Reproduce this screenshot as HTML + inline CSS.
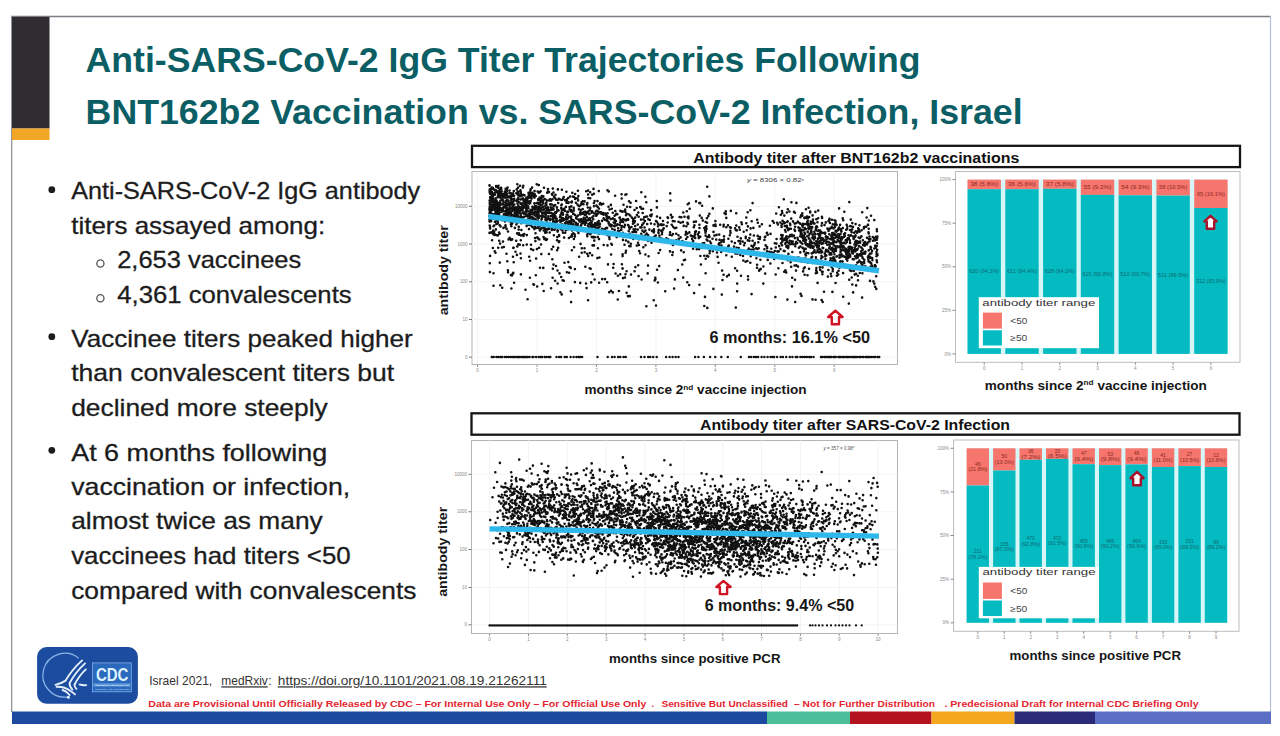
<!DOCTYPE html>
<html lang="en">
<head>
<meta charset="utf-8">
<title>Anti-SARS-CoV-2 IgG Titer Trajectories Following BNT162b2 Vaccination vs. SARS-CoV-2 Infection, Israel</title>
<style>
html,body{margin:0;padding:0;background:#fff;}
body{width:1280px;height:736px;overflow:hidden;}
svg{display:block;font-family:"Liberation Sans", sans-serif;}
svg text{white-space:pre;}
</style>
</head>
<body>
<svg width="1280" height="736" viewBox="0 0 1280 736">
<rect x="0" y="0" width="1280" height="736" fill="#ffffff"/>
<rect x="11.5" y="16.5" width="1259" height="707" fill="#ffffff" stroke="none"/>
<line x1="11" y1="16.5" x2="1271" y2="16.5" stroke="#7d7d86" stroke-width="1.4"/>
<line x1="11.7" y1="16" x2="11.7" y2="712" stroke="#8a8a94" stroke-width="1.2"/>
<line x1="1270.5" y1="16" x2="1270.5" y2="712" stroke="#b9c0dc" stroke-width="1.2"/>
<rect x="12" y="17" width="37.5" height="111.5" fill="#2f2d30"/>
<rect x="12" y="128.5" width="37.5" height="11.5" fill="#f2a626"/>
<rect x="12" y="711.5" width="755" height="12.5" fill="#1b4a9e"/>
<rect x="767" y="711.5" width="83" height="12.5" fill="#4cbf9a"/>
<rect x="850" y="711.5" width="81.5" height="12.5" fill="#b5121f"/>
<rect x="931.5" y="711.5" width="83.0" height="12.5" fill="#f4a81f"/>
<rect x="1014.5" y="711.5" width="80.5" height="12.5" fill="#2a2a78"/>
<rect x="1095" y="711.5" width="176" height="12.5" fill="#5a6ec4"/>
<text x="85.6" y="71.9" font-size="35.8" fill="#0b5e64" font-weight="bold" textLength="835.0" lengthAdjust="spacingAndGlyphs">Anti-SARS-CoV-2 IgG Titer Trajectories Following</text>
<text x="85.6" y="124.3" font-size="35.8" fill="#0b5e64" font-weight="bold" textLength="937.0" lengthAdjust="spacingAndGlyphs">BNT162b2 Vaccination vs. SARS-CoV-2 Infection, Israel</text>
<text x="71.2" y="199.4" font-size="23.4" fill="#1c1c1c" textLength="349.0" lengthAdjust="spacingAndGlyphs" stroke="#1c1c1c" stroke-width="0.3">Anti-SARS-CoV-2 IgG antibody</text>
<text x="71.2" y="233.8" font-size="23.4" fill="#1c1c1c" textLength="254.0" lengthAdjust="spacingAndGlyphs" stroke="#1c1c1c" stroke-width="0.3">titers assayed among:</text>
<text x="117.2" y="268.2" font-size="23.4" fill="#1c1c1c" textLength="184.0" lengthAdjust="spacingAndGlyphs" stroke="#1c1c1c" stroke-width="0.3">2,653 vaccinees</text>
<text x="117.2" y="302.8" font-size="23.4" fill="#1c1c1c" textLength="234.5" lengthAdjust="spacingAndGlyphs" stroke="#1c1c1c" stroke-width="0.3">4,361 convalescents</text>
<text x="71.2" y="346.6" font-size="23.4" fill="#1c1c1c" textLength="341.5" lengthAdjust="spacingAndGlyphs" stroke="#1c1c1c" stroke-width="0.3">Vaccinee titers peaked higher</text>
<text x="71.2" y="381.1" font-size="23.4" fill="#1c1c1c" textLength="323.0" lengthAdjust="spacingAndGlyphs" stroke="#1c1c1c" stroke-width="0.3">than convalescent titers but</text>
<text x="71.2" y="415.7" font-size="23.4" fill="#1c1c1c" textLength="256.5" lengthAdjust="spacingAndGlyphs" stroke="#1c1c1c" stroke-width="0.3">declined more steeply</text>
<text x="71.2" y="460.5" font-size="23.4" fill="#1c1c1c" textLength="256.0" lengthAdjust="spacingAndGlyphs" stroke="#1c1c1c" stroke-width="0.3">At 6 months following</text>
<text x="71.2" y="494.6" font-size="23.4" fill="#1c1c1c" textLength="279.0" lengthAdjust="spacingAndGlyphs" stroke="#1c1c1c" stroke-width="0.3">vaccination or infection,</text>
<text x="71.2" y="529.1" font-size="23.4" fill="#1c1c1c" textLength="251.5" lengthAdjust="spacingAndGlyphs" stroke="#1c1c1c" stroke-width="0.3">almost twice as many</text>
<text x="71.2" y="563.9" font-size="23.4" fill="#1c1c1c" textLength="279.5" lengthAdjust="spacingAndGlyphs" stroke="#1c1c1c" stroke-width="0.3">vaccinees had titers &lt;50</text>
<text x="71.2" y="598.5" font-size="23.4" fill="#1c1c1c" textLength="345.2" lengthAdjust="spacingAndGlyphs" stroke="#1c1c1c" stroke-width="0.3">compared with convalescents</text>
<circle cx="51.8" cy="189.7" r="3.4" fill="#1c1c1c"/>
<circle cx="51.8" cy="336.7" r="3.4" fill="#1c1c1c"/>
<circle cx="51.8" cy="450.3" r="3.4" fill="#1c1c1c"/>
<circle cx="100.4" cy="263.5" r="3.6" fill="none" stroke="#555" stroke-width="1.3"/>
<circle cx="100.4" cy="298.2" r="3.6" fill="none" stroke="#555" stroke-width="1.3"/>
<rect x="472" y="145.8" width="768" height="21.299999999999983" fill="#fff" stroke="#151515" stroke-width="2.3"/>
<text x="856.3" y="162.6" font-size="15.4" fill="#111" font-weight="bold" text-anchor="middle" textLength="326.0" lengthAdjust="spacingAndGlyphs">Antibody titer after BNT162b2 vaccinations</text>
<rect x="472" y="171.5" width="425.5" height="193.0" fill="#fff" stroke="#b4b4b4" stroke-width="1"/>
<line x1="477.5" y1="171.5" x2="477.5" y2="364.5" stroke="#f3f3f3" stroke-width="1"/>
<line x1="477.5" y1="364.5" x2="477.5" y2="366.9" stroke="#888" stroke-width="1"/>
<line x1="537.0" y1="171.5" x2="537.0" y2="364.5" stroke="#f3f3f3" stroke-width="1"/>
<line x1="537.0" y1="364.5" x2="537.0" y2="366.9" stroke="#888" stroke-width="1"/>
<line x1="596.4" y1="171.5" x2="596.4" y2="364.5" stroke="#f3f3f3" stroke-width="1"/>
<line x1="596.4" y1="364.5" x2="596.4" y2="366.9" stroke="#888" stroke-width="1"/>
<line x1="655.9" y1="171.5" x2="655.9" y2="364.5" stroke="#f3f3f3" stroke-width="1"/>
<line x1="655.9" y1="364.5" x2="655.9" y2="366.9" stroke="#888" stroke-width="1"/>
<line x1="715.3" y1="171.5" x2="715.3" y2="364.5" stroke="#f3f3f3" stroke-width="1"/>
<line x1="715.3" y1="364.5" x2="715.3" y2="366.9" stroke="#888" stroke-width="1"/>
<line x1="774.8" y1="171.5" x2="774.8" y2="364.5" stroke="#f3f3f3" stroke-width="1"/>
<line x1="774.8" y1="364.5" x2="774.8" y2="366.9" stroke="#888" stroke-width="1"/>
<line x1="834.2" y1="171.5" x2="834.2" y2="364.5" stroke="#f3f3f3" stroke-width="1"/>
<line x1="834.2" y1="364.5" x2="834.2" y2="366.9" stroke="#888" stroke-width="1"/>
<line x1="472" y1="206.3" x2="897.5" y2="206.3" stroke="#f3f3f3" stroke-width="1"/>
<line x1="469" y1="206.3" x2="472" y2="206.3" stroke="#777" stroke-width="1"/>
<line x1="472" y1="244.0" x2="897.5" y2="244.0" stroke="#f3f3f3" stroke-width="1"/>
<line x1="469" y1="244.0" x2="472" y2="244.0" stroke="#777" stroke-width="1"/>
<line x1="472" y1="281.8" x2="897.5" y2="281.8" stroke="#f3f3f3" stroke-width="1"/>
<line x1="469" y1="281.8" x2="472" y2="281.8" stroke="#777" stroke-width="1"/>
<line x1="472" y1="319.5" x2="897.5" y2="319.5" stroke="#f3f3f3" stroke-width="1"/>
<line x1="469" y1="319.5" x2="472" y2="319.5" stroke="#777" stroke-width="1"/>
<line x1="472" y1="357.2" x2="897.5" y2="357.2" stroke="#f3f3f3" stroke-width="1"/>
<line x1="469" y1="357.2" x2="472" y2="357.2" stroke="#777" stroke-width="1"/>
<text x="477.5" y="371.9" font-size="4.5" fill="#8a8a8a" text-anchor="middle">0</text>
<text x="537.0" y="371.9" font-size="4.5" fill="#8a8a8a" text-anchor="middle">1</text>
<text x="596.4" y="371.9" font-size="4.5" fill="#8a8a8a" text-anchor="middle">2</text>
<text x="655.9" y="371.9" font-size="4.5" fill="#8a8a8a" text-anchor="middle">3</text>
<text x="715.3" y="371.9" font-size="4.5" fill="#8a8a8a" text-anchor="middle">4</text>
<text x="774.8" y="371.9" font-size="4.5" fill="#8a8a8a" text-anchor="middle">5</text>
<text x="834.2" y="371.9" font-size="4.5" fill="#8a8a8a" text-anchor="middle">6</text>
<text x="467.5" y="207.9" font-size="4.5" fill="#8a8a8a" text-anchor="end">10000</text>
<text x="467.5" y="245.6" font-size="4.5" fill="#8a8a8a" text-anchor="end">1000</text>
<text x="467.5" y="283.4" font-size="4.5" fill="#8a8a8a" text-anchor="end">100</text>
<text x="467.5" y="321.1" font-size="4.5" fill="#8a8a8a" text-anchor="end">10</text>
<text x="467.5" y="358.8" font-size="4.5" fill="#8a8a8a" text-anchor="end">0</text>
<path d="M494.2 214.5h0M490.9 207.8h0M507.3 209.8h0M529.3 215.9h0M536.7 184.2h0M531.2 225.6h0M493.0 204.9h0M518.3 199.2h0M491.1 210.2h0M507.0 193.6h0M527.4 200.7h0M514.8 217.7h0M538.8 222.7h0M494.3 189.7h0M520.0 185.7h0M521.6 196.1h0M508.4 215.9h0M491.0 197.5h0M539.6 206.2h0M489.9 212.2h0M493.0 233.8h0M498.3 205.9h0M513.4 201.6h0M531.6 198.5h0M537.3 215.9h0M497.7 208.0h0M499.0 217.2h0M514.3 200.2h0M520.5 253.5h0M532.2 195.2h0M505.5 226.9h0M491.2 209.2h0M490.8 208.9h0M503.8 247.0h0M494.2 214.3h0M493.2 214.4h0M491.8 213.9h0M529.4 211.6h0M512.2 223.6h0M512.2 204.2h0M521.6 218.7h0M526.0 208.4h0M528.4 197.3h0M528.1 206.4h0M503.4 208.0h0M498.8 195.0h0M508.0 231.5h0M497.1 210.8h0M517.5 203.4h0M509.6 205.8h0M534.4 203.4h0M509.6 237.9h0M527.8 198.1h0M523.3 212.9h0M534.1 214.6h0M529.3 201.5h0M493.5 273.3h0M512.2 196.2h0M532.0 209.5h0M498.0 210.9h0M506.5 253.7h0M508.5 213.7h0M510.8 198.0h0M489.8 202.0h0M495.1 203.2h0M513.8 191.0h0M492.6 200.4h0M499.6 188.9h0M534.5 207.2h0M511.0 200.3h0M509.6 193.1h0M532.3 206.7h0M530.1 213.7h0M491.4 207.3h0M526.8 220.8h0M522.8 220.4h0M497.1 220.4h0M510.1 207.7h0M511.6 199.0h0M501.6 217.1h0M489.8 203.3h0M511.4 288.5h0M538.2 218.2h0M526.5 214.6h0M528.8 214.1h0M514.5 213.4h0M490.9 198.0h0M518.1 207.5h0M531.1 249.1h0M502.6 211.2h0M512.2 210.9h0M490.7 212.8h0M525.3 202.7h0M495.3 210.7h0M523.8 207.3h0M509.4 220.3h0M510.5 217.1h0M511.1 214.6h0M522.2 205.0h0M503.0 210.1h0M524.2 213.8h0M530.2 202.9h0M500.4 195.2h0M507.9 270.2h0M513.3 272.9h0M503.4 216.6h0M510.9 221.9h0M499.1 216.6h0M489.9 203.2h0M524.8 221.0h0M532.5 192.9h0M523.2 234.5h0M529.8 194.7h0M493.8 189.3h0M529.8 213.9h0M520.8 193.0h0M490.2 214.2h0M529.9 196.5h0M510.2 238.8h0M510.9 193.4h0M491.2 201.7h0M523.5 235.9h0M510.4 208.8h0M520.9 194.2h0M494.1 232.0h0M514.4 210.2h0M520.2 195.3h0M500.3 191.0h0M533.4 284.3h0M489.8 204.3h0M538.0 207.4h0M496.7 210.1h0M512.0 218.4h0M533.0 222.7h0M533.6 208.6h0M508.2 204.3h0M502.8 203.8h0M530.1 260.8h0M533.9 207.2h0M505.2 194.9h0M499.6 209.0h0M500.0 197.5h0M499.1 206.8h0M532.8 217.5h0M534.6 191.1h0M523.7 201.0h0M518.7 229.6h0M509.3 211.9h0M524.1 205.4h0M513.8 221.0h0M494.7 251.2h0M497.1 214.7h0M495.9 214.4h0M497.9 222.8h0M524.7 206.2h0M512.0 202.6h0M538.0 225.6h0M531.5 217.4h0M505.6 207.2h0M530.6 210.1h0M533.5 208.1h0M489.5 220.0h0M538.3 214.5h0M511.9 195.6h0M523.1 207.4h0M490.4 189.6h0M535.0 206.0h0M518.2 211.0h0M491.3 192.4h0M516.2 216.1h0M537.4 202.8h0M509.4 213.7h0M522.1 218.9h0M506.6 228.9h0M497.4 214.5h0M520.8 240.2h0M511.0 275.1h0M528.9 215.8h0M500.5 204.9h0M495.7 216.7h0M536.8 221.7h0M538.4 213.4h0M505.2 217.1h0M535.7 196.1h0M536.0 224.0h0M504.3 206.9h0M489.5 185.2h0M537.8 220.7h0M529.0 229.1h0M509.3 210.6h0M533.6 221.8h0M525.7 211.3h0M535.0 238.0h0M502.6 199.9h0M517.1 233.4h0M499.6 233.7h0M518.1 213.5h0M537.3 209.4h0M498.5 185.8h0M524.1 207.4h0M516.6 200.9h0M491.6 232.4h0M491.1 221.1h0M538.8 217.9h0M499.1 208.8h0M522.4 207.3h0M520.3 217.2h0M519.8 244.7h0M514.3 204.5h0M498.2 247.7h0M502.0 196.0h0M511.1 240.0h0M539.4 224.8h0M530.1 216.1h0M495.8 204.8h0M535.6 216.0h0M526.4 197.7h0M516.0 207.4h0M496.4 223.9h0M496.4 214.1h0M495.6 212.8h0M527.4 211.5h0M513.4 206.9h0M494.8 194.7h0M537.1 213.0h0M503.4 227.9h0M496.1 186.0h0M533.9 212.6h0M508.7 208.5h0M518.4 195.4h0M517.4 199.3h0M511.9 204.5h0M510.2 211.6h0M536.4 206.6h0M490.8 191.0h0M494.6 217.7h0M505.8 207.2h0M505.6 197.7h0M493.2 230.6h0M490.4 201.8h0M493.0 199.0h0M517.7 192.7h0M519.5 212.7h0M490.0 193.6h0M526.5 207.3h0M509.3 210.9h0M492.0 198.8h0M491.7 201.7h0M511.3 221.9h0M536.9 249.1h0M523.7 217.1h0M537.3 237.4h0M527.0 216.2h0M494.6 206.4h0M528.6 224.3h0M496.6 220.0h0M490.3 209.0h0M520.7 215.3h0M512.4 221.6h0M532.1 187.6h0M539.6 197.6h0M527.6 299.3h0M503.6 197.1h0M490.6 204.2h0M518.4 191.7h0M489.5 208.6h0M507.2 195.7h0M493.5 226.2h0M489.5 209.7h0M515.3 211.6h0M517.5 222.6h0M494.2 225.5h0M526.6 226.1h0M489.7 192.2h0M507.8 200.2h0M498.4 215.8h0M497.9 235.4h0M513.5 208.6h0M496.2 186.8h0M495.2 201.7h0M490.6 205.3h0M530.4 190.2h0M524.3 207.2h0M490.4 206.8h0M521.6 204.0h0M507.4 195.7h0M499.1 210.4h0M489.8 210.7h0M536.5 206.4h0M532.6 209.2h0M521.4 230.0h0M509.1 197.3h0M523.3 185.7h0M496.8 223.9h0M490.1 255.9h0M493.9 207.0h0M518.1 216.9h0M491.2 188.5h0M533.2 250.1h0M536.5 216.5h0M490.2 217.0h0M518.1 199.4h0M492.3 195.3h0M501.6 211.7h0M522.7 207.3h0M537.7 217.4h0M506.2 191.6h0M502.9 196.0h0M492.0 200.1h0M489.5 232.9h0M489.6 185.8h0M503.0 204.5h0M536.5 211.9h0M492.7 218.7h0M527.0 210.3h0M505.6 188.8h0M491.9 209.3h0M533.8 208.9h0M532.8 223.3h0M525.0 200.3h0M494.4 194.2h0M524.3 221.4h0M515.0 220.9h0M497.9 213.6h0M530.3 214.5h0M502.0 208.5h0M538.4 216.7h0M537.6 221.5h0M527.4 200.2h0M492.6 215.3h0M505.5 206.7h0M510.8 198.6h0M505.8 205.2h0M507.1 204.0h0M523.1 194.7h0M521.8 199.3h0M501.3 189.0h0M506.6 200.4h0M506.8 188.9h0M506.0 210.2h0M526.4 203.7h0M538.4 227.3h0M526.6 201.7h0M512.9 204.2h0M518.4 194.4h0M496.7 201.0h0M525.5 289.7h0M490.9 200.3h0M506.6 205.0h0M499.1 232.6h0M512.2 239.4h0M496.8 235.1h0M518.1 198.3h0M503.2 200.5h0M528.7 203.2h0M529.7 220.5h0M499.2 202.7h0M489.5 213.2h0M498.2 191.2h0M519.5 207.2h0M531.0 244.8h0M526.8 244.6h0M489.8 263.2h0M498.4 209.7h0M526.3 220.4h0M494.9 221.8h0M526.6 222.0h0M496.1 190.5h0M524.3 216.8h0M497.7 219.6h0M509.0 221.1h0M512.9 195.4h0M530.2 192.2h0M504.3 197.4h0M491.5 200.1h0M520.8 203.9h0M538.8 185.1h0M522.9 208.5h0M531.4 194.1h0M496.7 204.7h0M513.6 199.4h0M510.9 224.4h0M538.4 210.9h0M500.7 193.6h0M526.8 235.1h0M513.2 215.7h0M495.8 190.0h0M534.4 197.6h0M517.7 191.8h0M519.9 196.3h0M492.4 206.7h0M534.6 194.0h0M514.1 215.8h0M501.6 218.3h0M535.9 227.9h0M493.0 189.0h0M504.9 192.5h0M538.8 204.1h0M496.8 206.9h0M520.9 274.4h0M531.9 211.8h0M498.1 205.4h0M490.7 196.8h0M491.8 192.1h0M535.8 275.3h0M489.7 225.6h0M491.6 201.0h0M510.0 217.1h0M507.5 197.5h0M527.6 197.4h0M504.9 191.5h0M526.8 205.7h0M522.0 209.8h0M516.5 212.6h0M507.0 191.0h0M521.0 221.8h0M489.5 216.0h0M528.7 194.9h0M529.7 216.8h0M530.8 196.7h0M534.6 219.9h0M496.3 209.6h0M497.7 197.3h0M498.6 191.8h0M508.6 239.4h0M497.7 221.0h0M509.5 190.5h0M495.9 229.4h0M514.2 198.8h0M539.8 207.9h0M518.0 213.8h0M511.8 209.3h0M531.7 219.8h0M498.9 192.8h0M537.7 213.0h0M495.5 207.4h0M532.0 219.4h0M534.4 229.1h0M493.1 201.4h0M537.3 222.4h0M508.0 272.3h0M497.2 212.3h0M533.9 209.5h0M522.4 203.2h0M490.9 232.5h0M520.5 190.3h0M501.8 209.8h0M495.0 209.3h0M489.7 191.5h0M490.3 206.4h0M533.1 222.9h0M535.5 233.2h0M508.2 209.7h0M493.9 207.3h0M513.6 247.8h0M506.2 213.9h0M502.3 220.2h0M534.0 284.8h0M533.5 196.5h0M509.5 204.0h0M539.4 215.9h0M492.3 205.0h0M500.4 200.8h0M528.1 207.4h0M512.2 219.6h0M497.0 203.1h0M495.4 200.7h0M491.9 194.8h0M499.5 225.0h0M528.4 208.2h0M506.0 207.7h0M528.3 219.0h0M489.8 189.3h0M499.2 240.8h0M494.7 201.4h0M507.9 203.5h0M522.7 212.6h0M504.6 196.4h0M532.1 194.3h0M512.7 273.9h0M495.5 211.9h0M490.1 228.5h0M489.8 202.0h0M512.0 222.4h0M490.6 218.6h0M499.8 216.9h0M515.7 218.6h0M514.7 215.6h0M505.0 221.4h0M512.1 222.5h0M498.0 195.9h0M538.8 225.7h0M490.8 191.2h0M535.9 222.4h0M503.8 214.2h0M489.9 272.1h0M536.1 213.0h0M532.8 223.0h0M520.6 209.3h0M535.3 207.9h0M536.9 221.5h0M518.8 226.8h0M511.5 220.6h0M494.2 208.9h0M505.9 204.0h0M530.1 211.9h0M519.0 233.2h0M513.3 195.6h0M497.2 204.5h0M515.4 217.4h0M497.9 193.7h0M500.5 203.6h0M491.2 198.1h0M507.6 205.5h0M497.3 202.2h0M503.2 197.1h0M530.7 189.4h0M525.3 204.5h0M522.3 221.6h0M525.7 222.6h0M537.7 191.5h0M516.6 214.8h0M508.5 201.3h0M504.8 214.3h0M530.7 200.7h0M494.0 204.6h0M491.9 192.4h0M537.4 222.8h0M489.7 221.4h0M535.0 226.8h0M539.9 192.0h0M503.5 201.7h0M536.7 203.2h0M505.6 203.0h0M532.5 195.8h0M539.8 209.6h0M528.7 218.3h0M529.3 225.0h0M528.9 222.0h0M506.6 214.5h0M511.0 212.4h0M516.3 220.9h0M506.1 203.3h0M521.3 216.9h0M515.4 209.4h0M499.1 215.1h0M539.8 203.8h0M525.3 212.6h0M511.9 207.7h0M528.1 211.2h0M501.8 199.2h0M492.3 207.3h0M503.0 200.7h0M515.2 207.6h0M517.3 210.3h0M531.0 223.6h0M516.3 193.3h0M536.8 221.5h0M497.2 211.6h0M498.1 215.2h0M538.2 199.4h0M492.9 193.6h0M493.2 209.4h0M498.2 213.1h0M490.3 198.2h0M492.1 240.2h0M507.8 209.5h0M494.6 200.4h0M496.6 192.0h0M497.4 214.4h0M533.7 220.4h0M498.3 208.0h0M511.4 226.3h0M526.0 198.8h0M505.1 211.4h0M501.7 191.4h0M514.1 195.8h0M501.2 209.8h0M499.9 203.0h0M526.2 210.4h0M490.1 197.2h0M503.2 194.3h0M530.5 192.9h0M495.5 252.7h0M522.6 210.9h0M496.2 200.2h0M518.3 244.3h0M522.8 221.0h0M503.0 241.6h0M500.1 243.6h0M490.6 208.0h0M496.7 204.7h0M491.9 187.6h0M499.8 262.6h0M535.6 219.3h0M529.5 203.6h0M507.0 205.1h0M493.4 218.6h0M498.9 207.5h0M518.3 205.6h0M506.2 215.0h0M522.2 210.0h0M498.1 187.8h0M532.8 227.3h0M528.6 215.7h0M495.0 192.4h0M529.6 217.6h0M496.5 212.8h0M521.9 199.0h0M501.9 198.9h0M489.7 206.7h0M491.8 215.9h0M510.1 202.7h0M513.0 256.7h0M517.7 200.7h0M493.8 234.5h0M500.5 226.4h0M535.4 241.1h0M524.3 199.6h0M529.2 197.7h0M529.6 211.9h0M517.7 215.7h0M534.1 194.8h0M500.7 203.6h0M521.1 221.1h0M492.0 216.9h0M523.2 245.2h0M526.9 203.4h0M506.6 219.8h0M519.9 211.2h0M507.8 200.4h0M496.1 213.9h0M538.2 228.1h0M517.3 184.3h0M516.7 189.4h0M500.7 191.4h0M490.1 227.2h0M491.8 191.8h0M512.3 215.2h0M492.9 248.0h0M492.8 201.9h0M498.5 207.7h0M497.4 212.7h0M491.7 210.5h0M507.6 187.5h0M492.9 196.6h0M492.4 196.7h0M514.1 209.2h0M526.3 215.8h0M489.8 203.7h0M506.9 213.0h0M532.1 226.8h0M524.5 195.4h0M520.7 213.5h0M536.7 215.6h0M516.4 224.4h0M492.8 198.2h0M507.9 196.6h0M492.8 208.3h0M495.6 198.2h0M494.0 218.4h0M521.2 207.7h0M494.3 201.7h0M527.7 214.7h0M520.7 199.5h0M505.2 204.7h0M491.5 206.7h0M490.5 214.2h0M514.9 227.9h0M489.6 200.5h0M539.1 215.5h0M499.5 204.9h0M499.0 195.5h0M514.0 200.1h0M526.2 199.7h0M527.4 199.0h0M520.8 207.4h0M518.1 187.6h0M505.9 215.7h0M539.3 203.0h0M503.1 207.6h0M508.3 210.3h0M500.8 208.4h0M501.1 187.7h0M515.2 212.9h0M539.2 200.3h0M507.0 215.5h0M499.6 207.4h0M499.2 208.2h0M505.5 225.4h0M518.9 234.8h0M516.2 240.8h0M502.7 211.4h0M532.3 214.2h0M524.7 202.9h0M520.6 216.5h0M517.6 209.5h0M516.0 221.1h0M535.3 211.7h0M523.2 206.0h0M494.5 234.0h0M528.5 192.8h0M519.4 202.2h0M524.2 234.0h0M526.3 211.0h0M499.7 194.9h0M489.6 191.0h0M539.3 239.4h0M490.1 206.8h0M513.7 262.3h0M494.2 231.7h0M494.7 234.9h0M538.9 192.7h0M502.8 194.0h0M492.6 204.4h0M518.7 208.2h0M506.1 201.0h0M517.7 215.0h0M507.3 212.4h0M518.6 213.3h0M494.5 202.0h0M499.2 206.9h0M510.0 196.4h0M520.8 192.1h0M496.7 206.8h0M526.5 215.8h0M500.6 209.4h0M489.6 221.6h0M523.9 213.9h0M492.0 217.1h0M538.7 217.5h0M521.2 223.3h0M507.1 208.4h0M501.5 194.7h0M510.1 219.1h0M521.0 235.4h0M492.8 187.8h0M538.0 208.9h0M499.5 212.8h0M490.5 190.0h0M489.7 209.3h0M513.1 193.4h0M522.9 187.4h0M538.3 199.9h0M539.9 230.4h0M498.6 210.3h0M498.0 209.1h0M526.8 222.9h0M518.8 210.8h0M538.2 238.4h0M511.3 212.6h0M524.4 206.2h0M505.2 191.2h0M517.8 194.7h0M516.9 254.9h0M523.1 198.5h0M535.5 209.1h0M512.2 205.2h0M508.6 211.0h0M533.4 218.1h0M589.9 218.4h0M547.4 219.1h0M546.2 213.8h0M567.2 225.9h0M599.8 204.3h0M567.0 217.9h0M549.0 192.1h0M562.0 212.5h0M560.4 222.0h0M541.1 228.8h0M543.5 237.1h0M556.5 212.0h0M545.5 230.2h0M591.5 230.2h0M587.5 212.9h0M566.6 214.7h0M582.8 201.2h0M588.6 224.1h0M563.1 218.2h0M598.3 213.4h0M562.3 209.7h0M585.4 218.6h0M571.5 228.0h0M541.5 198.1h0M567.8 218.5h0M568.4 202.9h0M566.4 191.8h0M580.2 212.7h0M564.1 237.6h0M573.2 213.9h0M553.2 246.8h0M546.1 240.0h0M573.9 239.0h0M582.7 209.1h0M543.3 196.4h0M599.9 224.1h0M592.3 227.6h0M571.1 302.1h0M556.5 222.0h0M555.3 198.4h0M565.2 223.0h0M592.0 211.3h0M591.4 224.0h0M543.1 200.4h0M569.3 221.4h0M561.9 219.2h0M573.4 224.4h0M572.0 236.5h0M573.9 210.4h0M557.5 230.4h0M588.1 190.6h0M566.7 219.5h0M543.5 206.8h0M591.8 237.0h0M550.8 207.4h0M573.7 196.8h0M580.5 214.4h0M552.7 225.3h0M552.4 216.2h0M587.1 234.7h0M564.9 210.9h0M581.2 219.4h0M581.7 252.8h0M557.6 231.6h0M559.1 235.1h0M549.2 200.4h0M549.1 228.7h0M598.8 227.3h0M578.4 232.9h0M545.6 211.6h0M583.7 212.3h0M589.7 268.3h0M599.8 212.0h0M571.6 202.4h0M569.8 227.7h0M545.6 219.1h0M572.4 220.0h0M556.3 199.7h0M590.7 268.8h0M541.9 218.8h0M596.7 214.4h0M543.0 201.1h0M584.5 248.2h0M557.9 230.7h0M545.7 212.0h0M587.3 212.4h0M570.8 236.7h0M547.9 210.4h0M561.2 208.1h0M550.2 204.4h0M559.9 220.2h0M548.9 254.0h0M547.0 200.6h0M572.2 229.1h0M549.8 199.5h0M551.9 209.8h0M552.2 219.5h0M592.3 217.4h0M596.6 215.3h0M587.5 212.2h0M585.0 224.7h0M541.9 201.5h0M571.1 216.5h0M574.7 234.6h0M587.0 212.2h0M543.7 230.5h0M599.0 239.1h0M581.5 203.4h0M567.7 229.3h0M540.6 199.1h0M545.3 238.5h0M580.7 226.3h0M548.4 218.5h0M559.9 217.3h0M599.8 204.1h0M586.8 216.7h0M585.1 219.7h0M590.7 230.3h0M545.5 205.5h0M597.9 222.0h0M584.7 252.3h0M596.2 215.8h0M588.1 194.5h0M566.1 217.0h0M557.9 189.4h0M571.9 234.6h0M587.2 253.8h0M553.9 226.2h0M554.2 229.8h0M594.5 213.5h0M587.0 204.5h0M581.0 219.4h0M545.2 199.3h0M590.2 198.3h0M587.6 232.0h0M541.0 244.5h0M565.1 200.3h0M567.4 214.7h0M590.7 225.7h0M557.5 221.0h0M582.1 203.9h0M547.2 192.7h0M542.5 212.5h0M597.5 224.6h0M553.5 192.5h0M563.7 197.0h0M597.3 223.7h0M589.8 233.8h0M540.0 267.7h0M567.3 211.9h0M555.0 221.9h0M591.7 224.1h0M562.6 224.5h0M544.6 199.1h0M566.6 201.8h0M577.9 226.2h0M571.3 223.7h0M561.8 204.5h0M543.4 203.4h0M566.9 199.5h0M593.5 216.0h0M559.5 273.4h0M593.5 236.9h0M574.6 226.9h0M584.8 211.9h0M556.9 207.4h0M565.2 225.4h0M578.9 209.2h0M597.8 207.0h0M581.5 221.9h0M589.6 227.7h0M560.8 229.3h0M592.6 245.4h0M550.2 218.8h0M563.0 214.8h0M597.7 227.7h0M596.6 227.8h0M566.3 222.0h0M563.6 220.3h0M552.2 208.3h0M567.0 199.9h0M558.9 242.1h0M568.2 198.0h0M580.2 212.5h0M595.0 226.6h0M557.3 209.9h0M542.5 227.8h0M574.0 221.4h0M554.6 229.7h0M585.2 211.7h0M564.8 219.3h0M578.7 220.0h0M578.0 215.6h0M596.4 205.6h0M560.5 215.0h0M551.1 200.6h0M571.9 201.6h0M548.0 189.0h0M544.0 187.7h0M580.1 213.9h0M564.2 208.8h0M587.3 236.2h0M549.1 210.2h0M593.9 203.1h0M584.6 201.4h0M547.9 191.5h0M582.2 213.8h0M576.2 217.7h0M556.4 219.7h0M545.6 228.9h0M561.6 208.5h0M544.3 208.8h0M577.8 224.0h0M543.5 209.9h0M573.3 233.2h0M546.6 232.4h0M560.4 216.5h0M574.1 247.3h0M552.5 215.3h0M541.8 196.1h0M541.7 205.3h0M577.8 215.7h0M575.1 198.9h0M553.6 209.4h0M599.7 226.5h0M599.2 233.2h0M548.0 207.3h0M581.0 204.6h0M551.4 213.0h0M557.0 240.3h0M571.0 218.4h0M551.8 229.9h0M582.1 230.7h0M584.9 230.3h0M583.2 223.0h0M540.8 200.2h0M583.3 213.7h0M549.8 220.2h0M599.5 223.4h0M561.3 213.4h0M588.3 219.5h0M549.2 213.0h0M568.3 229.2h0M568.6 202.3h0M547.7 229.4h0M570.5 222.4h0M541.3 202.2h0M598.8 191.1h0M583.9 222.7h0M548.0 218.3h0M575.1 194.0h0M540.5 211.4h0M542.6 197.0h0M572.1 224.5h0M577.5 198.2h0M552.3 259.2h0M563.0 232.8h0M547.6 225.2h0M575.1 215.0h0M582.4 230.6h0M543.2 216.3h0M564.0 210.1h0M579.0 206.1h0M568.3 262.1h0M575.9 222.8h0M599.2 230.3h0M587.3 203.1h0M542.3 283.9h0M588.2 220.2h0M554.4 197.1h0M553.2 224.6h0M595.2 223.4h0M541.1 202.1h0M546.2 207.7h0M588.4 233.0h0M546.3 202.6h0M593.4 237.5h0M573.4 213.5h0M570.1 196.5h0M544.7 228.2h0M557.5 200.0h0M540.5 229.1h0M588.7 218.5h0M547.3 212.7h0M546.6 220.7h0M572.8 227.9h0M591.0 225.6h0M546.1 203.4h0M548.9 227.5h0M598.7 221.1h0M546.8 209.7h0M575.9 202.8h0M576.7 216.8h0M595.0 223.3h0M590.2 192.3h0M541.8 215.7h0M592.7 274.3h0M566.5 202.8h0M555.2 205.1h0M545.7 217.3h0M598.9 233.8h0M590.2 207.9h0M585.2 214.9h0M541.3 254.1h0M595.3 227.6h0M586.2 230.1h0M571.9 250.2h0M558.8 198.7h0M562.0 218.0h0M571.9 211.6h0M572.3 192.7h0M581.4 227.7h0M545.4 219.8h0M594.4 225.9h0M582.9 219.9h0M581.2 224.9h0M584.8 214.9h0M541.7 217.3h0M552.6 277.7h0M578.6 205.7h0M581.7 202.1h0M543.8 213.4h0M561.7 217.9h0M569.6 209.4h0M586.2 221.0h0M558.2 203.0h0M581.4 213.7h0M595.9 211.5h0M589.9 253.1h0M553.6 215.8h0M556.7 218.9h0M594.3 240.6h0M575.2 198.0h0M550.8 216.0h0M599.0 208.6h0M553.4 214.7h0M591.2 282.4h0M561.8 200.0h0M548.3 209.6h0M571.4 222.4h0M587.8 225.7h0M562.8 213.0h0M553.1 217.6h0M561.9 189.8h0M543.0 212.9h0M590.2 220.1h0M566.3 228.0h0M582.7 220.9h0M568.8 221.6h0M566.4 217.6h0M561.7 224.5h0M544.3 239.1h0M573.8 207.9h0M597.7 237.0h0M571.5 220.5h0M591.9 221.5h0M555.9 227.6h0M567.7 223.2h0M559.1 235.9h0M561.7 294.4h0M568.9 216.8h0M579.2 219.5h0M541.5 208.0h0M554.0 196.9h0M576.3 225.8h0M596.7 232.2h0M591.4 221.5h0M553.6 206.5h0M594.1 224.8h0M542.2 213.5h0M584.9 220.4h0M596.4 215.7h0M596.9 232.8h0M570.7 211.3h0M569.5 207.1h0M590.0 210.3h0M553.6 205.6h0M560.6 221.6h0M541.4 219.6h0M540.0 226.2h0M555.5 194.7h0M548.3 216.2h0M597.6 223.4h0M571.3 206.4h0M593.2 225.1h0M550.1 199.2h0M593.3 219.3h0M591.6 212.7h0M564.5 262.8h0M546.2 220.0h0M557.3 237.1h0M592.2 194.8h0M588.4 211.4h0M570.8 222.2h0M579.5 221.5h0M597.7 222.1h0M593.9 193.8h0M550.9 209.8h0M562.0 219.7h0M580.6 243.9h0M577.5 204.5h0M540.6 191.3h0M580.7 210.1h0M597.5 211.1h0M554.0 217.8h0M564.5 210.1h0M594.0 245.4h0M561.6 212.2h0M553.4 220.3h0M542.1 222.8h0M565.2 232.7h0M596.5 210.8h0M561.3 205.3h0M568.9 238.0h0M549.7 212.6h0M597.7 224.7h0M578.1 200.4h0M598.0 248.3h0M558.1 247.9h0M576.1 224.0h0M551.9 228.8h0M583.5 204.3h0M544.2 216.8h0M581.8 223.4h0M555.9 213.0h0M546.9 209.4h0M598.2 228.5h0M571.3 202.1h0M555.5 216.4h0M549.7 232.5h0M581.8 248.2h0M583.7 220.9h0M569.5 267.0h0M573.6 220.5h0M581.6 212.7h0M587.8 207.5h0M545.7 215.6h0M588.2 231.4h0M553.9 235.2h0M573.9 221.4h0M574.9 236.6h0M554.5 225.1h0M572.0 230.4h0M553.3 213.9h0M578.4 196.1h0M552.3 194.7h0M579.8 221.4h0M553.6 218.6h0M597.5 201.1h0M558.6 210.5h0M576.6 218.6h0M570.8 267.9h0M592.6 212.3h0M551.9 227.7h0M571.3 210.1h0M586.5 220.5h0M563.2 198.6h0M555.2 212.4h0M568.6 222.1h0M586.2 191.2h0M596.0 224.7h0M546.3 203.7h0M542.2 202.2h0M594.6 232.1h0M577.2 230.4h0M586.2 222.7h0M545.1 232.8h0M543.1 224.8h0M586.1 221.2h0M544.2 227.6h0M590.0 223.2h0M585.9 212.0h0M554.6 215.4h0M547.0 239.2h0M593.5 188.9h0M576.2 218.3h0M567.9 211.9h0M551.6 204.4h0M546.4 205.1h0M555.3 217.8h0M599.4 257.5h0M559.3 241.2h0M560.5 225.7h0M589.3 214.0h0M585.8 214.3h0M594.0 206.2h0M589.1 228.1h0M562.5 230.6h0M562.7 220.7h0M594.6 201.1h0M585.3 266.8h0M588.3 198.0h0M583.7 217.9h0M579.4 206.3h0M590.4 234.3h0M560.2 199.5h0M590.9 233.2h0M548.3 209.2h0M579.1 256.8h0M572.9 196.6h0M560.4 215.9h0M552.8 188.6h0M555.0 222.2h0M541.6 209.4h0M544.1 213.3h0M551.9 194.1h0M597.2 228.0h0M577.9 190.7h0M584.0 219.1h0M592.4 227.4h0M589.8 224.6h0M569.0 224.5h0M552.5 199.2h0M561.8 209.7h0M594.9 237.2h0M565.9 206.9h0M565.8 230.3h0M589.2 210.6h0M584.7 220.9h0M553.1 222.1h0M622.8 219.6h0M655.8 235.5h0M619.7 225.0h0M630.0 233.9h0M608.6 232.3h0M647.7 273.4h0M633.1 221.5h0M652.1 230.9h0M601.4 213.7h0M653.9 237.1h0M656.0 221.1h0M608.6 222.0h0M636.1 232.1h0M625.2 209.6h0M628.1 225.0h0M620.4 219.7h0M615.3 211.0h0M610.5 224.5h0M635.1 217.7h0M645.0 221.1h0M650.3 215.4h0M603.2 213.0h0M604.2 219.2h0M640.7 238.3h0M638.3 212.6h0M614.7 226.3h0M624.6 236.5h0M618.2 228.2h0M605.1 228.9h0M630.3 237.6h0M626.4 194.2h0M628.3 241.9h0M608.7 223.6h0M642.1 225.1h0M624.2 211.2h0M641.4 227.4h0M609.1 217.1h0M651.0 223.5h0M621.3 229.7h0M626.0 215.2h0M633.3 219.1h0M608.7 191.4h0M651.1 210.1h0M620.4 210.9h0M633.0 223.8h0M653.9 229.4h0M601.6 204.4h0M621.8 221.6h0M621.0 234.1h0M628.6 214.2h0M623.2 222.1h0M622.2 211.7h0M621.8 211.4h0M619.9 217.6h0M609.6 225.4h0M603.6 218.4h0M608.8 223.3h0M615.8 214.6h0M656.8 201.1h0M655.3 277.9h0M626.0 250.8h0M651.5 242.7h0M645.2 235.6h0M658.6 230.2h0M607.5 245.4h0M637.8 229.6h0M610.9 204.9h0M621.6 194.3h0M626.1 220.4h0M658.5 233.1h0M642.4 230.6h0M609.1 217.9h0M631.8 217.6h0M602.0 220.9h0M627.1 206.8h0M636.1 201.0h0M651.6 240.2h0M633.6 229.3h0M623.0 239.9h0M647.2 224.1h0M600.3 203.0h0M634.2 230.1h0M624.5 244.7h0M636.9 215.1h0M622.6 268.6h0M647.5 238.1h0M641.3 192.3h0M645.5 245.2h0M609.5 209.5h0M655.4 279.2h0M645.4 254.5h0M634.4 222.4h0M635.2 226.1h0M646.6 233.6h0M606.8 216.0h0M626.5 219.9h0M638.9 239.3h0M643.3 247.2h0M616.7 237.1h0M655.2 236.2h0M634.3 221.6h0M645.5 230.6h0M657.0 216.5h0M607.1 228.1h0M603.2 230.5h0M632.5 232.1h0M622.6 256.1h0M602.0 228.7h0M605.2 220.0h0M627.9 219.0h0M643.1 208.8h0M611.1 254.5h0M607.2 235.1h0M620.2 274.3h0M628.4 242.2h0M615.0 223.4h0M636.8 245.6h0M646.3 202.2h0M626.6 271.2h0M648.3 219.2h0M644.7 239.0h0M649.4 229.6h0M641.0 219.6h0M624.3 227.1h0M628.2 219.7h0M633.2 232.0h0M635.4 267.1h0M622.1 226.0h0M634.9 221.1h0M623.1 219.1h0M612.3 229.0h0M637.8 224.6h0M656.9 207.4h0M638.0 242.7h0M651.8 214.6h0M618.0 231.0h0M614.7 220.4h0M633.2 239.0h0M607.1 218.5h0M640.1 253.2h0M640.7 207.4h0M600.1 231.5h0M658.1 223.7h0M624.9 219.8h0M635.4 229.3h0M610.8 219.1h0M606.1 215.3h0M630.9 243.8h0M658.0 223.7h0M649.8 220.0h0M606.6 217.1h0M621.9 226.2h0M657.2 240.3h0M639.2 251.0h0M633.1 220.9h0M654.0 231.4h0M609.5 239.1h0M648.1 240.9h0M634.5 210.0h0M600.9 231.5h0M614.2 226.1h0M614.5 219.2h0M628.6 225.8h0M620.1 222.6h0M650.1 240.1h0M630.2 215.6h0M604.2 229.2h0M605.3 213.5h0M625.4 194.7h0M614.7 229.9h0M619.5 217.7h0M642.4 224.5h0M607.3 220.9h0M638.9 245.0h0M603.5 214.8h0M644.5 227.5h0M630.6 246.3h0M626.0 240.5h0M600.2 230.6h0M611.9 244.7h0M659.6 238.2h0M616.0 221.1h0M641.3 233.7h0M609.3 237.1h0M659.4 235.7h0M629.3 246.1h0M629.7 228.7h0M617.5 224.3h0M608.5 206.7h0M607.6 213.3h0M658.6 253.0h0M648.1 235.0h0M603.2 203.7h0M643.4 219.5h0M642.7 213.0h0M658.7 229.9h0M643.6 223.1h0M638.2 265.3h0M643.0 236.0h0M640.3 227.4h0M621.2 229.5h0M654.5 224.3h0M651.9 239.7h0M656.9 221.8h0M611.8 208.7h0M622.4 221.1h0M635.3 232.0h0M630.2 207.0h0M611.1 226.4h0M616.5 213.8h0M631.0 274.6h0M630.6 202.8h0M617.4 214.2h0M629.0 201.3h0M612.8 212.8h0M621.6 227.3h0M644.0 232.1h0M647.1 216.5h0M641.6 208.8h0M603.7 245.0h0M631.5 227.0h0M658.0 226.3h0M606.5 227.7h0M644.2 217.2h0M629.2 227.4h0M653.7 232.4h0M625.3 211.7h0M658.5 232.3h0M616.9 225.2h0M651.1 216.2h0M625.6 252.7h0M622.5 268.4h0M626.4 213.6h0M601.2 212.4h0M622.8 232.9h0M645.7 216.7h0M611.3 243.8h0M636.7 208.1h0M612.0 225.4h0M635.2 217.5h0M619.3 231.1h0M638.7 216.7h0M612.8 218.4h0M625.0 224.9h0M659.2 266.1h0M614.6 215.8h0M622.6 254.3h0M648.6 256.2h0M628.7 231.1h0M613.7 222.5h0M753.4 227.9h0M756.0 248.4h0M750.3 234.6h0M779.2 246.2h0M685.5 234.7h0M670.9 214.9h0M694.7 235.5h0M721.9 240.3h0M719.2 245.0h0M763.3 283.6h0M702.9 220.6h0M694.1 293.1h0M704.3 255.8h0M723.8 224.8h0M699.4 224.7h0M774.8 251.0h0M708.2 256.6h0M739.8 229.8h0M754.8 243.0h0M759.8 238.9h0M686.4 226.3h0M741.9 224.3h0M683.7 252.3h0M743.3 260.5h0M676.3 227.8h0M680.6 222.7h0M676.1 240.3h0M734.0 246.6h0M741.4 222.4h0M728.6 249.9h0M759.6 226.4h0M750.4 210.3h0M758.7 248.3h0M672.8 252.2h0M776.6 239.0h0M692.1 238.9h0M722.5 280.0h0M712.8 251.2h0M742.6 241.6h0M767.8 234.7h0M663.1 229.6h0M734.9 243.0h0M695.1 231.9h0M770.4 263.5h0M712.8 208.4h0M693.7 236.6h0M687.3 282.3h0M726.3 217.9h0M763.4 266.5h0M715.7 226.0h0M774.8 243.3h0M749.4 238.0h0M707.5 240.6h0M774.5 258.2h0M721.2 252.0h0M749.4 240.8h0M702.8 243.4h0M747.9 226.4h0M678.5 235.3h0M716.6 234.9h0M746.7 230.3h0M757.5 249.0h0M736.3 225.6h0M686.1 239.0h0M660.2 224.8h0M726.3 255.2h0M735.1 268.3h0M695.0 233.9h0M757.8 222.8h0M740.8 238.4h0M709.4 236.9h0M677.9 270.1h0M706.6 239.6h0M729.3 251.2h0M724.5 213.3h0M662.0 225.1h0M683.9 260.3h0M728.4 238.7h0M696.8 249.2h0M687.4 222.8h0M717.6 256.9h0M743.0 256.0h0M748.0 276.2h0M764.4 249.3h0M670.1 232.4h0M718.7 244.3h0M715.4 224.5h0M754.6 244.4h0M661.0 230.6h0M673.0 234.0h0M685.1 259.7h0M709.4 196.4h0M707.1 255.9h0M721.5 245.6h0M712.5 238.7h0M681.4 217.3h0M767.0 232.7h0M715.4 221.1h0M689.4 232.4h0M704.3 228.1h0M777.4 251.4h0M735.8 230.1h0M696.0 231.4h0M747.4 261.0h0M738.8 248.0h0M699.0 232.4h0M700.4 256.0h0M694.4 225.4h0M757.0 267.8h0M668.2 239.4h0M663.0 221.0h0M707.4 237.0h0M709.8 250.3h0M696.0 221.6h0M687.4 237.0h0M698.6 236.1h0M750.6 228.4h0M673.1 242.5h0M764.9 254.9h0M751.5 245.7h0M711.0 243.3h0M767.7 259.9h0M709.9 247.4h0M769.9 225.7h0M667.6 217.4h0M673.1 226.7h0M705.1 247.8h0M661.9 234.3h0M669.8 234.8h0M722.1 270.6h0M710.0 241.5h0M760.8 269.1h0M671.7 224.8h0M709.0 235.4h0M667.7 222.5h0M730.5 232.9h0M682.4 241.1h0M693.8 227.3h0M737.1 270.7h0M719.5 239.9h0M721.1 242.2h0M746.3 217.5h0M692.9 242.0h0M767.1 248.2h0M757.7 235.9h0M684.5 216.7h0M727.0 276.4h0M681.1 250.4h0M683.3 212.5h0M745.6 261.8h0M672.5 217.1h0M665.2 291.3h0M706.9 218.3h0M705.0 230.6h0M708.3 216.1h0M721.8 294.6h0M775.8 247.5h0M760.7 269.1h0M745.8 236.7h0M760.0 237.1h0M717.0 252.5h0M704.2 243.1h0M740.3 243.7h0M728.2 246.6h0M672.3 255.0h0M686.8 211.3h0M699.5 228.0h0M707.4 246.8h0M705.6 273.2h0M705.0 296.9h0M687.4 233.6h0M671.9 235.2h0M729.8 235.2h0M776.4 243.6h0M778.7 251.4h0M662.5 240.7h0M757.2 219.7h0M678.5 221.7h0M691.9 236.0h0M728.8 251.0h0M735.4 253.5h0M728.0 225.3h0M771.3 248.7h0M744.8 243.0h0M737.5 253.7h0M713.5 225.4h0M751.2 249.8h0M757.1 264.7h0M767.1 247.0h0M719.2 243.3h0M773.9 222.8h0M735.8 307.6h0M680.9 243.7h0M662.1 232.1h0M709.4 213.8h0M753.6 249.4h0M688.5 218.3h0M737.5 236.7h0M698.8 238.1h0M700.3 236.8h0M666.7 226.1h0M760.4 259.7h0M730.3 230.7h0M661.5 224.4h0M667.9 241.7h0M705.1 227.4h0M747.8 240.4h0M731.8 256.7h0M764.5 240.0h0M765.4 236.6h0M693.2 240.7h0M689.7 208.7h0M705.5 232.7h0M699.8 215.6h0M771.4 253.0h0M779.1 246.1h0M726.3 227.2h0M776.2 213.5h0M724.0 236.4h0M773.6 252.5h0M765.2 273.6h0M663.7 228.3h0M705.7 258.8h0M723.5 226.4h0M699.1 249.1h0M774.2 259.0h0M706.3 226.3h0M756.4 258.3h0M752.9 246.9h0M719.2 234.6h0M679.6 217.0h0M771.4 252.4h0M678.7 238.8h0M744.1 245.3h0M674.6 221.2h0M758.5 238.7h0M686.0 231.9h0M660.1 217.9h0M759.1 270.7h0M752.8 254.0h0M699.3 203.1h0M770.5 233.9h0M761.9 224.2h0M693.1 248.8h0M676.2 233.8h0M743.7 231.7h0M674.6 228.3h0M671.8 217.6h0M752.6 240.8h0M672.8 221.1h0M765.6 245.4h0M750.3 262.8h0M670.0 251.4h0M764.8 237.3h0M700.9 264.5h0M745.7 238.1h0M723.8 241.7h0M695.2 238.0h0M748.7 249.1h0M693.9 221.9h0M705.6 222.0h0M772.7 221.0h0M690.8 235.6h0M720.2 224.7h0M678.8 240.5h0M705.9 230.9h0M767.1 251.4h0M748.8 248.6h0M739.2 227.3h0M713.5 231.9h0M769.5 251.8h0M775.7 274.5h0M736.8 230.4h0M709.6 253.3h0M758.3 242.3h0M759.4 269.7h0M716.2 239.6h0M747.7 250.4h0M709.8 250.9h0M766.8 233.1h0M672.9 245.0h0M730.0 227.2h0M777.9 224.4h0M680.6 237.4h0M730.9 227.7h0M697.8 234.3h0M713.6 225.8h0M666.4 238.3h0M753.9 235.5h0M688.4 216.5h0M723.9 239.5h0M740.1 241.3h0M705.6 235.6h0M668.0 218.0h0M738.5 241.1h0M718.5 262.8h0M735.1 228.2h0M682.3 264.5h0M714.4 235.6h0M701.7 217.9h0M707.1 222.8h0M682.9 222.1h0M736.6 247.7h0M687.7 217.2h0M661.5 238.5h0M746.3 223.2h0M687.9 223.9h0M702.0 248.0h0M728.8 245.6h0M778.4 268.2h0M663.6 224.8h0M706.6 228.8h0M754.1 245.3h0M750.7 256.3h0M686.2 233.2h0M660.1 250.1h0M751.7 221.3h0M740.3 255.0h0M731.7 241.5h0M683.7 225.9h0M787.0 239.0h0M791.6 258.3h0M782.3 237.0h0M785.0 238.6h0M785.4 244.0h0M795.0 230.9h0M791.2 266.7h0M780.3 222.5h0M786.4 246.3h0M798.0 266.6h0M786.2 272.4h0M785.4 243.4h0M782.4 241.6h0M791.6 243.3h0M786.1 237.1h0M786.9 212.5h0M795.8 223.3h0M782.7 235.2h0M792.2 277.7h0M797.7 257.6h0M784.8 240.0h0M790.0 223.6h0M783.8 199.3h0M783.8 250.9h0M780.8 238.8h0M790.6 262.2h0M781.9 238.4h0M797.2 243.1h0M795.3 246.3h0M788.0 229.0h0M786.9 240.9h0M790.9 228.8h0M782.3 236.7h0M792.0 286.4h0M782.0 211.1h0M794.5 229.5h0M795.0 279.7h0M787.7 221.3h0M789.4 229.0h0M780.5 249.1h0M781.6 227.0h0M799.5 223.0h0M799.1 257.9h0M794.6 265.5h0M788.8 237.3h0M796.3 265.4h0M785.4 240.0h0M799.9 241.4h0M784.2 271.8h0M793.3 244.3h0M798.9 247.8h0M781.1 243.4h0M782.1 245.2h0M780.8 214.7h0M789.9 244.3h0M796.0 270.6h0M788.4 247.0h0M784.8 223.1h0M797.8 221.5h0M790.3 235.0h0M786.6 236.3h0M782.5 263.0h0M789.7 240.9h0M793.9 235.6h0M794.6 223.6h0M791.1 235.9h0M786.9 225.9h0M796.1 242.1h0M782.1 239.6h0M794.9 238.1h0M791.2 218.6h0M793.0 221.4h0M795.1 226.8h0M782.6 220.7h0M791.2 241.4h0M787.8 209.2h0M781.8 256.4h0M787.9 260.2h0M791.8 234.8h0M797.5 237.8h0M785.7 231.7h0M797.9 239.7h0M784.8 226.0h0M789.4 211.5h0M784.7 251.1h0M782.3 213.1h0M799.7 228.4h0M781.2 235.1h0M781.4 225.5h0M797.8 222.3h0M792.3 252.0h0M788.4 253.9h0M782.4 223.9h0M786.9 227.4h0M796.3 258.4h0M786.6 246.9h0M799.0 230.5h0M788.2 230.1h0M792.8 241.6h0M791.2 244.0h0M792.4 236.2h0M790.3 225.1h0M795.6 243.7h0M788.8 228.6h0M783.3 239.6h0M784.3 215.6h0M788.1 248.1h0M787.9 245.8h0M798.4 227.4h0M799.6 230.2h0M785.4 270.2h0M787.2 222.0h0M789.2 236.5h0M786.7 242.1h0M790.9 257.1h0M788.7 242.7h0M784.2 222.2h0M785.0 230.0h0M785.6 239.8h0M794.0 211.9h0M840.5 246.1h0M810.2 212.5h0M836.3 236.4h0M815.0 238.1h0M802.9 223.8h0M815.9 252.5h0M822.1 252.1h0M818.4 245.7h0M850.0 230.0h0M817.5 222.2h0M805.4 254.4h0M821.7 251.4h0M857.7 248.8h0M810.2 228.3h0M811.1 223.9h0M806.9 244.9h0M831.9 219.7h0M855.4 236.3h0M802.6 247.9h0M808.9 238.4h0M848.5 251.8h0M852.8 259.1h0M849.2 255.6h0M809.6 234.1h0M810.2 243.8h0M807.9 220.7h0M825.0 233.8h0M805.4 261.2h0M857.1 232.8h0M833.2 234.3h0M815.8 273.2h0M820.0 235.6h0M833.4 262.8h0M849.3 251.3h0M809.0 229.0h0M843.0 237.5h0M851.6 249.5h0M850.3 235.8h0M846.2 256.8h0M821.9 216.8h0M847.1 257.6h0M822.5 257.1h0M818.9 245.7h0M859.8 273.0h0M832.8 224.3h0M833.4 235.0h0M857.0 250.0h0M841.7 239.5h0M850.0 246.7h0M800.7 234.0h0M848.3 257.9h0M847.8 257.7h0M855.8 231.2h0M817.2 247.4h0M848.5 235.2h0M830.2 260.6h0M822.6 233.0h0M834.9 227.1h0M832.8 269.1h0M844.3 243.3h0M852.7 253.3h0M844.3 211.7h0M840.2 247.4h0M804.7 267.4h0M820.0 233.4h0M856.4 245.4h0M834.6 234.0h0M821.5 255.9h0M859.3 246.5h0M807.7 232.1h0M807.8 262.4h0M859.4 241.8h0M813.8 246.5h0M803.5 230.0h0M834.8 259.8h0M818.6 230.4h0M829.2 220.0h0M817.7 251.7h0M838.2 274.6h0M854.5 249.7h0M810.9 223.0h0M845.7 243.3h0M821.9 239.8h0M837.1 272.8h0M821.0 233.2h0M810.9 247.4h0M836.5 256.5h0M845.4 248.6h0M858.1 254.9h0M861.9 254.3h0M801.6 233.2h0M816.4 226.7h0M857.9 257.5h0M854.4 244.5h0M825.8 237.0h0M815.8 229.3h0M843.9 237.0h0M805.9 255.4h0M821.6 244.0h0M861.9 253.4h0M828.4 270.0h0M833.0 234.6h0M832.1 237.8h0M852.3 223.1h0M834.7 249.0h0M801.5 261.4h0M835.6 283.0h0M827.2 251.5h0M836.7 246.8h0M844.2 250.4h0M850.1 242.9h0M854.7 247.5h0M846.8 240.6h0M826.8 241.5h0M836.5 242.2h0M843.1 249.6h0M827.2 244.7h0M820.1 230.6h0M824.9 240.5h0M820.1 241.1h0M838.9 246.9h0M856.9 268.3h0M841.5 254.4h0M847.0 255.7h0M829.3 228.9h0M811.5 228.4h0M834.1 257.7h0M820.4 238.1h0M839.1 241.5h0M862.0 265.1h0M858.2 228.3h0M812.6 215.4h0M861.0 253.8h0M829.5 218.7h0M841.5 246.7h0M802.3 213.3h0M801.7 229.9h0M853.1 236.5h0M859.5 231.8h0M816.3 226.5h0M800.2 223.8h0M831.0 249.4h0M837.8 266.2h0M806.8 224.0h0M826.1 249.9h0M861.4 263.5h0M843.4 246.4h0M851.5 232.1h0M839.1 238.0h0M833.0 250.6h0M821.6 300.1h0M856.0 273.8h0M800.3 252.4h0M850.2 256.8h0M849.1 246.8h0M805.8 244.4h0M814.5 223.5h0M807.5 275.3h0M825.7 239.8h0M849.7 265.9h0M857.5 241.9h0M805.1 238.3h0M821.2 250.6h0M803.7 268.6h0M830.8 273.7h0M832.2 233.1h0M846.2 254.1h0M855.0 256.2h0M835.5 222.7h0M835.2 246.2h0M819.3 243.2h0M844.4 235.1h0M844.8 235.9h0M838.4 228.7h0M816.7 272.1h0M839.2 235.9h0M810.7 232.6h0M818.7 238.1h0M829.9 222.9h0M836.3 231.8h0M822.7 302.0h0M849.1 248.4h0M813.8 239.5h0M830.6 248.5h0M823.7 241.1h0M800.2 236.3h0M825.7 251.3h0M820.1 269.8h0M845.8 252.0h0M855.8 243.7h0M812.7 242.9h0M831.1 235.8h0M807.3 221.9h0M839.0 227.5h0M823.4 243.3h0M851.9 247.5h0M847.7 252.8h0M812.4 234.5h0M850.8 219.6h0M816.1 259.5h0M841.7 237.0h0M849.4 248.9h0M817.2 242.4h0M839.5 254.9h0M813.0 219.6h0M810.5 240.5h0M821.7 243.1h0M840.7 249.2h0M836.7 246.8h0M835.1 241.7h0M805.0 237.6h0M832.8 258.3h0M858.7 229.0h0M852.1 250.8h0M847.7 238.4h0M859.5 225.2h0M847.1 229.1h0M814.3 231.7h0M813.7 223.5h0M843.8 242.8h0M861.4 247.6h0M841.5 231.5h0M858.3 242.0h0M829.1 242.3h0M819.1 252.4h0M804.4 249.2h0M821.6 225.6h0M808.3 253.2h0M860.1 241.6h0M821.8 238.1h0M849.3 248.8h0M812.8 221.8h0M824.8 253.4h0M835.7 237.6h0M839.8 247.1h0M802.2 225.4h0M833.1 260.8h0M823.2 248.1h0M817.6 230.9h0M855.4 251.5h0M816.8 244.8h0M813.0 236.8h0M804.7 240.8h0M849.2 279.7h0M822.1 218.0h0M829.2 229.5h0M809.3 238.5h0M803.1 271.4h0M835.6 249.7h0M829.1 248.4h0M857.2 256.3h0M831.6 261.7h0M836.9 275.7h0M810.2 211.5h0M808.5 223.9h0M829.1 262.8h0M833.3 233.0h0M851.7 277.5h0M804.3 218.1h0M827.9 238.5h0M808.6 207.7h0M860.0 238.1h0M828.3 241.7h0M848.7 251.5h0M861.1 262.4h0M805.9 209.3h0M813.8 251.9h0M814.1 243.1h0M804.7 248.9h0M844.4 256.8h0M833.4 257.4h0M827.7 237.4h0M851.5 247.6h0M803.2 240.6h0M839.5 267.7h0M807.7 231.6h0M847.3 260.6h0M807.3 236.3h0M808.0 217.9h0M800.6 293.9h0M816.3 219.3h0M853.7 270.9h0M855.6 242.4h0M837.6 240.1h0M847.8 249.7h0M840.5 247.1h0M815.6 244.2h0M833.9 257.8h0M814.8 233.8h0M853.0 226.9h0M861.2 251.4h0M811.2 230.7h0M844.2 256.6h0M819.5 252.3h0M850.9 235.2h0M815.9 229.9h0M833.0 241.9h0M822.0 223.0h0M851.9 252.4h0M804.4 232.5h0M801.5 230.7h0M827.4 228.6h0M809.9 241.8h0M836.3 248.5h0M815.9 257.3h0M835.5 220.9h0M834.4 224.6h0M817.4 241.4h0M858.1 256.5h0M812.3 237.7h0M831.6 260.7h0M805.4 258.6h0M837.0 230.8h0M831.0 253.1h0M851.8 249.7h0M856.1 245.5h0M810.2 261.3h0M840.0 229.0h0M805.4 241.1h0M808.9 225.6h0M843.7 246.8h0M834.5 220.2h0M806.5 218.1h0M811.3 246.3h0M802.9 248.3h0M840.1 242.0h0M853.9 238.0h0M858.0 262.2h0M810.7 247.6h0M833.4 228.4h0M841.1 242.1h0M828.5 221.0h0M814.2 251.7h0M840.8 250.2h0M860.2 254.4h0M847.9 255.8h0M853.9 251.3h0M803.0 225.0h0M841.2 230.9h0M811.3 245.4h0M852.8 251.6h0M831.7 226.9h0M834.2 251.0h0M802.4 236.8h0M856.3 258.1h0M817.5 260.5h0M840.4 240.8h0M851.7 232.3h0M846.9 241.9h0M822.4 274.2h0M842.5 255.6h0M833.8 252.0h0M842.6 247.1h0M830.8 243.5h0M821.1 258.5h0M855.9 240.9h0M806.5 252.7h0M804.6 258.5h0M822.6 232.8h0M857.8 275.8h0M853.1 292.4h0M840.1 224.9h0M832.7 248.7h0M855.5 266.9h0M840.2 242.7h0M804.6 274.8h0M822.6 247.7h0M839.4 257.6h0M845.8 267.6h0M860.1 242.7h0M849.0 239.1h0M851.1 226.3h0M839.0 246.5h0M820.2 249.6h0M848.5 247.2h0M803.8 236.1h0M804.8 228.0h0M853.0 253.5h0M839.1 208.4h0M817.2 246.6h0M829.7 246.3h0M831.4 235.9h0M858.0 280.2h0M802.8 238.1h0M809.1 217.1h0M827.0 250.3h0M824.9 232.8h0M811.8 253.4h0M821.8 271.6h0M802.4 215.8h0M818.6 261.6h0M819.7 234.6h0M825.5 259.0h0M818.1 218.2h0M840.5 233.9h0M805.3 242.9h0M811.4 257.6h0M821.1 239.7h0M811.3 258.6h0M835.9 250.9h0M850.2 226.1h0M840.7 249.5h0M805.7 248.9h0M839.6 267.6h0M853.6 238.9h0M823.1 238.9h0M808.0 246.2h0M831.6 266.9h0M858.6 237.5h0M801.5 295.9h0M854.2 232.8h0M826.3 255.4h0M817.0 272.8h0M835.6 230.9h0M818.2 234.1h0M813.0 262.7h0M834.4 254.2h0M832.4 247.8h0M812.6 247.0h0M849.8 240.4h0M805.1 233.9h0M830.8 253.7h0M858.3 230.7h0M831.3 276.3h0M835.9 235.8h0M817.6 282.9h0M852.1 229.4h0M812.4 261.5h0M810.1 226.9h0M801.1 242.6h0M840.5 261.2h0M832.4 291.9h0M830.3 238.9h0M802.6 226.8h0M825.2 256.3h0M813.6 239.1h0M810.8 221.5h0M858.9 229.7h0M842.3 261.5h0M847.3 226.8h0M816.2 270.4h0M821.0 232.3h0M842.1 246.4h0M824.5 225.1h0M840.6 243.8h0M800.8 233.5h0M806.0 260.4h0M814.0 262.7h0M842.0 256.3h0M837.0 256.2h0M833.5 235.3h0M825.5 255.2h0M857.6 257.2h0M833.7 245.3h0M833.4 243.9h0M853.7 268.0h0M850.0 248.2h0M820.8 231.9h0M845.1 233.3h0M824.3 264.8h0M813.9 234.2h0M841.1 229.2h0M800.7 231.9h0M859.4 260.5h0M804.0 251.4h0M832.1 249.0h0M831.7 249.7h0M856.1 265.2h0M814.5 250.2h0M840.2 257.3h0M819.2 249.1h0M838.2 234.4h0M811.5 232.0h0M850.2 254.9h0M817.5 250.3h0M846.1 229.8h0M817.2 227.3h0M832.9 251.2h0M810.4 243.4h0M852.7 253.0h0M822.7 271.7h0M812.5 263.0h0M810.0 245.0h0M800.4 246.5h0M805.2 224.0h0M830.6 258.2h0M852.3 284.5h0M855.5 235.4h0M819.9 237.2h0M812.2 227.1h0M835.5 261.3h0M805.4 217.5h0M814.8 236.9h0M825.2 232.9h0M818.6 234.6h0M801.0 215.4h0M820.4 232.6h0M829.6 254.4h0M816.1 245.2h0M816.1 241.3h0M822.5 267.4h0M845.6 240.4h0M857.8 243.2h0M807.0 216.6h0M817.9 238.9h0M838.6 270.8h0M854.8 237.0h0M854.7 274.6h0M815.4 211.9h0M842.6 261.6h0M861.6 230.3h0M835.5 234.2h0M830.9 228.1h0M813.4 252.3h0M843.2 220.2h0M831.6 239.4h0M827.5 238.2h0M812.8 246.7h0M851.1 270.9h0M849.5 247.5h0M815.9 227.8h0M858.9 254.6h0M842.2 245.7h0M816.4 268.1h0M815.5 234.1h0M844.1 234.0h0M832.7 271.2h0M848.8 238.1h0M807.9 225.4h0M845.9 248.8h0M829.5 244.6h0M827.9 276.6h0M808.0 244.4h0M849.3 202.1h0M838.3 230.1h0M860.5 255.4h0M826.1 236.2h0M840.4 238.2h0M861.4 236.4h0M831.4 254.4h0M848.7 253.9h0M841.7 255.4h0M816.7 226.2h0M833.4 249.4h0M855.2 242.1h0M807.0 245.3h0M857.0 254.4h0M856.1 285.4h0M818.8 246.7h0M831.1 248.5h0M829.3 234.2h0M809.6 247.1h0M805.6 242.2h0M849.6 266.2h0M852.3 249.5h0M818.6 242.0h0M859.2 246.1h0M856.7 249.4h0M840.1 261.8h0M841.7 243.3h0M829.5 253.1h0M842.8 228.0h0M803.8 239.3h0M836.6 224.9h0M846.8 239.5h0M813.2 252.7h0M854.0 259.3h0M813.0 222.2h0M828.5 230.9h0M842.7 218.2h0M842.2 250.1h0M819.4 236.2h0M830.5 262.0h0M823.0 238.7h0M857.3 262.6h0M859.4 261.5h0M819.8 267.2h0M825.8 222.4h0M828.8 263.5h0M847.5 253.3h0M800.4 217.3h0M821.1 252.4h0M808.2 228.3h0M842.5 247.1h0M801.5 236.7h0M818.2 210.6h0M843.2 296.8h0M840.5 251.9h0M826.2 242.9h0M809.0 268.8h0M846.3 259.1h0M846.5 250.4h0M802.4 243.7h0M810.8 241.5h0M849.0 250.4h0M808.7 235.5h0M849.9 270.1h0M833.7 238.4h0M806.1 240.0h0M831.4 243.6h0M813.1 248.0h0M843.6 265.2h0M802.4 235.1h0M844.6 264.9h0M812.2 256.8h0M843.1 273.1h0M855.6 224.1h0M857.4 241.4h0M832.0 236.8h0M833.9 240.7h0M820.8 240.8h0M846.3 253.7h0M828.3 251.2h0M846.2 253.7h0M824.0 291.7h0M837.8 237.3h0M835.4 246.2h0M855.2 244.1h0M846.7 224.8h0M837.0 246.4h0M872.9 240.8h0M869.5 236.5h0M871.9 265.5h0M862.2 256.8h0M870.3 257.7h0M872.4 260.1h0M874.3 283.6h0M876.6 253.9h0M865.2 252.6h0M868.5 261.2h0M876.8 239.8h0M872.2 258.0h0M862.4 273.3h0M863.8 228.4h0M862.5 265.4h0M868.3 259.1h0M867.8 242.5h0M862.7 249.7h0M870.5 246.7h0M870.4 239.1h0M877.1 238.3h0M868.8 239.0h0M867.9 257.1h0M877.3 254.1h0M869.8 253.9h0M867.9 224.9h0M865.1 253.6h0M864.7 245.7h0M873.4 281.4h0M863.4 262.3h0M875.0 240.4h0M868.9 268.3h0M872.0 250.9h0M864.3 259.8h0M871.4 253.3h0M877.0 262.3h0M874.7 239.4h0M868.5 232.4h0M863.9 253.6h0M864.7 226.9h0M870.7 266.6h0M875.9 236.8h0M870.7 248.8h0M874.8 265.4h0M867.3 208.1h0M877.4 236.5h0M876.8 229.3h0M865.1 242.0h0M869.5 262.1h0M872.8 237.0h0M864.0 252.6h0M877.2 249.8h0M864.1 261.9h0M865.5 251.7h0M871.9 267.1h0M871.0 247.5h0M868.5 255.8h0M870.1 257.8h0M875.1 245.8h0M874.3 220.1h0M863.8 244.8h0M862.2 212.2h0M876.4 256.2h0M869.7 270.5h0M870.0 280.9h0M862.7 258.2h0M877.5 255.2h0M874.3 248.5h0M865.7 243.8h0M875.1 267.1h0M875.7 247.8h0M869.5 241.4h0M863.9 243.0h0M864.0 227.1h0M863.0 245.0h0M876.9 231.2h0M865.2 251.7h0M871.2 263.4h0M874.0 238.1h0M876.7 260.4h0M864.2 263.1h0M868.7 228.8h0M871.0 215.8h0M877.1 243.2h0M876.3 288.9h0M876.5 251.8h0M876.7 246.0h0M865.4 269.3h0M869.0 261.7h0M866.1 226.8h0M875.6 246.0h0M868.8 220.5h0M868.7 250.4h0M866.6 217.5h0M865.3 266.2h0M874.0 267.6h0M867.0 244.4h0M875.1 286.7h0M868.7 233.4h0M870.2 257.1h0M862.9 240.3h0M868.1 224.9h0M862.3 248.7h0M870.6 247.9h0M862.1 297.6h0M875.7 266.3h0M869.9 261.8h0M875.0 265.3h0M876.2 276.3h0M867.0 237.7h0M805.8 229.1h0M796.4 202.9h0M736.2 213.3h0M615.1 195.7h0M747.7 212.2h0M688.9 203.2h0M791.4 202.2h0M777.2 222.7h0M696.0 201.4h0M725.8 214.1h0M670.2 193.4h0M702.1 205.7h0M640.2 207.1h0M730.8 210.9h0M707.2 186.8h0M700.2 203.1h0M623.5 204.8h0M752.6 203.1h0M607.5 190.2h0M687.7 204.3h0M645.3 196.8h0M670.4 200.5h0M778.9 207.2h0M795.0 212.8h0M621.7 198.5h0M725.8 211.4h0M551.1 288.2h0M741.0 275.8h0M566.9 272.3h0M634.6 271.3h0M597.4 258.1h0M848.8 303.6h0M713.4 288.9h0M657.1 269.8h0M557.5 270.5h0M502.0 247.5h0M543.3 267.9h0M562.6 280.3h0M515.5 251.8h0M609.2 292.3h0M728.9 274.9h0M625.5 274.3h0M553.5 264.6h0M654.7 280.4h0M611.0 290.8h0M570.8 291.2h0M653.7 300.3h0M618.9 291.0h0M646.4 306.3h0M557.1 250.3h0M551.7 249.2h0M543.7 291.0h0M629.8 296.1h0M605.0 279.1h0M707.3 307.9h0M674.1 288.6h0M615.6 273.5h0M555.1 280.7h0M556.0 266.0h0M723.6 274.7h0M648.0 265.6h0M588.1 300.2h0M612.8 292.4h0M537.2 286.5h0M613.2 267.8h0M689.1 285.1h0M656.0 305.5h0M787.4 299.6h0M586.6 288.1h0M751.6 294.1h0M574.9 282.1h0M539.1 247.7h0M580.2 282.9h0M641.6 279.5h0M557.6 283.5h0M552.9 268.7h0M623.0 278.1h0M502.2 287.8h0M586.0 283.5h0M683.2 277.6h0M737.2 283.6h0M628.8 286.4h0M699.5 284.8h0M775.4 297.0h0M617.9 275.7h0M607.2 282.2h0M493.5 285.7h0M560.4 292.2h0M592.2 255.3h0M561.2 277.0h0M514.1 282.8h0M588.2 256.0h0M594.6 279.5h0M520.9 258.2h0M737.1 291.3h0M517.3 246.4h0M613.6 264.0h0M748.1 279.6h0M608.0 264.4h0M513.3 247.9h0M599.1 282.7h0M602.2 279.1h0M812.5 299.4h0M657.9 282.5h0M627.9 296.1h0M674.9 279.4h0M621.9 264.3h0M563.8 280.7h0M529.2 256.7h0M617.8 299.5h0M625.0 277.5h0M569.1 272.8h0M507.3 261.2h0M815.6 299.8h0M511.9 275.5h0M626.6 292.8h0M536.1 258.6h0M500.3 285.2h0M574.9 269.1h0M704.3 306.0h0M529.9 277.7h0M795.2 302.0h0M638.6 276.1h0" stroke="#111" stroke-width="2.6" stroke-linecap="round" fill="none"/>
<path d="M491.8 356.9h0M493.8 356.9h0M496.4 356.9h0M498.3 356.9h0M500.5 356.9h0M502.2 356.9h0M504.8 356.9h0M506.7 356.9h0M508.6 356.9h0M510.8 356.9h0M512.8 356.9h0M514.6 356.9h0M516.8 356.9h0M518.1 356.9h0M519.9 356.9h0M521.8 356.9h0M523.1 356.9h0M524.4 356.9h0M525.9 356.9h0M527.7 356.9h0M529.6 356.9h0M532.4 356.9h0M533.5 356.9h0M536.1 356.9h0M538.7 356.9h0M540.8 356.9h0M542.1 356.9h0M544.7 356.9h0M546.7 356.9h0M549.0 356.9h0M550.3 356.9h0M556.5 356.9h0M559.1 356.9h0M561.0 356.9h0M564.7 356.9h0M566.8 356.9h0M570.6 356.9h0M573.6 356.9h0M576.4 356.9h0M578.6 356.9h0M580.1 356.9h0M582.1 356.9h0M597.5 356.9h0M607.7 356.9h0M612.0 356.9h0M614.6 356.9h0M618.1 356.9h0M620.3 356.9h0M623.5 356.9h0M625.7 356.9h0M641.0 356.9h0M644.5 356.9h0M648.2 356.9h0M650.3 356.9h0M653.2 356.9h0M656.7 356.9h0M666.1 356.9h0M669.6 356.9h0M672.6 356.9h0M675.7 356.9h0M678.5 356.9h0M695.1 356.9h0M698.4 356.9h0M703.9 356.9h0M710.1 356.9h0M715.2 356.9h0M721.3 356.9h0M727.8 356.9h0M740.8 356.9h0M749.0 356.9h0M751.2 356.9h0M753.9 356.9h0M755.9 356.9h0M758.1 356.9h0M761.6 356.9h0M764.4 356.9h0M767.6 356.9h0M770.6 356.9h0M772.8 356.9h0M774.1 356.9h0M777.1 356.9h0M780.6 356.9h0M782.9 356.9h0M786.2 356.9h0M789.8 356.9h0M792.4 356.9h0M795.7 356.9h0M797.4 356.9h0M800.4 356.9h0M802.6 356.9h0M804.7 356.9h0M806.9 356.9h0M809.2 356.9h0M811.0 356.9h0M813.5 356.9h0M821.0 356.9h0M822.5 356.9h0M824.6 356.9h0M825.9 356.9h0M827.9 356.9h0M828.8 356.9h0M830.4 356.9h0M831.2 356.9h0M833.5 356.9h0M834.9 356.9h0M835.8 356.9h0M838.3 356.9h0M839.3 356.9h0M840.5 356.9h0M842.5 356.9h0M844.2 356.9h0M846.2 356.9h0M847.0 356.9h0M848.8 356.9h0M850.8 356.9h0M852.7 356.9h0M853.9 356.9h0M855.3 356.9h0M857.0 356.9h0M859.2 356.9h0M860.6 356.9h0M862.8 356.9h0M863.6 356.9h0M865.9 356.9h0M866.8 356.9h0M868.3 356.9h0M869.9 356.9h0M871.8 356.9h0M874.0 356.9h0M875.1 356.9h0M877.5 356.9h0M879.2 356.9h0" stroke="#111" stroke-width="2.5" stroke-linecap="round" fill="none"/>
<line x1="488.5" y1="216.4" x2="879" y2="270.7" stroke="#2db7ea" stroke-width="5.6" stroke-linecap="butt"/>
<text x="775.5" y="182.2" font-size="5.2" fill="#444" text-anchor="middle" textLength="57.0" lengthAdjust="spacingAndGlyphs"><tspan font-style="italic">y</tspan> = 8306 × 0.82<tspan dy="-1.6" font-size="3.2" font-style="italic">x</tspan></text>
<path d="M835.4 310.7 L842.6 317.0 L839.0 317.0 L839.0 324.3 L831.8 324.3 L831.8 317.0 L828.2 317.0Z" fill="#fff" stroke="#cf1322" stroke-width="2.4" stroke-linejoin="round"/>
<text x="709.5" y="343.3" font-size="16.6" fill="#161616" font-weight="bold" textLength="160.5" lengthAdjust="spacingAndGlyphs">6 months: 16.1% &lt;50</text>
<text x="0.0" y="0.0" font-size="12.2" fill="#161616" font-weight="bold" text-anchor="middle" textLength="90.0" lengthAdjust="spacingAndGlyphs" transform="translate(447.6 270.3) rotate(-90)">antibody titer</text>
<text x="584.5" y="394.3" font-size="12.4" fill="#161616" font-weight="bold" textLength="222.0" lengthAdjust="spacingAndGlyphs">months since 2<tspan dy="-4.5" font-size="7.5">nd</tspan><tspan dy="4.5"> vaccine injection</tspan></text>
<rect x="955.5" y="171.5" width="284.5" height="190.8" fill="#fff" stroke="#bdbdbd" stroke-width="1"/>
<rect x="967.5" y="179.6" width="260.1" height="174.3" fill="#d6f6f8"/>
<rect x="967.5" y="179.6" width="33.4" height="9.6" fill="#f6756c"/>
<rect x="967.5" y="189.2" width="33.4" height="164.7" fill="#05bbc2"/>
<text x="984.2" y="186.2" font-size="5.6" fill="#8c2a26" text-anchor="middle" textLength="28.0" lengthAdjust="spacingAndGlyphs">38 (5.8%)</text>
<text x="984.2" y="273.3" font-size="5.6" fill="#0b6a70" text-anchor="middle" textLength="30.0" lengthAdjust="spacingAndGlyphs">620 (94.2%)</text>
<line x1="984.2" y1="362.3" x2="984.2" y2="364.7" stroke="#888" stroke-width="1"/>
<text x="984.2" y="369.5" font-size="4.5" fill="#8a8a8a" text-anchor="middle">0</text>
<rect x="1005.3" y="179.6" width="33.4" height="9.6" fill="#f6756c"/>
<rect x="1005.3" y="189.2" width="33.4" height="164.7" fill="#05bbc2"/>
<text x="1022.0" y="186.2" font-size="5.6" fill="#8c2a26" text-anchor="middle" textLength="28.0" lengthAdjust="spacingAndGlyphs">36 (5.6%)</text>
<text x="1022.0" y="273.3" font-size="5.6" fill="#0b6a70" text-anchor="middle" textLength="30.0" lengthAdjust="spacingAndGlyphs">611 (94.4%)</text>
<line x1="1022.0" y1="362.3" x2="1022.0" y2="364.7" stroke="#888" stroke-width="1"/>
<text x="1022.0" y="369.5" font-size="4.5" fill="#8a8a8a" text-anchor="middle">1</text>
<rect x="1043.1" y="179.6" width="33.4" height="9.2" fill="#f6756c"/>
<rect x="1043.1" y="188.8" width="33.4" height="165.1" fill="#05bbc2"/>
<text x="1059.8" y="186.0" font-size="5.6" fill="#8c2a26" text-anchor="middle" textLength="28.0" lengthAdjust="spacingAndGlyphs">37 (5.8%)</text>
<text x="1059.8" y="273.2" font-size="5.6" fill="#0b6a70" text-anchor="middle" textLength="30.0" lengthAdjust="spacingAndGlyphs">628 (94.2%)</text>
<line x1="1059.8" y1="362.3" x2="1059.8" y2="364.7" stroke="#888" stroke-width="1"/>
<text x="1059.8" y="369.5" font-size="4.5" fill="#8a8a8a" text-anchor="middle">2</text>
<rect x="1080.8" y="179.6" width="33.4" height="15.3" fill="#f6756c"/>
<rect x="1080.8" y="194.9" width="33.4" height="159.0" fill="#05bbc2"/>
<text x="1097.5" y="189.1" font-size="5.6" fill="#8c2a26" text-anchor="middle" textLength="28.0" lengthAdjust="spacingAndGlyphs">55 (9.2%)</text>
<text x="1097.5" y="276.2" font-size="5.6" fill="#0b6a70" text-anchor="middle" textLength="30.0" lengthAdjust="spacingAndGlyphs">615 (90.8%)</text>
<line x1="1097.5" y1="362.3" x2="1097.5" y2="364.7" stroke="#888" stroke-width="1"/>
<text x="1097.5" y="369.5" font-size="4.5" fill="#8a8a8a" text-anchor="middle">3</text>
<rect x="1118.6" y="179.6" width="33.4" height="15.7" fill="#f6756c"/>
<rect x="1118.6" y="195.3" width="33.4" height="158.6" fill="#05bbc2"/>
<text x="1135.3" y="189.2" font-size="5.6" fill="#8c2a26" text-anchor="middle" textLength="28.0" lengthAdjust="spacingAndGlyphs">54 (9.3%)</text>
<text x="1135.3" y="276.4" font-size="5.6" fill="#0b6a70" text-anchor="middle" textLength="30.0" lengthAdjust="spacingAndGlyphs">510 (90.7%)</text>
<line x1="1135.3" y1="362.3" x2="1135.3" y2="364.7" stroke="#888" stroke-width="1"/>
<text x="1135.3" y="369.5" font-size="4.5" fill="#8a8a8a" text-anchor="middle">4</text>
<rect x="1156.4" y="179.6" width="33.4" height="16.0" fill="#f6756c"/>
<rect x="1156.4" y="195.6" width="33.4" height="158.3" fill="#05bbc2"/>
<text x="1173.1" y="189.4" font-size="5.6" fill="#8c2a26" text-anchor="middle" textLength="28.0" lengthAdjust="spacingAndGlyphs">58 (10.5%)</text>
<text x="1173.1" y="276.6" font-size="5.6" fill="#0b6a70" text-anchor="middle" textLength="30.0" lengthAdjust="spacingAndGlyphs">511 (89.5%)</text>
<line x1="1173.1" y1="362.3" x2="1173.1" y2="364.7" stroke="#888" stroke-width="1"/>
<text x="1173.1" y="369.5" font-size="4.5" fill="#8a8a8a" text-anchor="middle">5</text>
<rect x="1194.2" y="179.6" width="33.4" height="28.4" fill="#f6756c"/>
<rect x="1194.2" y="208.0" width="33.4" height="145.9" fill="#05bbc2"/>
<text x="1210.9" y="195.6" font-size="5.6" fill="#8c2a26" text-anchor="middle" textLength="28.0" lengthAdjust="spacingAndGlyphs">65 (16.1%)</text>
<text x="1210.9" y="282.8" font-size="5.6" fill="#0b6a70" text-anchor="middle" textLength="30.0" lengthAdjust="spacingAndGlyphs">312 (83.9%)</text>
<line x1="1210.9" y1="362.3" x2="1210.9" y2="364.7" stroke="#888" stroke-width="1"/>
<text x="1210.9" y="369.5" font-size="4.5" fill="#8a8a8a" text-anchor="middle">6</text>
<line x1="952.5" y1="179.6" x2="955.5" y2="179.6" stroke="#888" stroke-width="1"/>
<text x="951.0" y="181.2" font-size="4.5" fill="#8a8a8a" text-anchor="end">100%</text>
<line x1="952.5" y1="223.2" x2="955.5" y2="223.2" stroke="#888" stroke-width="1"/>
<text x="951.0" y="224.8" font-size="4.5" fill="#8a8a8a" text-anchor="end">75%</text>
<line x1="952.5" y1="266.8" x2="955.5" y2="266.8" stroke="#888" stroke-width="1"/>
<text x="951.0" y="268.4" font-size="4.5" fill="#8a8a8a" text-anchor="end">50%</text>
<line x1="952.5" y1="310.3" x2="955.5" y2="310.3" stroke="#888" stroke-width="1"/>
<text x="951.0" y="311.9" font-size="4.5" fill="#8a8a8a" text-anchor="end">25%</text>
<line x1="952.5" y1="353.9" x2="955.5" y2="353.9" stroke="#888" stroke-width="1"/>
<text x="951.0" y="355.5" font-size="4.5" fill="#8a8a8a" text-anchor="end">0%</text>
<rect x="978.8" y="297.2" width="120.2" height="51" fill="#fff"/>
<text x="982.3" y="305.6" font-size="9.0" fill="#333" textLength="113.0" lengthAdjust="spacingAndGlyphs">antibody titer range</text>
<rect x="982.9" y="312.6" width="19" height="16" fill="#f6756c"/>
<rect x="982.9" y="330.3" width="19" height="15.2" fill="#05bbc2"/>
<text x="1010.3" y="324.3" font-size="8.8" fill="#444" textLength="17.0" lengthAdjust="spacingAndGlyphs">&lt;50</text>
<text x="1010.3" y="341.3" font-size="8.8" fill="#444" textLength="17.0" lengthAdjust="spacingAndGlyphs">≥50</text>
<path d="M1210.5 215.8 L1216.7 221.4 L1214.2 221.4 L1214.2 228.8 L1206.8 228.8 L1206.8 221.4 L1204.3 221.4Z" fill="#fff" stroke="#a9112b" stroke-width="2.4" stroke-linejoin="round"/>
<text x="984.8" y="389.8" font-size="12.4" fill="#161616" font-weight="bold" textLength="222.0" lengthAdjust="spacingAndGlyphs">months since 2<tspan dy="-4.5" font-size="7.5">nd</tspan><tspan dy="4.5"> vaccine injection</tspan></text>
<rect x="471.5" y="413.3" width="768.0" height="21.399999999999977" fill="#fff" stroke="#151515" stroke-width="2.3"/>
<text x="855.0" y="429.8" font-size="15.4" fill="#111" font-weight="bold" text-anchor="middle" textLength="310.0" lengthAdjust="spacingAndGlyphs">Antibody titer after SARS-CoV-2 Infection</text>
<rect x="471.5" y="440.5" width="426.0" height="193.0" fill="#fff" stroke="#b4b4b4" stroke-width="1"/>
<line x1="489.6" y1="440.5" x2="489.6" y2="633.5" stroke="#f3f3f3" stroke-width="1"/>
<line x1="489.6" y1="633.5" x2="489.6" y2="635.9" stroke="#888" stroke-width="1"/>
<line x1="528.5" y1="440.5" x2="528.5" y2="633.5" stroke="#f3f3f3" stroke-width="1"/>
<line x1="528.5" y1="633.5" x2="528.5" y2="635.9" stroke="#888" stroke-width="1"/>
<line x1="567.3" y1="440.5" x2="567.3" y2="633.5" stroke="#f3f3f3" stroke-width="1"/>
<line x1="567.3" y1="633.5" x2="567.3" y2="635.9" stroke="#888" stroke-width="1"/>
<line x1="606.2" y1="440.5" x2="606.2" y2="633.5" stroke="#f3f3f3" stroke-width="1"/>
<line x1="606.2" y1="633.5" x2="606.2" y2="635.9" stroke="#888" stroke-width="1"/>
<line x1="645.0" y1="440.5" x2="645.0" y2="633.5" stroke="#f3f3f3" stroke-width="1"/>
<line x1="645.0" y1="633.5" x2="645.0" y2="635.9" stroke="#888" stroke-width="1"/>
<line x1="683.9" y1="440.5" x2="683.9" y2="633.5" stroke="#f3f3f3" stroke-width="1"/>
<line x1="683.9" y1="633.5" x2="683.9" y2="635.9" stroke="#888" stroke-width="1"/>
<line x1="722.7" y1="440.5" x2="722.7" y2="633.5" stroke="#f3f3f3" stroke-width="1"/>
<line x1="722.7" y1="633.5" x2="722.7" y2="635.9" stroke="#888" stroke-width="1"/>
<line x1="761.5" y1="440.5" x2="761.5" y2="633.5" stroke="#f3f3f3" stroke-width="1"/>
<line x1="761.5" y1="633.5" x2="761.5" y2="635.9" stroke="#888" stroke-width="1"/>
<line x1="800.4" y1="440.5" x2="800.4" y2="633.5" stroke="#f3f3f3" stroke-width="1"/>
<line x1="800.4" y1="633.5" x2="800.4" y2="635.9" stroke="#888" stroke-width="1"/>
<line x1="839.2" y1="440.5" x2="839.2" y2="633.5" stroke="#f3f3f3" stroke-width="1"/>
<line x1="839.2" y1="633.5" x2="839.2" y2="635.9" stroke="#888" stroke-width="1"/>
<line x1="878.1" y1="440.5" x2="878.1" y2="633.5" stroke="#f3f3f3" stroke-width="1"/>
<line x1="878.1" y1="633.5" x2="878.1" y2="635.9" stroke="#888" stroke-width="1"/>
<line x1="471.5" y1="474.3" x2="897.5" y2="474.3" stroke="#f3f3f3" stroke-width="1"/>
<line x1="468.5" y1="474.3" x2="471.5" y2="474.3" stroke="#777" stroke-width="1"/>
<line x1="471.5" y1="511.8" x2="897.5" y2="511.8" stroke="#f3f3f3" stroke-width="1"/>
<line x1="468.5" y1="511.8" x2="471.5" y2="511.8" stroke="#777" stroke-width="1"/>
<line x1="471.5" y1="549.5" x2="897.5" y2="549.5" stroke="#f3f3f3" stroke-width="1"/>
<line x1="468.5" y1="549.5" x2="471.5" y2="549.5" stroke="#777" stroke-width="1"/>
<line x1="471.5" y1="587.5" x2="897.5" y2="587.5" stroke="#f3f3f3" stroke-width="1"/>
<line x1="468.5" y1="587.5" x2="471.5" y2="587.5" stroke="#777" stroke-width="1"/>
<line x1="471.5" y1="624.8" x2="897.5" y2="624.8" stroke="#f3f3f3" stroke-width="1"/>
<line x1="468.5" y1="624.8" x2="471.5" y2="624.8" stroke="#777" stroke-width="1"/>
<text x="489.6" y="640.9" font-size="4.5" fill="#8a8a8a" text-anchor="middle">0</text>
<text x="528.5" y="640.9" font-size="4.5" fill="#8a8a8a" text-anchor="middle">1</text>
<text x="567.3" y="640.9" font-size="4.5" fill="#8a8a8a" text-anchor="middle">2</text>
<text x="606.2" y="640.9" font-size="4.5" fill="#8a8a8a" text-anchor="middle">3</text>
<text x="645.0" y="640.9" font-size="4.5" fill="#8a8a8a" text-anchor="middle">4</text>
<text x="683.9" y="640.9" font-size="4.5" fill="#8a8a8a" text-anchor="middle">5</text>
<text x="722.7" y="640.9" font-size="4.5" fill="#8a8a8a" text-anchor="middle">6</text>
<text x="761.5" y="640.9" font-size="4.5" fill="#8a8a8a" text-anchor="middle">7</text>
<text x="800.4" y="640.9" font-size="4.5" fill="#8a8a8a" text-anchor="middle">8</text>
<text x="839.2" y="640.9" font-size="4.5" fill="#8a8a8a" text-anchor="middle">9</text>
<text x="878.1" y="640.9" font-size="4.5" fill="#8a8a8a" text-anchor="middle">10</text>
<text x="467.0" y="475.9" font-size="4.5" fill="#8a8a8a" text-anchor="end">10000</text>
<text x="467.0" y="513.4" font-size="4.5" fill="#8a8a8a" text-anchor="end">1000</text>
<text x="467.0" y="551.1" font-size="4.5" fill="#8a8a8a" text-anchor="end">100</text>
<text x="467.0" y="589.1" font-size="4.5" fill="#8a8a8a" text-anchor="end">10</text>
<text x="467.0" y="626.4" font-size="4.5" fill="#8a8a8a" text-anchor="end">0</text>
<path d="M490.2 520.0h0M492.5 497.3h0M493.5 543.2h0M494.0 487.8h0M495.3 472.2h0M496.0 538.1h0M495.6 522.8h0M497.1 530.3h0M497.1 482.0h0M498.2 538.5h0M497.6 511.7h0M497.7 518.0h0M498.6 495.9h0M499.2 501.5h0M499.4 541.9h0M499.9 462.9h0M500.3 510.5h0M500.0 533.8h0M500.3 552.5h0M501.1 541.6h0M500.9 497.1h0M501.2 529.6h0M500.9 503.6h0M501.4 528.4h0M501.7 552.7h0M501.5 486.6h0M501.6 527.2h0M501.5 503.2h0M502.3 559.2h0M501.8 494.8h0M502.8 527.4h0M502.9 497.5h0M502.9 513.7h0M503.2 506.4h0M502.8 513.8h0M503.1 516.6h0M503.9 536.2h0M503.7 519.9h0M504.4 508.2h0M503.6 487.4h0M503.9 504.7h0M504.1 528.7h0M503.6 500.9h0M505.4 483.4h0M504.9 492.2h0M504.8 503.4h0M505.4 487.0h0M504.7 495.0h0M505.4 542.8h0M505.0 516.6h0M505.8 503.6h0M506.2 509.9h0M505.8 527.9h0M506.2 502.4h0M506.3 512.7h0M506.0 549.9h0M505.9 529.9h0M507.0 517.2h0M507.4 523.9h0M507.5 488.1h0M506.5 491.5h0M506.6 530.3h0M507.4 531.6h0M506.8 538.1h0M506.9 496.0h0M508.2 518.2h0M508.1 567.0h0M507.6 543.5h0M507.7 509.9h0M508.0 535.2h0M508.4 537.8h0M508.1 531.6h0M507.8 499.1h0M508.4 533.4h0M509.0 533.4h0M509.3 523.1h0M508.9 489.3h0M508.5 534.5h0M509.1 509.8h0M508.9 504.0h0M509.4 512.0h0M508.8 541.7h0M509.1 498.2h0M510.2 527.3h0M510.5 501.4h0M509.9 535.9h0M510.4 491.4h0M509.7 539.3h0M510.0 508.0h0M509.9 563.6h0M510.5 495.4h0M510.1 505.8h0M511.2 527.3h0M511.1 488.2h0M510.6 530.0h0M511.1 486.2h0M510.8 516.4h0M510.8 486.8h0M511.5 519.0h0M511.3 480.6h0M511.2 472.2h0M512.2 551.4h0M511.9 507.3h0M512.4 514.2h0M512.3 493.4h0M512.3 500.1h0M511.5 500.4h0M512.1 524.2h0M511.9 476.7h0M511.9 484.3h0M511.6 556.8h0M512.9 517.7h0M512.5 514.9h0M513.4 514.7h0M512.5 503.1h0M513.1 537.2h0M512.7 494.7h0M513.5 488.8h0M512.6 511.3h0M512.8 524.3h0M512.7 554.3h0M514.2 522.0h0M514.3 515.7h0M514.1 509.4h0M514.4 493.6h0M513.9 491.6h0M514.3 493.8h0M514.0 509.9h0M514.0 527.2h0M514.3 545.3h0M514.2 537.1h0M514.6 515.8h0M515.0 503.0h0M514.8 488.9h0M514.5 510.4h0M515.1 501.3h0M515.0 512.4h0M515.5 503.5h0M515.2 524.3h0M515.2 504.0h0M514.9 503.5h0M516.4 481.2h0M515.9 479.4h0M515.7 521.6h0M516.4 491.1h0M515.6 555.2h0M515.6 500.2h0M515.9 505.3h0M515.7 508.4h0M516.2 478.0h0M515.6 542.7h0M517.2 523.0h0M517.0 552.2h0M517.2 497.2h0M517.3 495.7h0M516.6 513.4h0M517.2 498.2h0M517.0 486.8h0M517.0 533.4h0M516.6 503.7h0M517.5 517.8h0M518.0 492.1h0M518.3 515.7h0M517.8 529.6h0M517.8 511.4h0M518.3 518.0h0M517.8 550.3h0M517.9 497.7h0M518.3 517.6h0M518.4 526.1h0M517.5 508.3h0M519.2 459.6h0M519.2 497.7h0M518.8 507.6h0M518.9 519.1h0M519.3 508.5h0M519.0 527.5h0M519.4 507.7h0M518.9 505.7h0M518.7 523.2h0M518.9 492.7h0M519.8 534.4h0M520.0 502.3h0M520.1 498.1h0M519.9 528.4h0M520.2 489.3h0M520.1 507.1h0M519.6 493.2h0M519.9 512.6h0M520.3 517.8h0M520.0 479.5h0M520.6 518.8h0M521.2 558.3h0M521.0 525.9h0M521.5 529.0h0M520.8 496.6h0M520.9 517.4h0M521.2 489.5h0M521.5 514.2h0M521.2 487.4h0M521.0 493.9h0M522.5 503.0h0M522.1 504.6h0M522.1 510.6h0M522.4 516.3h0M521.8 553.2h0M522.2 508.3h0M522.3 544.1h0M521.5 529.1h0M521.7 491.3h0M521.8 479.6h0M522.6 502.0h0M522.7 499.2h0M523.3 497.3h0M523.2 494.2h0M522.6 536.6h0M523.1 504.5h0M523.2 501.2h0M522.6 542.3h0M523.4 509.5h0M523.2 522.5h0M523.9 550.1h0M524.2 516.6h0M523.7 480.6h0M524.5 534.7h0M524.4 501.5h0M524.5 506.3h0M523.7 526.6h0M524.0 524.6h0M524.2 527.5h0M523.5 496.9h0M524.8 499.6h0M525.0 515.4h0M525.4 518.4h0M524.9 499.8h0M524.9 564.9h0M525.0 529.2h0M525.4 532.4h0M525.3 535.2h0M524.6 497.9h0M524.9 491.5h0M525.7 496.3h0M525.6 499.8h0M526.3 530.7h0M526.3 551.5h0M525.9 499.9h0M525.6 518.9h0M526.2 494.6h0M525.9 535.5h0M525.8 534.3h0M525.9 547.1h0M527.4 523.7h0M526.7 527.9h0M527.1 515.5h0M527.4 509.0h0M527.2 526.0h0M526.9 493.9h0M526.6 510.9h0M526.8 559.9h0M527.4 539.9h0M526.6 470.7h0M528.3 508.2h0M527.5 530.1h0M528.0 499.8h0M527.8 509.7h0M528.1 533.0h0M528.4 549.5h0M527.9 534.5h0M527.8 535.9h0M527.6 507.2h0M527.8 486.7h0M529.2 532.7h0M529.1 504.1h0M528.7 485.6h0M528.8 521.0h0M529.1 508.1h0M528.6 512.8h0M528.9 531.5h0M529.1 537.2h0M529.1 537.7h0M529.3 494.2h0M530.4 541.8h0M530.3 501.7h0M530.1 502.4h0M530.0 519.9h0M530.2 527.7h0M530.0 468.7h0M529.9 538.1h0M530.0 517.3h0M530.3 515.1h0M530.2 519.6h0M531.4 503.5h0M531.0 509.7h0M531.3 523.8h0M530.6 570.0h0M530.6 486.6h0M531.1 495.7h0M531.4 516.7h0M531.0 521.2h0M530.9 496.6h0M531.4 528.3h0M532.2 497.8h0M532.4 507.0h0M531.8 510.0h0M532.2 528.6h0M532.2 507.2h0M532.1 523.0h0M531.8 483.4h0M531.5 504.3h0M531.5 533.6h0M531.6 473.5h0M532.9 524.2h0M533.5 497.8h0M532.6 521.0h0M533.1 510.3h0M533.5 505.8h0M532.9 465.6h0M533.4 508.7h0M533.4 552.8h0M532.7 484.6h0M533.1 538.9h0M533.9 501.7h0M533.8 519.0h0M534.4 511.2h0M534.3 562.4h0M534.1 514.3h0M533.6 515.8h0M534.3 570.4h0M533.8 499.8h0M534.4 494.6h0M534.4 522.5h0M535.2 512.3h0M534.7 525.1h0M534.8 525.1h0M534.8 542.0h0M534.7 530.1h0M534.5 499.6h0M534.5 509.4h0M535.1 512.9h0M534.5 484.0h0M535.0 520.6h0M536.3 555.3h0M536.4 507.6h0M536.5 495.7h0M535.9 535.5h0M536.3 522.6h0M536.0 528.7h0M536.0 535.0h0M535.5 513.5h0M535.9 521.9h0M536.0 507.6h0M537.3 500.4h0M537.5 541.9h0M537.5 495.9h0M537.2 506.6h0M537.2 500.4h0M536.9 484.1h0M537.2 504.9h0M536.6 527.8h0M537.1 523.5h0M536.8 530.8h0M537.9 541.9h0M538.0 510.4h0M537.9 475.3h0M538.0 502.6h0M538.0 506.2h0M537.7 526.3h0M537.6 513.3h0M537.9 521.0h0M538.1 543.1h0M538.0 539.6h0M538.9 524.1h0M538.6 482.1h0M539.0 511.3h0M538.9 551.9h0M538.6 528.6h0M538.8 521.3h0M538.9 511.7h0M538.9 498.1h0M539.5 479.2h0M538.8 528.2h0M539.8 522.7h0M540.1 522.9h0M539.8 508.4h0M540.4 495.4h0M539.6 502.9h0M539.6 521.1h0M539.6 545.2h0M540.0 515.4h0M539.8 513.3h0M539.9 486.4h0M540.2 491.4h0M540.8 497.3h0M541.4 497.0h0M541.0 486.2h0M541.0 497.7h0M541.0 499.0h0M541.5 488.7h0M541.3 516.9h0M541.1 510.1h0M540.9 528.1h0M540.9 499.0h0M542.1 521.9h0M541.6 495.6h0M541.7 485.0h0M541.7 539.5h0M542.2 520.8h0M541.9 488.8h0M541.5 498.5h0M541.6 463.7h0M541.9 512.5h0M541.8 536.7h0M542.9 538.7h0M542.6 508.8h0M543.3 549.6h0M542.9 531.8h0M542.5 500.3h0M542.7 541.9h0M542.6 492.4h0M542.8 494.5h0M542.5 530.6h0M543.4 497.5h0M544.1 511.4h0M544.4 506.1h0M544.4 471.2h0M544.2 533.0h0M544.1 521.7h0M543.9 516.6h0M544.4 523.1h0M544.2 507.2h0M544.4 539.0h0M543.6 503.5h0M544.4 503.0h0M545.4 495.0h0M544.8 532.8h0M544.9 571.8h0M545.5 497.7h0M545.4 481.9h0M545.4 517.1h0M544.9 549.9h0M544.8 495.2h0M544.9 509.9h0M544.8 502.3h0M546.3 472.3h0M546.0 514.0h0M545.9 480.6h0M546.0 526.5h0M545.8 526.9h0M545.9 505.8h0M545.7 500.8h0M546.4 525.3h0M546.0 535.4h0M545.7 479.6h0M546.0 512.0h0M547.2 513.1h0M547.2 487.2h0M547.0 524.4h0M546.8 546.7h0M547.3 533.8h0M546.9 520.0h0M547.2 473.0h0M547.3 521.2h0M547.4 513.6h0M547.0 521.3h0M548.1 478.7h0M547.6 512.6h0M547.9 494.6h0M547.8 526.7h0M547.8 484.9h0M548.2 530.9h0M548.1 552.1h0M548.3 466.1h0M548.0 471.2h0M548.1 498.1h0M547.8 507.4h0M549.3 548.4h0M549.0 507.5h0M548.9 505.9h0M549.4 483.7h0M549.2 501.4h0M548.5 527.0h0M549.3 494.7h0M548.6 524.8h0M549.0 529.5h0M549.2 504.1h0M550.2 500.9h0M550.2 505.3h0M550.1 541.4h0M549.9 509.3h0M550.4 500.4h0M550.1 500.5h0M549.7 532.5h0M550.0 558.2h0M550.3 520.5h0M549.7 539.7h0M551.1 497.6h0M550.7 528.7h0M550.7 507.8h0M550.6 496.8h0M550.9 534.5h0M550.9 550.4h0M551.0 508.7h0M550.9 517.0h0M551.0 527.8h0M551.1 535.1h0M552.1 530.8h0M551.8 495.1h0M551.9 481.0h0M551.9 528.6h0M552.1 522.4h0M552.3 554.6h0M552.4 562.0h0M551.9 482.4h0M551.8 506.8h0M551.9 510.4h0M551.9 489.5h0M552.6 496.5h0M552.7 518.4h0M553.0 506.9h0M553.0 488.7h0M552.5 545.1h0M553.1 507.6h0M552.9 494.2h0M552.8 516.7h0M553.4 554.8h0M552.8 492.1h0M554.2 505.2h0M554.0 564.3h0M554.4 512.1h0M553.8 546.7h0M553.6 541.1h0M554.2 530.9h0M553.6 546.4h0M553.6 533.3h0M554.0 495.0h0M554.5 518.5h0M554.2 499.3h0M555.0 508.8h0M554.8 529.9h0M554.8 532.2h0M554.9 557.5h0M555.1 527.8h0M554.7 483.6h0M555.5 554.2h0M554.8 497.2h0M555.3 511.5h0M554.9 510.6h0M556.0 552.7h0M556.3 502.2h0M556.5 488.0h0M555.5 556.0h0M556.3 537.6h0M555.9 528.9h0M555.6 489.1h0M555.7 485.1h0M555.7 518.6h0M555.5 487.7h0M557.4 512.1h0M557.0 533.4h0M557.4 523.2h0M557.2 494.4h0M556.5 535.0h0M557.1 523.7h0M556.6 557.6h0M556.7 526.8h0M556.6 522.9h0M556.8 519.8h0M558.2 509.0h0M557.8 541.5h0M558.1 539.5h0M557.5 535.0h0M558.4 522.3h0M557.7 542.8h0M557.9 512.2h0M558.3 547.2h0M558.3 539.6h0M558.0 511.1h0M558.6 512.0h0M559.2 501.7h0M558.8 542.3h0M559.2 495.7h0M558.9 515.6h0M558.5 555.2h0M558.6 543.5h0M558.9 512.2h0M559.4 509.8h0M558.7 538.4h0M560.1 509.5h0M559.6 477.7h0M560.3 513.7h0M560.2 510.2h0M559.9 504.5h0M560.0 552.2h0M559.6 524.8h0M560.1 513.7h0M560.5 528.5h0M560.1 511.8h0M561.4 484.6h0M560.6 503.7h0M561.1 526.1h0M560.9 529.6h0M560.8 507.3h0M561.4 510.8h0M560.9 491.7h0M561.2 536.6h0M560.7 544.1h0M561.3 559.7h0M561.5 537.5h0M561.7 550.9h0M561.8 493.9h0M562.3 500.3h0M562.2 507.0h0M561.9 542.7h0M562.2 549.4h0M561.7 484.6h0M561.9 530.3h0M561.8 506.0h0M563.5 518.1h0M563.1 515.1h0M562.6 518.4h0M563.0 526.9h0M563.5 536.2h0M563.4 510.6h0M563.2 558.4h0M562.8 537.0h0M563.5 547.8h0M563.0 550.8h0M563.7 477.3h0M564.1 518.0h0M564.2 504.7h0M564.1 530.3h0M564.0 501.5h0M564.3 514.4h0M564.3 536.9h0M564.1 511.2h0M564.3 515.5h0M563.9 516.9h0M565.3 537.4h0M565.3 548.2h0M564.7 508.1h0M564.9 516.2h0M564.8 515.2h0M564.6 523.8h0M565.1 531.1h0M564.6 531.2h0M564.7 497.5h0M564.6 494.6h0M565.0 512.0h0M565.9 505.8h0M566.0 514.9h0M566.3 505.3h0M566.1 508.9h0M565.6 517.2h0M566.0 517.7h0M565.7 513.2h0M566.4 526.5h0M565.6 496.6h0M565.9 479.0h0M566.1 494.5h0M566.6 551.3h0M567.2 531.6h0M566.7 535.2h0M567.0 494.7h0M566.8 485.0h0M566.6 467.8h0M567.1 530.6h0M567.3 479.8h0M567.5 473.4h0M567.2 519.6h0M568.2 503.6h0M568.1 540.4h0M567.8 485.7h0M567.7 509.3h0M568.0 506.2h0M567.8 488.6h0M568.1 534.4h0M568.1 559.6h0M568.2 533.0h0M568.4 490.6h0M568.4 494.2h0M569.1 520.1h0M569.2 516.5h0M569.3 503.6h0M568.9 525.4h0M569.3 515.7h0M568.7 503.4h0M568.7 514.8h0M569.4 498.2h0M568.9 523.5h0M568.6 537.1h0M569.5 496.3h0M569.5 526.3h0M569.7 559.8h0M569.9 512.3h0M570.4 552.6h0M570.2 491.1h0M570.1 479.7h0M570.1 512.7h0M570.5 535.8h0M570.3 558.9h0M571.3 510.3h0M571.1 537.2h0M571.5 517.4h0M571.2 558.9h0M571.4 505.1h0M571.4 546.9h0M571.4 501.6h0M571.1 474.5h0M571.1 525.0h0M571.5 540.8h0M571.5 509.9h0M572.3 531.1h0M571.7 516.8h0M571.8 500.6h0M572.5 536.3h0M571.8 536.4h0M572.3 546.2h0M571.8 529.2h0M572.5 499.4h0M571.5 544.8h0M573.1 547.3h0M572.6 496.3h0M573.2 504.4h0M573.4 525.6h0M573.2 510.3h0M573.1 522.4h0M572.6 515.9h0M572.7 522.4h0M573.2 508.2h0M573.3 512.5h0M573.6 483.2h0M574.3 539.9h0M573.7 502.5h0M573.6 513.1h0M573.8 575.5h0M573.8 509.5h0M574.3 514.5h0M574.3 513.4h0M574.4 520.6h0M574.3 516.8h0M575.1 500.0h0M574.5 550.0h0M574.7 511.4h0M575.4 489.2h0M574.5 497.1h0M574.7 516.4h0M574.7 511.8h0M574.6 504.8h0M575.3 509.3h0M575.0 525.4h0M576.3 489.2h0M575.8 561.5h0M576.1 514.1h0M575.8 551.5h0M575.9 508.3h0M575.6 473.8h0M575.7 524.5h0M576.2 552.8h0M576.2 521.3h0M576.0 500.1h0M576.9 501.4h0M577.3 505.1h0M576.7 483.5h0M576.7 527.6h0M577.2 509.7h0M576.6 519.6h0M577.2 530.4h0M577.4 485.0h0M577.2 523.1h0M577.1 473.2h0M577.0 524.2h0M577.6 529.5h0M577.9 507.9h0M578.3 543.4h0M577.8 549.1h0M577.7 489.2h0M578.1 518.1h0M577.7 523.3h0M577.7 520.6h0M578.3 515.7h0M578.4 521.2h0M577.5 508.8h0M578.9 495.8h0M579.0 544.4h0M578.8 522.0h0M579.2 524.5h0M579.4 531.0h0M579.0 519.3h0M578.8 489.0h0M578.8 517.3h0M578.6 479.6h0M578.6 535.5h0M580.3 496.8h0M580.4 506.6h0M580.3 534.5h0M580.0 515.1h0M580.0 532.4h0M580.1 489.1h0M580.0 531.8h0M579.6 502.2h0M579.7 515.9h0M580.5 525.6h0M581.3 489.4h0M580.7 523.3h0M581.4 495.4h0M581.2 526.5h0M581.4 541.3h0M580.9 515.1h0M581.3 502.1h0M581.0 522.4h0M580.8 513.7h0M580.8 554.2h0M581.8 545.1h0M582.3 541.3h0M582.2 504.8h0M582.0 506.7h0M582.3 522.0h0M582.1 486.2h0M581.7 556.5h0M581.5 530.3h0M581.8 487.3h0M582.2 536.1h0M583.4 513.3h0M582.6 532.4h0M582.8 561.4h0M583.1 550.1h0M583.0 562.0h0M582.7 533.1h0M583.3 520.6h0M582.6 532.7h0M583.0 509.3h0M583.2 544.2h0M583.6 493.0h0M583.9 513.4h0M583.9 521.5h0M584.2 525.5h0M584.1 503.4h0M584.0 485.9h0M583.7 539.4h0M584.0 501.3h0M583.8 470.3h0M583.9 559.8h0M584.3 537.2h0M584.7 537.0h0M584.8 489.9h0M584.9 535.2h0M585.4 540.5h0M584.9 552.2h0M585.3 501.9h0M585.4 526.3h0M585.1 510.9h0M585.2 488.7h0M585.5 512.2h0M585.4 539.3h0M585.9 474.9h0M586.4 519.6h0M585.7 528.6h0M585.8 496.4h0M586.0 526.6h0M585.5 501.0h0M585.6 538.1h0M586.0 542.7h0M586.4 497.3h0M586.4 511.0h0M587.1 515.8h0M587.3 509.8h0M587.3 526.1h0M587.0 504.1h0M587.1 518.0h0M587.1 503.7h0M586.6 468.6h0M586.8 497.8h0M587.3 526.1h0M586.9 538.6h0M586.6 526.7h0M587.6 497.6h0M587.5 532.5h0M587.6 538.7h0M588.5 499.4h0M588.0 548.8h0M587.9 505.9h0M587.6 539.6h0M588.2 547.6h0M587.8 532.3h0M588.4 543.2h0M587.7 543.5h0M588.7 515.1h0M589.2 529.3h0M588.7 509.1h0M588.6 519.8h0M588.9 531.2h0M588.7 507.0h0M588.8 501.5h0M588.9 519.2h0M588.6 522.1h0M588.5 512.4h0M589.0 509.3h0M590.1 507.8h0M589.9 537.1h0M589.8 528.1h0M589.6 520.0h0M589.7 510.6h0M590.1 524.9h0M589.7 481.2h0M590.0 513.4h0M590.2 520.3h0M589.7 491.6h0M591.2 503.2h0M590.6 529.5h0M590.7 535.5h0M591.3 499.7h0M591.3 515.9h0M591.4 531.8h0M590.7 472.7h0M591.0 485.1h0M590.9 559.0h0M591.4 503.9h0M591.2 516.9h0M592.4 522.7h0M592.0 557.8h0M591.7 477.9h0M592.5 513.6h0M591.8 529.7h0M592.5 535.2h0M592.0 508.0h0M592.3 531.7h0M591.9 470.5h0M591.7 463.4h0M592.4 511.5h0M593.0 541.1h0M593.3 501.2h0M593.3 483.6h0M593.2 527.9h0M592.9 475.1h0M593.4 510.6h0M593.5 493.0h0M593.1 540.8h0M593.4 517.3h0M592.8 541.0h0M593.3 515.1h0M593.6 513.3h0M594.1 519.0h0M593.6 495.4h0M594.1 497.8h0M593.8 500.1h0M593.8 520.3h0M593.9 556.7h0M594.2 500.3h0M593.8 510.8h0M594.2 548.6h0M593.7 477.7h0M594.6 524.1h0M595.2 536.4h0M595.4 505.2h0M594.9 509.0h0M594.6 510.4h0M595.0 544.7h0M594.7 508.0h0M595.1 563.0h0M595.1 507.5h0M595.3 532.9h0M594.5 483.8h0M596.3 525.2h0M596.2 537.5h0M596.2 507.8h0M596.4 548.9h0M596.0 488.6h0M596.4 536.6h0M596.2 551.1h0M596.5 498.5h0M595.8 508.6h0M595.6 502.2h0M597.4 510.5h0M597.4 534.4h0M597.5 516.8h0M597.3 494.9h0M596.6 523.9h0M596.8 516.4h0M596.7 531.3h0M597.4 496.9h0M597.0 501.6h0M596.5 530.6h0M597.0 573.1h0M597.6 497.7h0M597.9 522.4h0M597.6 504.6h0M597.7 547.7h0M598.2 534.5h0M598.5 549.2h0M598.3 526.8h0M597.7 571.1h0M598.3 545.9h0M597.6 528.5h0M598.9 546.3h0M598.6 537.6h0M599.0 530.0h0M599.3 536.9h0M598.6 516.4h0M599.1 526.1h0M599.5 533.3h0M599.1 500.8h0M598.7 489.1h0M599.2 525.4h0M599.3 514.1h0M599.7 491.3h0M599.7 479.6h0M599.7 500.7h0M600.0 515.8h0M600.5 539.4h0M599.7 519.7h0M599.7 469.5h0M600.1 487.0h0M600.2 553.1h0M599.8 470.4h0M599.7 542.4h0M600.6 500.6h0M601.3 524.7h0M600.6 524.0h0M600.9 487.5h0M601.4 532.6h0M600.9 495.5h0M600.9 505.0h0M600.8 533.2h0M601.2 516.5h0M601.3 506.4h0M601.7 493.6h0M601.7 545.9h0M601.9 515.5h0M602.0 497.2h0M601.9 516.8h0M601.9 554.0h0M601.8 487.7h0M602.0 525.6h0M601.6 570.7h0M602.0 540.9h0M602.0 517.8h0M602.7 490.4h0M602.8 516.0h0M602.6 506.6h0M602.6 534.5h0M603.1 521.2h0M603.2 543.2h0M602.5 483.9h0M603.4 516.4h0M603.2 533.3h0M602.7 487.7h0M603.3 516.9h0M603.5 490.0h0M604.4 498.4h0M604.3 537.9h0M603.7 512.0h0M603.5 516.1h0M604.5 520.5h0M603.6 539.3h0M604.4 471.8h0M603.8 514.1h0M604.0 516.5h0M605.1 546.0h0M605.1 495.5h0M604.5 567.6h0M604.7 486.0h0M605.4 487.8h0M605.1 523.9h0M605.1 551.0h0M604.8 482.9h0M605.4 502.3h0M604.7 547.3h0M605.8 549.3h0M605.9 514.9h0M606.5 543.9h0M606.1 540.8h0M605.5 505.2h0M606.5 518.8h0M605.6 497.4h0M605.6 494.8h0M606.4 488.1h0M605.8 502.0h0M606.8 530.8h0M607.0 519.3h0M606.9 516.8h0M606.7 503.6h0M607.0 508.5h0M606.7 498.0h0M606.6 501.6h0M607.3 532.6h0M606.7 496.0h0M606.7 547.4h0M606.5 565.2h0M607.8 507.4h0M608.0 525.8h0M608.4 554.4h0M608.2 481.3h0M608.4 541.5h0M607.7 509.3h0M608.5 504.0h0M608.3 484.9h0M607.8 535.9h0M607.6 507.2h0M608.0 515.3h0M609.1 514.5h0M609.1 531.5h0M609.0 527.4h0M609.0 508.2h0M608.9 505.7h0M608.9 526.2h0M609.0 522.9h0M609.0 534.6h0M609.4 495.5h0M608.5 518.3h0M609.8 535.1h0M610.1 533.1h0M609.9 513.1h0M609.6 484.4h0M609.5 485.8h0M610.1 511.2h0M609.7 496.1h0M609.9 545.8h0M610.0 520.4h0M610.0 547.5h0M609.5 517.2h0M611.4 475.9h0M611.2 499.1h0M611.2 520.1h0M610.9 511.4h0M611.1 526.4h0M611.2 518.0h0M610.7 503.4h0M611.1 548.6h0M611.4 550.6h0M611.1 514.3h0M611.8 545.4h0M612.1 477.0h0M612.3 487.4h0M612.2 471.2h0M612.1 503.4h0M612.2 512.6h0M612.1 526.6h0M611.7 532.1h0M612.4 513.7h0M611.8 527.1h0M611.8 544.1h0M613.1 532.5h0M612.6 528.2h0M613.0 497.5h0M613.2 513.5h0M612.9 531.2h0M612.8 486.1h0M613.3 533.1h0M612.5 519.8h0M613.5 474.8h0M613.5 507.4h0M614.4 551.8h0M614.3 521.7h0M613.9 546.6h0M614.0 492.6h0M613.8 521.9h0M614.0 524.6h0M614.0 527.7h0M613.6 542.5h0M613.8 510.8h0M614.0 505.8h0M613.6 528.4h0M615.4 507.0h0M615.5 510.6h0M614.6 550.6h0M615.5 515.3h0M614.6 511.5h0M614.6 486.7h0M615.3 560.7h0M614.8 518.5h0M615.0 514.3h0M614.9 562.2h0M616.5 540.8h0M616.1 509.1h0M616.0 509.5h0M616.4 487.7h0M616.0 506.0h0M615.9 533.3h0M615.7 518.7h0M615.6 553.1h0M616.5 530.3h0M616.2 525.1h0M616.3 504.2h0M617.4 519.4h0M617.0 536.7h0M616.7 515.8h0M617.3 554.1h0M617.5 506.1h0M617.0 500.6h0M617.1 475.8h0M617.1 490.3h0M617.5 493.7h0M616.5 521.1h0M616.8 514.4h0M617.6 518.3h0M617.8 555.3h0M617.6 484.7h0M618.1 510.6h0M617.8 518.7h0M618.0 492.0h0M617.6 531.2h0M618.1 506.9h0M618.1 508.7h0M618.4 542.3h0M618.0 498.4h0M619.0 512.5h0M619.1 497.4h0M619.2 492.1h0M618.9 502.7h0M618.9 504.6h0M618.9 498.1h0M618.9 510.3h0M619.4 548.9h0M618.7 501.9h0M619.1 496.0h0M619.2 515.7h0M620.0 520.5h0M620.1 548.1h0M620.2 504.0h0M619.9 521.8h0M620.4 507.3h0M620.0 485.5h0M620.0 528.5h0M620.5 524.6h0M620.1 524.2h0M619.7 529.8h0M619.8 507.9h0M620.6 530.8h0M621.5 516.9h0M620.6 497.6h0M621.5 526.7h0M621.4 512.5h0M621.1 543.0h0M620.9 516.5h0M620.5 503.9h0M621.4 511.3h0M620.7 533.8h0M621.3 505.3h0M622.4 500.2h0M621.8 509.3h0M621.7 534.1h0M621.8 530.5h0M622.3 545.7h0M622.0 520.2h0M621.7 513.6h0M622.2 504.7h0M621.7 533.0h0M621.6 505.5h0M621.7 522.4h0M623.5 530.9h0M622.9 489.7h0M622.6 542.5h0M622.6 532.9h0M622.7 504.6h0M622.7 516.7h0M622.9 457.4h0M623.0 524.9h0M622.8 538.0h0M622.8 521.9h0M622.9 509.8h0M623.5 549.7h0M624.2 512.5h0M623.7 532.0h0M624.5 561.1h0M623.5 525.6h0M623.6 505.7h0M624.1 555.2h0M624.3 543.9h0M623.8 536.1h0M624.2 540.9h0M623.5 516.2h0M624.7 508.6h0M624.6 501.2h0M625.4 515.8h0M625.4 515.9h0M625.1 493.2h0M624.8 492.0h0M624.9 525.3h0M624.9 560.2h0M625.2 465.7h0M624.8 534.0h0M625.0 527.0h0M626.2 553.8h0M625.8 500.1h0M625.6 499.9h0M626.4 522.4h0M626.4 482.5h0M626.2 510.9h0M626.0 468.0h0M626.1 539.9h0M626.5 543.1h0M626.1 551.1h0M625.8 540.7h0M626.7 541.5h0M627.4 535.1h0M627.1 519.1h0M627.0 514.5h0M626.8 530.0h0M627.4 550.1h0M627.0 473.6h0M627.0 542.3h0M627.1 529.3h0M627.5 550.7h0M626.5 533.1h0M627.7 509.5h0M627.7 490.5h0M628.0 508.0h0M627.9 527.1h0M627.6 504.7h0M628.0 543.3h0M628.2 549.6h0M627.6 512.2h0M628.2 528.6h0M627.5 526.1h0M628.3 514.6h0M629.0 508.1h0M629.2 508.5h0M629.0 526.6h0M629.4 555.5h0M629.0 525.0h0M629.4 504.1h0M629.4 523.5h0M628.6 513.6h0M628.6 503.3h0M628.7 528.5h0M629.4 510.3h0M628.6 527.4h0M630.0 517.8h0M630.1 535.5h0M630.5 513.9h0M630.1 527.2h0M630.5 505.2h0M630.2 505.6h0M630.4 524.0h0M630.1 567.6h0M630.2 518.0h0M630.2 542.0h0M630.2 557.9h0M630.6 533.9h0M631.3 530.8h0M631.3 514.0h0M631.4 501.1h0M630.7 524.6h0M630.8 545.3h0M631.2 540.2h0M630.8 489.2h0M631.1 510.0h0M631.0 547.4h0M630.7 544.4h0M631.3 487.3h0M631.7 521.3h0M632.1 480.7h0M632.4 507.2h0M632.0 528.7h0M631.8 492.7h0M631.8 548.2h0M632.2 517.7h0M632.0 518.9h0M632.4 495.3h0M632.1 486.4h0M632.5 544.6h0M631.7 527.2h0M632.8 505.0h0M632.5 493.4h0M633.1 513.6h0M633.1 536.9h0M633.1 529.8h0M632.6 556.2h0M632.6 561.0h0M633.4 488.4h0M633.5 520.2h0M633.0 492.7h0M633.0 576.8h0M633.7 501.5h0M634.0 485.8h0M634.4 541.1h0M634.1 546.3h0M633.6 535.6h0M634.0 536.1h0M634.0 491.5h0M633.7 563.3h0M634.0 502.9h0M633.6 511.8h0M633.9 501.6h0M634.8 542.9h0M635.0 547.5h0M634.9 522.3h0M634.7 495.6h0M634.8 491.1h0M635.1 510.3h0M635.2 498.3h0M635.1 552.3h0M634.8 544.5h0M635.3 544.7h0M635.5 539.4h0M635.7 484.2h0M635.8 534.1h0M636.0 508.8h0M636.0 533.4h0M635.7 523.7h0M636.3 524.7h0M635.7 513.1h0M636.5 543.0h0M636.1 557.4h0M636.4 521.8h0M636.3 512.4h0M636.5 540.2h0M637.0 516.1h0M637.0 495.3h0M636.6 512.7h0M637.4 512.7h0M637.0 521.3h0M636.7 490.1h0M637.3 537.8h0M636.7 508.8h0M636.7 509.6h0M636.6 511.9h0M637.6 544.5h0M638.5 549.3h0M637.6 522.8h0M637.6 510.4h0M637.5 559.1h0M638.4 527.7h0M637.5 527.0h0M637.9 528.7h0M637.8 537.7h0M637.6 561.6h0M638.1 543.4h0M638.7 548.9h0M639.5 520.8h0M639.2 547.8h0M639.5 512.7h0M639.2 519.9h0M639.2 504.2h0M639.3 512.1h0M638.6 496.2h0M639.4 515.3h0M639.3 524.8h0M639.1 545.4h0M639.0 550.4h0M639.7 572.7h0M639.6 528.1h0M640.1 559.7h0M640.1 510.5h0M639.8 504.7h0M639.7 487.2h0M639.7 497.7h0M640.4 539.7h0M640.1 519.7h0M639.7 559.4h0M639.6 552.9h0M640.1 525.3h0M641.1 529.7h0M641.1 538.1h0M640.9 473.8h0M641.0 524.0h0M641.2 548.1h0M640.6 533.4h0M640.7 532.0h0M640.7 544.2h0M641.4 517.9h0M640.6 541.9h0M640.9 529.8h0M641.4 496.2h0M642.1 485.7h0M641.9 542.9h0M641.6 530.4h0M641.6 563.6h0M641.7 500.1h0M642.0 499.6h0M642.2 497.7h0M641.5 538.4h0M641.9 553.0h0M641.8 519.2h0M642.1 549.0h0M641.9 520.2h0M643.4 529.3h0M642.8 557.3h0M642.9 531.2h0M643.4 504.2h0M643.0 532.2h0M642.9 515.5h0M642.5 553.8h0M643.0 487.5h0M643.0 546.1h0M642.8 520.1h0M642.6 559.5h0M643.0 504.5h0M644.3 519.3h0M644.1 515.1h0M644.4 501.1h0M644.1 528.2h0M643.7 529.7h0M644.5 558.2h0M643.6 510.8h0M643.5 501.5h0M643.7 512.7h0M643.6 556.9h0M643.9 497.1h0M644.5 498.7h0M644.7 496.1h0M645.1 513.6h0M645.1 512.5h0M645.2 535.9h0M645.4 511.2h0M645.5 494.8h0M644.8 487.1h0M645.2 505.7h0M644.5 483.3h0M644.7 521.8h0M644.9 549.3h0M645.0 522.0h0M646.3 478.8h0M646.2 538.3h0M645.9 510.7h0M645.6 512.3h0M646.0 543.2h0M646.3 530.5h0M646.5 529.5h0M645.9 537.8h0M646.0 550.6h0M645.7 556.6h0M646.0 520.5h0M645.6 557.1h0M647.3 540.0h0M646.6 526.7h0M647.3 517.3h0M647.4 510.6h0M646.7 488.9h0M647.1 527.9h0M646.6 538.9h0M647.4 529.6h0M647.4 523.2h0M647.1 532.0h0M646.7 564.4h0M647.3 493.7h0M647.3 532.9h0M648.2 483.7h0M647.5 517.0h0M648.5 502.7h0M648.3 491.9h0M648.1 535.8h0M648.1 541.6h0M647.8 526.3h0M648.2 552.9h0M648.3 509.7h0M648.1 536.0h0M648.1 539.2h0M648.3 495.3h0M647.8 542.3h0M648.7 500.3h0M648.6 540.9h0M649.4 562.3h0M648.8 527.6h0M649.4 524.7h0M649.2 530.8h0M648.9 539.6h0M648.9 495.4h0M649.2 517.4h0M648.7 507.4h0M649.2 519.4h0M648.7 522.7h0M648.9 548.9h0M649.8 540.6h0M650.3 525.4h0M650.1 517.7h0M650.5 475.0h0M649.7 485.5h0M649.7 518.3h0M649.7 540.5h0M649.8 484.8h0M650.3 525.8h0M649.5 529.2h0M649.8 494.0h0M649.5 533.6h0M649.8 516.6h0M651.3 573.4h0M651.3 509.5h0M651.3 518.8h0M650.7 527.5h0M650.6 535.2h0M650.8 534.2h0M650.6 513.7h0M650.7 568.7h0M651.0 528.6h0M651.2 523.1h0M651.0 572.7h0M651.3 535.3h0M650.6 554.8h0M651.7 519.3h0M651.5 516.5h0M651.7 492.2h0M651.5 509.2h0M651.8 517.7h0M652.4 516.3h0M652.2 522.0h0M652.2 475.8h0M652.0 503.4h0M652.1 544.4h0M651.8 533.0h0M651.9 515.4h0M652.2 525.8h0M652.8 522.4h0M652.8 524.2h0M653.3 524.3h0M652.7 505.0h0M653.3 533.1h0M652.9 519.9h0M653.0 521.5h0M653.3 512.6h0M653.1 543.3h0M653.2 474.6h0M653.2 521.5h0M652.9 543.9h0M653.3 511.8h0M653.4 516.5h0M654.5 506.1h0M653.8 496.9h0M654.5 493.7h0M653.9 531.3h0M654.0 536.6h0M653.9 546.3h0M654.2 535.2h0M654.1 539.6h0M654.0 530.3h0M653.9 524.0h0M654.3 527.7h0M654.0 506.0h0M653.9 536.2h0M653.7 527.2h0M654.7 520.8h0M655.2 555.3h0M655.1 519.8h0M654.5 546.3h0M655.3 513.9h0M654.7 540.2h0M655.0 539.0h0M654.6 543.3h0M654.7 507.4h0M654.6 523.7h0M655.4 548.9h0M654.8 535.7h0M654.6 520.2h0M655.8 550.7h0M655.9 553.3h0M655.9 508.8h0M655.7 539.0h0M655.7 476.7h0M656.4 509.5h0M655.5 545.6h0M655.7 528.3h0M656.3 542.7h0M656.5 510.6h0M655.8 564.2h0M656.1 544.3h0M656.0 573.8h0M656.1 535.0h0M657.2 501.4h0M657.0 510.9h0M656.7 518.9h0M656.7 557.2h0M656.5 522.2h0M656.7 504.3h0M657.5 514.4h0M657.4 564.6h0M657.5 545.5h0M657.2 548.9h0M657.1 521.4h0M657.2 538.1h0M657.3 493.6h0M656.8 536.2h0M657.8 498.8h0M658.1 552.4h0M658.2 498.9h0M657.6 538.9h0M658.2 544.3h0M657.5 521.7h0M657.7 518.3h0M657.8 493.8h0M658.4 517.3h0M657.7 566.1h0M658.1 550.8h0M658.4 525.5h0M657.9 516.3h0M657.7 510.4h0M659.4 534.0h0M658.9 528.1h0M659.4 562.9h0M658.9 516.0h0M659.1 530.4h0M659.0 507.8h0M658.6 550.4h0M658.8 561.5h0M659.2 496.3h0M658.8 543.4h0M658.6 519.5h0M658.7 513.1h0M659.0 480.9h0M659.2 529.4h0M659.9 518.9h0M659.8 521.5h0M660.1 556.8h0M659.7 517.1h0M660.5 533.2h0M659.9 513.1h0M659.5 529.5h0M660.3 512.8h0M660.2 533.3h0M659.7 499.8h0M659.5 525.3h0M660.0 526.4h0M660.3 543.9h0M660.0 547.1h0M659.7 537.6h0M660.7 558.1h0M660.7 572.9h0M660.6 510.1h0M661.1 524.0h0M660.8 531.6h0M660.8 535.6h0M660.8 540.4h0M660.6 524.7h0M661.0 521.1h0M661.1 546.9h0M661.5 523.0h0M660.9 532.1h0M661.4 521.5h0M660.7 531.9h0M660.7 517.0h0M662.2 544.9h0M661.5 554.4h0M662.4 562.2h0M662.3 544.3h0M661.6 559.9h0M662.2 536.7h0M662.3 571.4h0M662.0 520.7h0M662.4 475.6h0M662.1 513.2h0M662.2 514.9h0M661.6 519.7h0M661.6 531.3h0M662.2 515.3h0M662.4 535.9h0M663.0 514.9h0M663.5 530.2h0M663.3 544.1h0M663.4 517.4h0M663.4 542.5h0M662.7 524.1h0M662.6 558.7h0M662.6 547.8h0M663.0 506.9h0M662.5 557.8h0M663.2 547.5h0M662.9 524.3h0M663.2 514.4h0M663.5 570.3h0M662.7 516.7h0M663.9 531.8h0M664.5 519.5h0M664.3 460.2h0M663.9 523.8h0M663.8 519.9h0M664.4 543.3h0M664.0 527.7h0M663.9 507.4h0M663.8 508.7h0M664.4 492.6h0M664.2 541.5h0M664.5 499.7h0M664.3 526.7h0M663.7 569.0h0M664.2 541.0h0M665.3 543.9h0M665.1 573.7h0M665.4 487.5h0M664.6 514.1h0M664.7 498.1h0M664.9 518.7h0M664.6 536.1h0M665.4 524.1h0M664.7 521.4h0M664.7 500.6h0M664.8 531.2h0M664.8 557.4h0M665.0 527.5h0M665.2 540.9h0M664.8 551.4h0M666.2 522.7h0M666.4 505.0h0M665.8 556.5h0M666.5 528.2h0M665.5 535.7h0M666.0 516.9h0M665.9 516.9h0M665.9 520.4h0M666.0 541.0h0M666.2 575.8h0M665.8 537.8h0M666.0 536.7h0M665.9 562.9h0M666.1 507.5h0M665.6 544.5h0M666.5 512.1h0M666.8 539.2h0M667.3 520.3h0M667.1 535.4h0M666.8 550.7h0M667.0 542.0h0M666.8 498.8h0M666.6 517.3h0M667.3 523.1h0M667.1 537.5h0M667.5 568.6h0M667.0 554.4h0M666.5 525.5h0M667.0 500.0h0M667.0 570.4h0M667.5 541.9h0M667.6 549.2h0M668.2 546.1h0M667.9 533.7h0M668.4 530.7h0M668.2 532.6h0M668.2 563.7h0M668.4 570.0h0M668.4 543.2h0M668.2 505.2h0M667.6 517.3h0M667.8 513.9h0M667.8 566.2h0M668.3 550.5h0M667.5 525.5h0M668.0 530.1h0M667.7 549.5h0M668.8 525.8h0M669.4 549.9h0M668.7 531.6h0M669.2 499.8h0M668.8 562.9h0M668.6 521.4h0M668.7 533.3h0M669.0 516.8h0M668.7 523.6h0M669.0 506.4h0M669.2 539.4h0M668.6 538.8h0M669.3 531.4h0M669.2 542.2h0M668.8 547.2h0M669.9 528.8h0M669.5 521.5h0M669.7 515.5h0M670.4 512.0h0M670.3 491.6h0M670.5 464.9h0M669.6 520.7h0M670.1 538.4h0M670.0 538.6h0M670.0 536.0h0M670.1 509.9h0M670.1 545.1h0M670.2 524.9h0M669.7 508.4h0M670.4 545.8h0M671.1 535.1h0M671.1 553.1h0M671.1 547.1h0M671.2 563.7h0M670.8 547.4h0M670.9 561.8h0M671.1 561.7h0M671.3 520.4h0M670.9 530.2h0M670.6 564.3h0M670.5 554.8h0M670.9 568.1h0M671.5 541.2h0M670.5 490.9h0M670.9 527.1h0M671.2 537.0h0M671.9 511.2h0M672.2 555.2h0M671.9 526.0h0M671.9 527.7h0M672.4 528.6h0M672.5 534.0h0M671.8 531.9h0M671.6 536.9h0M672.0 486.4h0M672.4 533.6h0M671.9 546.1h0M672.0 547.7h0M671.8 534.1h0M671.9 549.6h0M672.2 540.5h0M671.6 477.0h0M672.9 555.4h0M673.2 524.4h0M673.3 510.5h0M673.3 537.1h0M673.1 549.6h0M673.5 531.0h0M673.0 553.6h0M673.1 508.1h0M673.4 547.7h0M673.0 540.5h0M673.3 547.1h0M672.6 567.6h0M672.9 496.9h0M673.0 539.8h0M673.3 524.0h0M673.0 511.0h0M674.4 527.3h0M673.7 545.3h0M673.8 544.4h0M673.7 500.0h0M673.7 496.7h0M673.8 561.2h0M674.5 565.7h0M674.4 538.8h0M674.3 520.2h0M673.7 526.1h0M674.4 542.7h0M673.8 520.1h0M674.1 526.8h0M674.4 546.8h0M673.6 516.4h0M674.0 514.9h0M675.2 532.9h0M675.3 528.2h0M675.3 548.3h0M675.2 532.3h0M675.4 486.5h0M674.6 520.6h0M674.8 549.2h0M674.7 496.0h0M675.1 498.1h0M674.9 546.1h0M674.8 534.7h0M674.9 497.5h0M675.2 530.2h0M674.7 558.5h0M674.8 523.7h0M675.9 537.1h0M675.8 484.2h0M676.3 530.5h0M675.8 538.8h0M676.4 539.8h0M676.3 529.0h0M675.9 483.4h0M675.7 551.5h0M676.3 544.8h0M675.6 523.8h0M675.7 535.9h0M676.1 500.8h0M675.8 488.9h0M675.7 545.8h0M675.5 537.8h0M675.5 553.2h0M677.4 551.3h0M677.0 543.5h0M677.2 539.3h0M677.5 532.7h0M676.8 516.2h0M676.9 515.9h0M676.7 540.0h0M677.5 490.9h0M676.9 526.8h0M676.6 518.4h0M676.5 512.5h0M677.0 567.6h0M676.7 504.7h0M676.7 535.9h0M676.9 554.8h0M677.5 522.2h0M677.6 563.0h0M677.9 516.0h0M677.7 524.9h0M678.0 520.7h0M677.7 482.5h0M678.1 563.3h0M678.0 508.8h0M678.1 510.7h0M677.8 540.0h0M678.4 562.9h0M678.4 514.3h0M678.1 534.3h0M677.5 493.5h0M678.5 533.8h0M677.6 540.7h0M679.5 557.8h0M678.6 551.0h0M679.3 552.0h0M678.5 507.2h0M678.9 557.4h0M678.7 567.4h0M679.0 549.6h0M679.0 517.7h0M678.9 498.3h0M678.9 540.9h0M679.3 528.9h0M679.0 516.4h0M679.4 529.8h0M678.8 529.7h0M679.4 540.4h0M679.6 544.4h0M679.5 548.2h0M680.0 554.2h0M680.0 504.2h0M680.5 526.8h0M679.8 551.9h0M680.1 522.1h0M680.0 535.9h0M680.5 556.0h0M680.4 511.5h0M680.0 498.7h0M679.7 534.1h0M680.1 514.5h0M680.0 533.2h0M679.7 526.4h0M680.6 524.8h0M681.0 567.8h0M680.5 557.4h0M681.3 516.5h0M680.6 525.3h0M681.3 518.7h0M681.0 530.2h0M680.7 563.3h0M680.8 547.9h0M680.7 541.6h0M680.7 512.2h0M681.1 545.8h0M681.1 520.6h0M681.0 505.2h0M681.4 544.8h0M680.5 547.4h0M682.4 497.3h0M682.1 557.2h0M682.4 549.9h0M681.8 521.7h0M681.9 557.8h0M681.9 526.6h0M681.5 495.1h0M681.9 567.4h0M682.3 575.7h0M682.2 501.5h0M682.0 517.0h0M682.2 564.0h0M682.2 544.7h0M681.6 522.0h0M681.8 555.4h0M682.7 529.9h0M683.3 534.5h0M682.9 530.4h0M682.8 550.3h0M683.1 528.3h0M683.2 510.2h0M683.1 547.1h0M683.3 499.8h0M682.5 526.8h0M683.3 542.5h0M682.7 551.8h0M682.7 524.0h0M683.2 541.9h0M682.9 553.1h0M683.1 500.5h0M683.3 529.8h0M684.1 509.9h0M683.8 545.2h0M684.3 500.2h0M684.3 523.5h0M684.2 552.3h0M684.2 517.3h0M684.4 491.9h0M683.8 536.7h0M683.7 550.6h0M684.5 510.7h0M684.1 532.9h0M684.4 545.0h0M683.8 547.5h0M684.2 557.3h0M684.1 571.0h0M684.8 545.1h0M685.4 495.1h0M684.6 534.8h0M684.8 534.8h0M685.2 499.4h0M684.5 541.1h0M684.7 524.9h0M684.6 558.6h0M684.9 546.5h0M684.8 549.2h0M684.6 535.3h0M684.7 528.2h0M685.4 488.6h0M684.8 564.0h0M685.0 510.9h0M685.9 529.6h0M686.3 512.7h0M686.3 532.6h0M686.4 563.8h0M686.3 536.5h0M686.0 504.0h0M685.7 553.9h0M686.0 547.4h0M686.3 576.3h0M685.9 539.9h0M686.2 506.1h0M685.7 538.0h0M686.5 501.3h0M685.8 501.6h0M685.8 556.1h0M687.3 551.8h0M686.8 564.9h0M686.8 510.2h0M687.1 564.9h0M686.9 516.7h0M686.7 496.1h0M687.4 501.9h0M687.4 529.4h0M686.7 498.9h0M686.5 540.6h0M686.9 509.8h0M687.0 527.2h0M687.3 560.6h0M686.8 557.1h0M686.6 522.1h0M687.7 536.4h0M687.9 506.8h0M687.6 513.1h0M688.3 527.1h0M687.9 540.3h0M688.1 510.2h0M687.8 561.4h0M688.3 571.4h0M687.6 516.6h0M687.9 511.9h0M687.7 529.1h0M688.1 543.6h0M687.9 542.8h0M688.5 490.1h0M688.2 572.7h0M688.1 559.1h0M689.0 518.3h0M689.3 534.3h0M689.4 532.9h0M688.5 528.0h0M689.3 526.9h0M688.9 561.9h0M688.7 566.3h0M689.4 512.2h0M688.9 552.8h0M689.3 517.1h0M688.7 555.0h0M688.8 547.1h0M688.8 544.8h0M689.2 541.5h0M689.5 543.9h0M689.6 558.7h0M690.1 505.1h0M690.5 521.6h0M689.5 531.0h0M689.6 505.8h0M690.3 540.1h0M689.6 542.7h0M689.9 538.0h0M690.4 534.9h0M690.1 527.0h0M689.7 536.7h0M689.7 553.2h0M689.8 537.0h0M690.1 554.0h0M690.1 531.2h0M691.1 515.6h0M690.8 539.4h0M691.4 556.0h0M691.1 532.3h0M691.0 527.0h0M691.2 558.7h0M690.6 505.0h0M691.5 572.0h0M691.0 537.6h0M691.4 568.9h0M690.6 521.4h0M691.1 551.1h0M690.6 549.6h0M690.8 560.1h0M690.6 542.7h0M690.7 536.8h0M692.4 515.2h0M692.1 555.6h0M691.7 486.2h0M691.8 531.8h0M692.4 547.5h0M692.4 542.0h0M691.6 544.0h0M692.3 521.4h0M691.6 504.2h0M692.1 533.5h0M692.4 568.1h0M692.4 541.4h0M692.0 537.3h0M691.9 573.7h0M691.8 539.2h0M693.0 495.8h0M692.5 561.9h0M692.5 537.9h0M693.1 559.7h0M692.5 562.6h0M693.2 548.1h0M693.0 544.4h0M693.5 518.8h0M692.8 551.4h0M692.9 537.9h0M693.3 553.5h0M693.2 541.0h0M693.2 533.1h0M693.4 543.8h0M692.7 554.5h0M694.0 542.0h0M694.1 518.7h0M694.2 524.0h0M693.6 548.6h0M694.1 521.0h0M693.8 541.7h0M693.8 555.0h0M693.7 555.0h0M693.7 490.5h0M693.7 563.4h0M693.8 489.6h0M694.3 514.1h0M694.4 512.9h0M694.2 502.1h0M694.0 491.3h0M694.5 529.5h0M695.4 508.7h0M695.5 533.3h0M695.1 548.7h0M694.5 540.8h0M694.8 538.9h0M694.9 545.2h0M695.3 566.1h0M695.3 497.6h0M695.3 522.9h0M695.2 521.6h0M695.3 560.6h0M694.7 531.6h0M695.1 536.3h0M694.6 520.1h0M694.6 538.6h0M695.8 569.3h0M696.1 524.1h0M696.0 509.4h0M695.7 500.6h0M696.0 531.9h0M695.7 548.1h0M696.3 555.6h0M695.7 524.0h0M695.7 526.2h0M696.4 554.1h0M696.0 502.2h0M695.7 535.5h0M695.9 526.0h0M695.8 536.8h0M696.1 519.6h0M697.1 523.1h0M697.2 535.2h0M697.4 517.7h0M697.4 568.8h0M697.1 551.4h0M696.9 537.5h0M696.9 520.8h0M696.7 527.4h0M696.5 524.6h0M696.7 540.2h0M696.5 542.6h0M697.0 520.2h0M697.1 561.1h0M697.3 541.0h0M696.7 509.2h0M697.1 507.3h0M698.0 521.8h0M698.2 512.8h0M698.2 534.0h0M697.6 509.8h0M697.7 525.5h0M697.6 561.5h0M697.8 550.5h0M697.7 556.0h0M698.3 553.3h0M698.2 541.9h0M698.3 491.9h0M698.4 567.7h0M698.1 526.7h0M698.2 546.7h0M697.6 524.1h0M697.7 520.7h0M698.9 545.7h0M699.3 538.2h0M698.9 539.6h0M698.5 503.1h0M698.8 520.2h0M698.6 523.9h0M699.5 518.9h0M698.9 563.2h0M699.5 534.6h0M699.1 539.4h0M699.2 539.4h0M698.7 524.4h0M699.0 531.7h0M698.6 545.4h0M698.5 522.9h0M699.6 539.1h0M700.2 521.2h0M700.3 517.4h0M699.5 488.3h0M699.6 559.6h0M699.6 513.1h0M699.6 536.4h0M700.3 541.4h0M699.9 504.9h0M700.1 504.6h0M699.8 533.8h0M700.3 517.4h0M700.1 531.8h0M700.3 513.9h0M700.0 534.0h0M700.2 553.1h0M700.9 576.6h0M701.0 534.7h0M700.7 520.1h0M701.0 557.7h0M700.6 536.2h0M700.7 502.1h0M701.1 569.6h0M700.8 516.4h0M700.5 513.3h0M700.9 521.7h0M701.5 494.8h0M700.5 511.9h0M700.9 531.9h0M701.3 507.8h0M701.3 544.7h0M701.4 510.0h0M701.9 520.0h0M701.7 538.6h0M701.6 500.6h0M702.1 564.6h0M701.9 502.8h0M701.9 510.9h0M702.5 529.4h0M701.6 473.2h0M702.4 522.6h0M702.1 547.2h0M701.9 549.3h0M701.6 501.0h0M702.3 560.0h0M702.0 523.7h0M702.3 540.8h0M702.3 540.6h0M702.9 566.6h0M702.7 532.8h0M702.9 502.5h0M702.5 518.2h0M702.7 565.3h0M703.0 536.5h0M702.6 513.2h0M703.2 521.7h0M703.4 505.6h0M702.9 509.2h0M703.4 532.3h0M702.8 535.1h0M703.3 555.4h0M703.2 549.8h0M703.5 572.2h0M704.3 523.0h0M703.7 504.7h0M703.5 547.5h0M704.3 519.0h0M704.4 556.6h0M704.2 505.2h0M704.4 515.9h0M703.8 542.5h0M703.7 529.2h0M704.4 480.5h0M703.8 517.6h0M703.6 561.3h0M704.3 571.6h0M703.9 530.4h0M704.4 528.9h0M703.8 542.0h0M705.0 558.6h0M705.2 550.0h0M704.8 570.6h0M704.9 563.3h0M705.2 511.7h0M705.3 515.5h0M705.0 543.5h0M705.3 550.0h0M705.0 565.0h0M705.4 521.1h0M704.9 484.7h0M705.0 534.0h0M704.8 549.2h0M704.7 513.4h0M705.2 513.2h0M705.3 561.0h0M706.0 528.8h0M706.0 523.5h0M705.8 550.2h0M706.0 507.3h0M706.2 543.6h0M706.5 474.1h0M705.8 499.4h0M706.1 512.5h0M706.0 521.8h0M705.7 542.7h0M706.3 532.9h0M706.0 523.0h0M706.4 549.8h0M705.8 513.4h0M706.2 522.9h0M707.0 538.0h0M707.2 537.1h0M706.5 515.8h0M707.2 531.8h0M706.8 546.6h0M706.8 537.9h0M707.1 522.0h0M707.5 493.1h0M707.1 565.8h0M706.9 543.5h0M707.1 544.2h0M706.7 554.1h0M707.2 554.3h0M707.0 526.9h0M707.1 535.8h0M708.2 512.9h0M707.8 502.3h0M708.1 534.5h0M708.5 524.9h0M707.9 546.7h0M708.4 538.8h0M707.7 527.7h0M707.7 540.3h0M707.7 500.0h0M708.3 561.3h0M707.8 503.0h0M708.3 530.5h0M707.9 520.0h0M708.3 573.3h0M708.0 515.8h0M708.1 529.6h0M709.2 557.9h0M709.0 527.1h0M709.1 496.5h0M708.7 569.5h0M709.0 520.5h0M708.8 499.2h0M708.6 529.7h0M709.3 523.1h0M708.5 564.2h0M709.0 505.8h0M709.4 540.1h0M708.8 500.9h0M708.6 541.5h0M709.2 540.7h0M709.2 554.8h0M708.9 526.5h0M710.3 537.1h0M710.5 533.6h0M709.9 538.6h0M710.0 519.3h0M710.3 527.5h0M709.6 499.9h0M710.4 573.2h0M710.1 548.1h0M710.1 540.9h0M710.3 573.1h0M709.7 555.1h0M710.4 524.0h0M709.7 523.1h0M709.5 545.1h0M709.6 549.5h0M710.6 556.3h0M711.4 516.0h0M710.8 513.6h0M710.9 554.0h0M711.0 521.4h0M711.4 498.5h0M710.6 560.1h0M711.2 547.0h0M710.6 546.4h0M711.4 565.3h0M711.0 509.2h0M710.6 486.2h0M711.2 527.9h0M711.1 529.7h0M710.5 526.8h0M710.5 503.3h0M711.5 565.4h0M712.3 546.9h0M711.8 544.0h0M711.7 549.0h0M712.1 526.8h0M711.7 516.6h0M711.6 516.8h0M711.9 526.3h0M711.7 573.6h0M712.1 523.4h0M711.5 513.2h0M712.0 547.0h0M712.4 544.5h0M711.7 546.8h0M711.5 530.5h0M711.5 559.5h0M712.8 493.5h0M712.8 521.3h0M713.0 519.8h0M713.2 532.2h0M713.2 546.0h0M713.2 558.0h0M713.3 534.6h0M713.1 506.2h0M712.7 479.2h0M712.9 562.8h0M713.1 572.6h0M713.4 522.8h0M713.2 516.9h0M712.8 502.5h0M713.3 533.2h0M712.7 534.8h0M713.6 505.9h0M714.0 560.6h0M714.3 551.5h0M713.9 505.3h0M714.1 546.8h0M714.5 552.8h0M713.8 505.4h0M713.6 527.0h0M714.2 519.7h0M714.2 539.1h0M714.0 528.0h0M713.8 524.6h0M714.3 548.6h0M714.0 523.4h0M714.1 530.6h0M714.6 524.7h0M715.1 549.1h0M714.6 556.3h0M715.4 531.7h0M714.5 534.3h0M714.9 485.9h0M714.9 520.3h0M714.7 520.7h0M715.4 517.7h0M715.0 513.4h0M715.3 532.9h0M714.8 515.8h0M714.9 556.1h0M714.6 542.1h0M715.2 524.2h0M715.8 551.4h0M715.7 552.8h0M716.0 517.8h0M715.8 563.2h0M715.7 525.3h0M716.2 534.6h0M715.7 489.6h0M716.3 555.3h0M716.3 521.1h0M716.2 526.9h0M716.1 538.6h0M716.0 540.4h0M716.4 519.0h0M715.6 562.4h0M716.4 548.6h0M716.2 521.7h0M716.9 539.2h0M716.8 529.4h0M716.6 551.2h0M716.7 501.5h0M717.2 505.1h0M716.9 532.0h0M717.1 515.8h0M716.9 526.9h0M716.7 505.8h0M716.7 503.6h0M717.1 523.2h0M716.6 543.2h0M716.5 533.6h0M716.8 522.1h0M717.0 543.7h0M717.7 562.2h0M718.2 498.9h0M717.8 491.6h0M718.3 513.2h0M717.5 513.6h0M717.8 527.9h0M717.6 537.1h0M718.3 556.2h0M717.7 552.7h0M718.0 520.4h0M718.0 545.3h0M717.8 557.6h0M717.6 525.6h0M718.2 553.2h0M718.3 566.0h0M718.4 497.1h0M719.3 529.8h0M719.1 563.4h0M718.9 511.2h0M718.9 561.7h0M718.9 490.7h0M719.4 543.6h0M718.8 500.8h0M718.8 525.7h0M719.0 567.3h0M718.7 559.0h0M718.7 566.8h0M718.7 526.8h0M718.9 532.7h0M718.7 552.2h0M719.0 512.0h0M719.5 564.2h0M719.5 489.2h0M720.1 544.1h0M720.5 491.7h0M720.4 543.7h0M720.5 525.8h0M720.5 505.7h0M719.8 497.9h0M719.9 553.9h0M720.5 550.3h0M720.2 515.2h0M719.7 539.1h0M719.9 528.0h0M720.1 559.5h0M719.9 514.8h0M720.0 521.3h0M721.3 557.8h0M721.3 515.9h0M720.8 544.4h0M720.6 550.9h0M721.3 562.1h0M720.7 518.0h0M720.6 538.1h0M720.6 505.1h0M721.5 535.3h0M721.5 476.5h0M720.7 511.0h0M720.8 503.0h0M720.7 526.8h0M720.8 542.4h0M721.0 476.1h0M721.4 568.4h0M721.9 500.0h0M722.2 550.5h0M721.6 495.0h0M722.2 553.4h0M721.6 537.3h0M722.0 557.4h0M721.9 557.7h0M722.3 503.5h0M721.6 507.6h0M722.3 534.2h0M721.5 541.3h0M721.9 549.5h0M722.3 525.7h0M721.9 520.0h0M722.3 524.1h0M721.9 530.5h0M723.0 536.5h0M722.8 553.2h0M723.4 542.7h0M722.6 539.1h0M722.9 486.5h0M723.2 554.9h0M722.8 553.5h0M723.3 555.1h0M722.7 536.3h0M723.5 512.9h0M723.5 552.9h0M723.1 570.5h0M722.9 485.7h0M723.0 528.7h0M723.1 529.2h0M723.3 534.4h0M724.4 563.4h0M723.8 535.6h0M724.2 508.0h0M724.3 507.8h0M724.5 546.4h0M724.0 545.1h0M724.4 522.1h0M724.0 543.6h0M723.8 570.2h0M724.0 553.6h0M724.3 550.5h0M723.6 546.7h0M724.3 505.3h0M723.6 544.3h0M723.9 507.5h0M723.7 557.0h0M724.8 509.0h0M724.8 532.1h0M725.5 546.4h0M725.1 544.2h0M724.8 545.3h0M724.5 524.3h0M724.8 549.6h0M724.8 503.3h0M724.6 537.1h0M725.3 498.1h0M724.9 538.3h0M725.2 524.8h0M725.2 505.8h0M725.0 521.8h0M724.9 503.9h0M725.8 539.1h0M726.1 523.7h0M726.2 543.1h0M725.5 539.5h0M725.7 529.3h0M726.2 516.9h0M726.0 541.9h0M726.4 521.4h0M726.4 517.4h0M725.7 564.6h0M726.3 554.8h0M726.3 507.2h0M725.7 554.8h0M725.8 575.3h0M726.4 518.7h0M727.2 519.7h0M727.4 551.6h0M727.2 546.3h0M726.9 529.5h0M727.4 571.6h0M727.4 515.9h0M726.8 531.9h0M727.0 524.0h0M726.5 520.8h0M726.9 540.4h0M727.2 513.4h0M727.4 492.8h0M726.8 522.5h0M726.8 554.6h0M727.3 543.2h0M727.8 502.3h0M727.8 535.0h0M728.5 524.5h0M727.6 544.2h0M728.4 571.1h0M727.7 559.3h0M727.6 524.3h0M728.0 538.1h0M728.1 566.6h0M728.3 573.6h0M728.2 512.8h0M728.2 563.4h0M728.0 502.8h0M728.4 548.8h0M727.7 530.8h0M729.0 511.0h0M728.7 546.7h0M728.9 503.0h0M729.2 513.5h0M728.6 540.8h0M729.3 559.4h0M728.8 533.1h0M728.8 518.2h0M729.4 548.7h0M729.1 575.1h0M728.5 506.8h0M728.6 539.6h0M728.9 509.0h0M729.4 536.7h0M728.9 549.3h0M729.7 523.0h0M730.1 533.6h0M729.6 492.2h0M730.2 567.5h0M730.4 568.2h0M729.7 568.6h0M730.2 514.1h0M729.9 538.1h0M730.3 566.2h0M730.2 532.4h0M730.0 526.5h0M729.8 501.7h0M730.1 527.3h0M729.5 527.9h0M729.9 551.6h0M730.7 538.8h0M731.4 560.2h0M730.7 566.6h0M731.4 526.4h0M731.4 535.3h0M730.7 484.4h0M731.1 525.7h0M730.8 544.9h0M731.1 541.4h0M731.3 542.2h0M731.3 549.1h0M730.5 537.3h0M731.0 547.3h0M731.1 533.1h0M730.9 530.3h0M731.2 504.7h0M732.5 536.8h0M731.5 523.9h0M732.3 538.0h0M732.4 512.7h0M732.1 527.9h0M732.0 533.9h0M731.9 515.3h0M732.3 542.5h0M731.9 548.5h0M732.3 544.2h0M732.0 507.3h0M732.5 571.5h0M731.9 547.1h0M731.6 549.6h0M732.4 529.7h0M732.1 515.2h0M733.5 546.0h0M733.1 556.6h0M732.9 510.0h0M732.9 529.9h0M733.1 519.5h0M732.9 546.0h0M733.3 548.8h0M732.7 555.5h0M733.4 555.2h0M733.5 535.5h0M733.2 537.7h0M733.0 571.0h0M732.6 539.8h0M732.8 538.5h0M733.1 525.8h0M734.1 542.8h0M734.1 514.5h0M733.7 537.0h0M733.9 552.0h0M733.8 529.2h0M733.8 530.7h0M734.1 545.4h0M733.9 496.4h0M734.2 542.7h0M734.3 552.7h0M733.8 548.9h0M734.3 535.3h0M734.5 521.3h0M733.7 553.7h0M733.9 556.0h0M734.5 564.2h0M734.8 514.9h0M734.7 532.9h0M734.8 529.0h0M734.6 493.1h0M735.1 515.0h0M735.3 509.3h0M734.8 522.3h0M735.4 534.4h0M735.2 545.5h0M735.3 490.7h0M734.8 527.1h0M734.9 533.1h0M735.3 538.9h0M734.9 546.9h0M735.8 530.6h0M736.1 542.2h0M736.0 519.3h0M736.4 521.6h0M736.3 513.7h0M736.4 527.0h0M735.9 509.2h0M735.6 549.0h0M736.3 559.7h0M735.6 542.5h0M736.0 566.8h0M735.9 521.0h0M735.9 543.3h0M735.6 549.5h0M735.5 541.2h0M735.7 541.2h0M737.5 554.5h0M737.2 546.8h0M737.3 508.5h0M737.1 556.0h0M736.6 535.6h0M737.2 518.8h0M736.7 552.6h0M737.5 532.4h0M736.9 546.7h0M736.8 547.5h0M736.9 566.7h0M736.5 545.4h0M737.4 530.9h0M737.5 497.8h0M736.5 523.4h0M738.3 530.7h0M737.8 523.8h0M737.6 542.9h0M737.8 503.4h0M738.1 517.0h0M738.0 534.5h0M737.5 523.4h0M737.7 479.1h0M737.9 506.1h0M738.3 515.6h0M737.8 534.8h0M738.3 513.3h0M738.0 491.8h0M737.7 513.3h0M738.0 530.0h0M738.3 541.1h0M738.7 560.3h0M739.2 564.0h0M738.8 513.5h0M739.0 536.1h0M738.5 521.4h0M739.2 516.2h0M739.1 517.3h0M739.2 499.4h0M738.8 516.5h0M738.7 496.2h0M739.0 544.4h0M738.5 488.0h0M738.7 545.3h0M739.1 528.4h0M739.3 562.0h0M738.8 546.0h0M739.5 556.2h0M739.8 539.6h0M740.3 559.5h0M740.1 520.9h0M740.0 526.2h0M740.2 532.4h0M740.5 538.4h0M740.0 564.8h0M739.8 528.0h0M739.7 569.4h0M740.1 519.0h0M739.5 527.1h0M739.6 556.9h0M740.0 519.6h0M740.0 537.4h0M741.4 542.9h0M740.7 517.3h0M741.0 548.8h0M740.6 528.2h0M741.4 561.4h0M741.5 536.6h0M741.1 553.7h0M741.3 535.7h0M741.2 556.1h0M741.0 547.4h0M740.7 547.8h0M740.9 548.8h0M741.5 512.4h0M740.5 576.6h0M741.0 539.2h0M742.2 541.0h0M742.1 526.1h0M742.2 569.9h0M742.4 531.0h0M742.3 525.5h0M742.5 558.2h0M741.6 511.7h0M742.4 498.3h0M742.4 536.1h0M742.4 542.4h0M741.6 491.7h0M742.1 546.3h0M742.0 540.1h0M741.9 534.5h0M741.7 563.6h0M741.8 527.6h0M743.4 479.7h0M742.7 540.8h0M743.2 550.9h0M743.2 533.9h0M743.3 546.3h0M742.9 521.3h0M742.6 489.9h0M742.8 532.9h0M743.4 532.2h0M743.2 559.9h0M743.3 554.4h0M742.9 527.1h0M743.3 546.0h0M742.8 496.6h0M743.4 537.3h0M744.2 504.6h0M743.6 533.1h0M744.3 511.3h0M744.1 522.3h0M744.0 549.9h0M743.6 532.8h0M743.7 566.7h0M744.4 515.2h0M743.7 531.2h0M743.8 525.0h0M743.8 542.0h0M744.4 515.6h0M744.2 566.1h0M743.9 527.7h0M743.7 501.2h0M744.4 487.1h0M744.9 493.8h0M745.4 554.3h0M745.4 513.7h0M744.9 545.6h0M744.7 513.3h0M745.3 543.2h0M745.0 503.8h0M744.8 552.9h0M745.2 506.8h0M745.3 574.2h0M745.4 541.4h0M744.8 547.9h0M745.0 548.0h0M745.0 528.4h0M744.6 565.8h0M746.3 502.6h0M745.7 549.0h0M746.2 496.4h0M745.5 524.8h0M746.3 566.3h0M746.0 525.1h0M746.1 511.8h0M745.8 548.5h0M745.8 529.0h0M746.0 554.3h0M745.7 514.8h0M745.9 541.0h0M745.8 547.7h0M746.2 555.4h0M745.8 527.2h0M746.2 560.7h0M746.6 524.9h0M746.8 503.3h0M746.9 544.0h0M747.2 543.6h0M747.0 520.2h0M746.6 522.0h0M747.3 561.4h0M746.7 545.0h0M747.3 503.3h0M746.6 522.2h0M747.3 533.4h0M747.2 543.0h0M746.9 542.8h0M746.8 572.6h0M747.4 527.0h0M747.8 529.0h0M747.9 529.3h0M747.9 500.7h0M748.0 512.8h0M748.5 555.3h0M747.9 564.9h0M747.7 523.7h0M748.0 553.5h0M748.0 545.1h0M747.9 496.2h0M748.3 529.8h0M748.3 531.3h0M748.4 517.7h0M748.4 514.1h0M748.5 528.1h0M748.0 531.0h0M749.0 522.0h0M748.6 525.2h0M749.0 523.1h0M749.3 509.9h0M749.5 554.8h0M748.9 531.3h0M749.1 545.3h0M749.5 514.7h0M749.0 552.2h0M748.6 533.1h0M749.4 567.6h0M748.6 521.0h0M748.9 557.8h0M748.8 543.9h0M748.6 551.8h0M749.1 552.7h0M749.8 525.8h0M750.3 516.2h0M750.3 537.4h0M749.9 561.8h0M750.5 535.3h0M749.7 541.0h0M750.4 508.1h0M750.0 509.7h0M750.2 510.0h0M750.2 546.6h0M750.3 564.7h0M750.3 523.2h0M749.7 549.0h0M750.0 536.0h0M749.8 563.0h0M750.4 568.4h0M750.9 560.0h0M751.3 522.9h0M751.0 524.0h0M750.6 531.6h0M750.7 543.0h0M751.4 489.8h0M751.0 532.2h0M750.8 513.5h0M751.5 536.3h0M750.5 539.8h0M751.0 549.8h0M750.9 557.1h0M751.4 556.1h0M751.0 520.8h0M750.7 557.3h0M751.8 506.0h0M751.9 561.0h0M752.4 549.2h0M751.7 548.0h0M752.3 549.3h0M752.0 559.8h0M752.2 516.5h0M752.4 531.8h0M752.0 549.3h0M752.0 559.0h0M751.6 560.3h0M752.2 541.5h0M751.9 524.0h0M752.2 521.1h0M752.3 485.4h0M751.9 524.2h0M752.5 507.5h0M753.3 561.6h0M752.9 505.9h0M752.6 545.3h0M753.0 541.5h0M752.6 525.2h0M753.0 518.0h0M752.9 520.8h0M752.7 532.1h0M752.8 530.3h0M753.1 569.1h0M753.5 555.7h0M752.7 533.9h0M753.3 538.2h0M752.7 556.9h0M753.2 574.6h0M753.7 554.7h0M754.2 529.2h0M754.1 488.6h0M753.9 574.1h0M753.8 535.7h0M754.0 540.8h0M754.4 532.2h0M753.8 514.2h0M754.3 543.3h0M753.8 517.3h0M753.8 544.6h0M754.2 511.1h0M754.2 543.4h0M753.5 508.1h0M754.2 537.2h0M754.2 517.8h0M755.4 494.3h0M755.3 533.9h0M754.9 572.1h0M755.3 507.3h0M754.6 524.5h0M754.7 542.0h0M755.4 542.2h0M755.4 520.3h0M755.1 554.9h0M754.5 565.7h0M754.6 531.4h0M755.1 515.1h0M755.1 507.9h0M755.3 538.2h0M754.9 537.8h0M755.6 505.0h0M755.8 540.3h0M756.0 535.7h0M756.0 540.2h0M755.7 546.8h0M756.4 513.2h0M756.1 526.1h0M755.9 526.1h0M756.5 535.3h0M756.1 527.1h0M755.6 487.2h0M755.6 537.1h0M755.7 548.4h0M755.9 549.4h0M756.2 508.5h0M757.4 543.5h0M757.2 526.7h0M757.5 546.9h0M756.9 509.0h0M756.6 533.5h0M756.6 544.6h0M757.3 513.4h0M757.2 534.3h0M756.8 548.9h0M756.7 526.5h0M756.7 521.5h0M757.4 568.9h0M757.0 542.2h0M756.7 521.7h0M757.0 525.8h0M757.9 573.8h0M757.7 507.3h0M757.7 555.8h0M757.6 536.3h0M757.8 553.6h0M757.8 552.7h0M758.4 541.0h0M758.0 514.7h0M757.6 573.5h0M757.6 550.6h0M757.9 536.2h0M757.7 550.3h0M757.7 550.1h0M758.2 528.1h0M758.0 514.9h0M759.2 556.7h0M758.6 518.4h0M758.6 565.7h0M758.9 486.7h0M759.4 551.2h0M759.3 524.1h0M759.3 526.9h0M758.6 520.7h0M758.8 531.7h0M758.9 562.1h0M758.9 530.1h0M758.8 546.2h0M759.2 525.8h0M759.0 525.6h0M760.3 566.4h0M759.7 536.6h0M760.4 541.9h0M759.8 504.9h0M759.8 558.9h0M760.2 557.8h0M759.5 537.3h0M760.3 525.7h0M760.3 575.2h0M759.6 522.6h0M760.2 573.0h0M759.9 544.1h0M759.8 545.0h0M760.0 509.0h0M761.1 497.7h0M761.0 529.4h0M760.5 530.2h0M761.0 494.1h0M760.7 554.1h0M760.8 534.6h0M761.3 567.8h0M760.6 509.4h0M761.2 557.3h0M761.3 553.4h0M761.0 565.9h0M761.4 549.3h0M761.4 575.5h0M761.1 545.0h0M762.4 553.2h0M761.7 516.5h0M762.0 546.1h0M762.2 551.1h0M761.6 538.1h0M762.0 511.2h0M762.2 503.4h0M761.7 539.0h0M761.7 534.8h0M762.1 521.3h0M762.2 517.3h0M762.0 527.4h0M761.9 553.0h0M761.6 531.9h0M763.4 521.7h0M763.3 541.0h0M763.3 521.9h0M762.5 537.7h0M763.2 552.9h0M763.5 541.1h0M762.8 560.7h0M762.8 538.3h0M762.7 551.7h0M763.3 502.7h0M763.4 512.2h0M763.3 541.8h0M763.0 536.2h0M762.9 566.0h0M764.4 537.3h0M764.1 526.8h0M763.9 552.8h0M763.5 540.3h0M764.2 538.2h0M764.4 548.7h0M763.8 522.1h0M764.1 504.5h0M763.6 543.8h0M763.9 576.0h0M763.8 529.0h0M764.2 535.2h0M764.3 554.2h0M765.4 531.0h0M765.4 480.5h0M765.0 548.4h0M765.1 522.2h0M764.9 528.4h0M765.0 541.7h0M764.8 506.9h0M765.5 547.4h0M764.8 541.7h0M765.5 512.8h0M765.3 539.7h0M764.7 537.8h0M765.1 526.6h0M766.1 535.7h0M766.3 550.6h0M765.8 556.6h0M765.6 524.9h0M766.2 532.7h0M765.5 501.6h0M765.9 485.2h0M765.6 538.0h0M765.9 516.4h0M766.0 560.5h0M765.8 507.0h0M765.5 537.9h0M765.8 534.8h0M766.8 553.2h0M766.9 528.5h0M767.5 520.1h0M766.6 525.1h0M767.2 569.9h0M766.8 527.6h0M766.9 569.9h0M767.3 545.9h0M767.2 528.0h0M766.7 491.3h0M767.1 515.9h0M767.4 525.3h0M767.0 550.7h0M768.0 534.8h0M768.1 550.5h0M767.6 536.3h0M768.2 544.8h0M767.7 528.5h0M768.0 522.3h0M768.3 559.0h0M767.9 544.4h0M768.2 546.0h0M768.0 549.5h0M768.2 528.4h0M767.9 527.9h0M767.8 570.1h0M768.9 526.7h0M769.5 539.4h0M768.9 527.5h0M768.6 544.0h0M768.7 560.7h0M769.1 547.4h0M769.4 532.2h0M769.2 575.7h0M768.6 540.0h0M769.4 549.4h0M769.2 550.6h0M768.7 541.6h0M769.1 486.4h0M769.8 558.4h0M769.8 512.2h0M770.3 534.9h0M769.7 555.2h0M769.9 512.9h0M770.5 512.7h0M770.5 566.6h0M770.4 559.3h0M770.3 532.6h0M770.3 527.8h0M770.4 558.8h0M770.3 521.9h0M770.9 571.6h0M771.1 534.0h0M771.1 538.2h0M771.1 528.0h0M770.6 523.6h0M770.5 529.2h0M770.7 533.5h0M771.0 510.8h0M770.6 559.2h0M771.0 522.1h0M771.4 542.1h0M771.4 551.9h0M772.2 531.4h0M772.4 524.2h0M772.3 550.6h0M772.1 505.5h0M772.0 515.8h0M772.3 500.6h0M771.5 522.4h0M772.0 556.6h0M772.2 520.5h0M772.0 543.3h0M771.8 531.5h0M771.7 490.8h0M772.7 507.3h0M772.8 513.4h0M773.3 510.0h0M772.9 543.1h0M773.0 541.4h0M773.5 536.5h0M772.8 498.2h0M772.6 550.7h0M773.1 518.6h0M772.8 546.3h0M773.3 546.5h0M773.0 516.3h0M774.2 504.1h0M773.7 544.9h0M774.3 557.3h0M773.7 542.8h0M774.2 493.8h0M773.6 563.4h0M773.7 564.8h0M773.5 505.1h0M774.3 517.8h0M774.2 517.8h0M774.4 523.1h0M775.0 557.8h0M775.2 554.2h0M775.0 530.4h0M775.1 540.1h0M774.5 537.0h0M775.4 504.1h0M775.2 536.5h0M775.4 517.0h0M775.1 514.1h0M775.3 528.6h0M775.1 506.0h0M776.5 525.0h0M775.7 553.1h0M775.9 530.8h0M776.2 543.1h0M775.8 516.2h0M776.0 512.6h0M775.8 538.1h0M775.5 554.2h0M776.4 526.6h0M776.1 546.1h0M775.9 544.2h0M776.6 537.9h0M776.7 509.2h0M777.0 517.1h0M776.9 496.5h0M776.7 564.5h0M777.0 542.3h0M777.5 535.4h0M777.0 542.8h0M777.2 537.0h0M776.7 553.2h0M777.3 519.2h0M777.8 527.1h0M777.5 554.1h0M777.8 501.7h0M777.8 551.3h0M778.2 527.9h0M778.4 522.1h0M777.8 572.4h0M778.5 543.9h0M778.2 546.3h0M777.8 492.6h0M778.7 547.3h0M779.1 537.7h0M778.7 559.9h0M779.1 531.3h0M779.3 529.5h0M779.4 523.0h0M778.8 572.9h0M779.4 569.2h0M778.9 525.6h0M778.8 553.9h0M780.4 530.6h0M780.0 543.4h0M780.5 499.9h0M780.1 511.3h0M779.9 518.7h0M779.9 536.6h0M780.5 562.6h0M780.2 520.6h0M779.8 505.4h0M781.5 497.2h0M780.7 540.0h0M780.9 536.7h0M781.2 538.3h0M780.6 538.3h0M781.2 520.1h0M780.5 541.7h0M781.2 515.5h0M780.6 513.1h0M780.6 535.4h0M781.8 548.2h0M782.3 547.0h0M782.1 508.0h0M782.5 496.9h0M782.0 549.3h0M781.8 547.7h0M782.5 535.1h0M782.2 556.6h0M782.2 572.5h0M782.4 526.4h0M782.9 506.8h0M782.7 527.7h0M783.4 542.7h0M782.9 546.1h0M783.0 533.8h0M783.1 511.1h0M782.8 561.2h0M782.5 556.7h0M782.8 517.3h0M783.6 526.8h0M784.4 560.2h0M784.1 504.8h0M784.4 543.1h0M783.9 546.2h0M783.6 561.2h0M783.7 522.1h0M783.7 514.7h0M784.1 527.9h0M785.4 522.0h0M785.1 507.2h0M784.7 492.5h0M785.0 517.3h0M785.1 527.1h0M785.1 557.7h0M784.9 523.9h0M785.0 540.9h0M784.5 535.5h0M786.4 536.2h0M786.1 518.0h0M785.7 508.8h0M786.2 528.8h0M785.6 562.3h0M786.5 522.2h0M785.6 529.3h0M786.5 494.4h0M786.8 562.7h0M786.6 513.7h0M787.1 523.5h0M786.6 574.0h0M787.2 524.7h0M786.8 543.2h0M786.5 516.3h0M787.4 519.9h0M786.5 519.4h0M788.0 541.4h0M787.6 562.7h0M788.4 556.4h0M788.5 505.5h0M787.7 479.7h0M788.4 541.1h0M788.1 555.6h0M788.1 552.3h0M788.8 538.9h0M788.7 554.3h0M789.5 543.0h0M789.5 548.9h0M788.6 557.5h0M789.1 540.1h0M789.2 569.3h0M788.5 498.5h0M789.7 503.1h0M789.6 508.8h0M790.0 551.5h0M790.1 520.8h0M790.3 523.4h0M790.2 538.6h0M789.5 558.7h0M790.6 519.2h0M791.0 500.1h0M790.6 542.6h0M790.8 493.1h0M791.2 520.6h0M790.5 551.5h0M791.1 522.3h0M792.3 519.6h0M792.0 543.9h0M792.0 551.1h0M792.3 553.6h0M791.7 509.8h0M791.7 511.8h0M792.4 556.0h0M793.4 560.4h0M792.8 519.6h0M793.2 499.2h0M793.3 527.4h0M793.1 554.6h0M793.2 512.9h0M793.1 542.0h0M792.6 508.5h0M793.8 524.9h0M793.6 524.1h0M793.6 511.9h0M793.5 555.9h0M793.6 522.3h0M793.6 508.2h0M793.5 522.0h0M795.0 521.2h0M794.5 525.4h0M795.1 557.5h0M794.9 531.0h0M795.4 518.1h0M794.6 528.3h0M795.3 534.3h0M795.8 560.7h0M795.9 515.1h0M795.8 516.1h0M795.9 566.6h0M796.3 480.7h0M796.3 504.1h0M796.2 555.4h0M796.7 557.6h0M797.2 531.0h0M796.8 545.4h0M797.1 528.1h0M797.4 552.8h0M797.2 528.6h0M798.0 556.4h0M798.0 559.9h0M797.6 556.6h0M798.4 526.6h0M798.4 510.1h0M798.2 518.0h0M798.0 531.2h0M799.4 531.7h0M799.2 488.6h0M798.8 522.0h0M798.8 541.0h0M799.1 485.1h0M799.0 513.9h0M799.6 516.0h0M800.1 537.8h0M800.2 510.9h0M800.2 525.4h0M799.9 517.9h0M800.1 534.1h0M799.6 527.6h0M801.3 546.1h0M800.8 554.0h0M801.2 514.6h0M801.0 538.7h0M801.4 548.9h0M801.2 509.6h0M801.4 522.8h0M801.6 500.6h0M802.1 528.8h0M801.6 557.1h0M801.8 489.7h0M802.5 526.4h0M802.5 501.2h0M802.6 502.3h0M802.8 517.8h0M802.6 504.9h0M802.7 510.0h0M802.9 481.5h0M803.0 560.1h0M804.0 508.3h0M804.3 527.4h0M804.3 537.4h0M804.2 574.1h0M804.0 562.2h0M804.0 542.0h0M805.2 536.9h0M805.1 510.1h0M805.3 526.9h0M805.5 545.9h0M805.3 540.1h0M805.2 533.3h0M806.0 518.9h0M805.5 518.5h0M806.0 525.3h0M806.3 575.2h0M806.2 559.6h0M805.9 559.3h0M807.5 550.0h0M807.0 515.4h0M806.6 517.4h0M806.9 535.9h0M806.7 557.1h0M807.2 552.0h0M807.6 504.4h0M808.3 481.1h0M807.6 566.9h0M808.1 543.0h0M807.9 515.7h0M807.9 536.6h0M808.5 552.1h0M809.3 515.7h0M808.8 533.5h0M808.9 555.8h0M808.8 533.3h0M809.6 535.8h0M809.7 547.6h0M810.1 502.2h0M809.6 509.1h0M810.4 510.1h0M809.8 556.0h0M811.0 524.6h0M810.7 527.0h0M810.8 511.6h0M810.9 528.7h0M811.0 511.4h0M812.1 522.7h0M812.1 529.0h0M811.6 499.3h0M811.9 508.1h0M812.4 503.7h0M812.2 505.8h0M813.1 513.0h0M812.9 523.0h0M813.5 544.8h0M813.5 521.6h0M812.6 556.3h0M813.3 526.1h0M814.0 574.7h0M814.2 490.6h0M814.2 503.3h0M814.0 513.5h0M814.0 545.3h0M814.5 519.4h0M814.6 563.9h0M815.3 502.9h0M814.7 568.3h0M815.3 543.6h0M816.3 515.5h0M816.4 488.4h0M816.4 509.8h0M816.5 537.9h0M816.1 554.9h0M816.6 486.0h0M817.0 508.1h0M816.7 513.5h0M816.6 524.6h0M816.7 559.7h0M818.0 521.7h0M817.7 515.5h0M818.0 543.0h0M817.9 557.3h0M818.4 542.1h0M818.6 556.4h0M818.6 505.7h0M819.1 521.2h0M819.4 558.4h0M818.8 550.5h0M820.1 566.1h0M819.8 542.9h0M820.0 528.4h0M819.6 555.8h0M820.3 556.9h0M821.5 542.2h0M820.7 546.3h0M820.8 528.3h0M821.3 529.1h0M821.3 562.4h0M821.8 522.3h0M821.6 559.1h0M822.2 518.5h0M822.3 531.3h0M821.7 472.0h0M823.0 510.8h0M822.8 514.1h0M822.8 527.0h0M823.3 523.2h0M823.9 541.2h0M824.0 520.9h0M823.7 554.6h0M824.4 551.3h0M823.9 548.4h0M825.4 521.2h0M824.7 528.9h0M824.9 513.0h0M824.6 546.0h0M826.3 520.0h0M825.9 504.7h0M826.3 517.3h0M825.9 543.3h0M826.5 520.4h0M827.3 485.5h0M826.7 526.0h0M828.3 515.7h0M828.3 540.6h0M828.1 538.8h0M828.1 559.8h0M829.0 519.4h0M829.4 522.9h0M828.9 513.0h0M828.9 524.0h0M829.9 514.3h0M829.9 534.9h0M829.6 518.5h0M831.4 505.4h0M830.8 484.6h0M831.4 538.1h0M832.2 498.0h0M832.4 533.7h0M832.1 536.1h0M831.6 566.7h0M832.6 505.1h0M832.9 563.7h0M832.6 544.8h0M833.7 555.4h0M834.4 570.0h0M834.2 523.9h0M833.7 508.6h0M834.6 546.8h0M835.1 541.2h0M834.6 506.9h0M834.8 521.2h0M835.9 553.3h0M836.2 501.7h0M835.8 549.8h0M835.6 565.3h0M836.9 534.0h0M836.8 538.2h0M837.1 490.1h0M837.1 531.3h0M837.7 524.5h0M837.6 551.2h0M837.8 509.1h0M839.3 531.4h0M839.2 556.3h0M839.1 518.2h0M839.1 549.3h0M840.0 522.2h0M840.3 535.4h0M840.1 513.3h0M840.7 490.1h0M840.8 569.0h0M840.6 521.6h0M841.6 508.0h0M842.0 503.7h0M842.0 540.9h0M843.5 537.1h0M842.8 536.4h0M842.6 568.1h0M843.5 539.4h0M843.7 536.8h0M844.5 552.9h0M844.9 516.7h0M844.8 529.0h0M845.2 515.0h0M845.2 495.1h0M845.6 564.7h0M846.3 535.1h0M846.2 513.2h0M845.5 517.6h0M846.6 521.0h0M847.1 568.4h0M847.4 554.6h0M847.7 504.0h0M848.2 512.5h0M847.6 510.6h0M849.4 520.0h0M849.3 481.1h0M848.6 496.4h0M850.0 557.1h0M850.0 514.8h0M849.9 545.1h0M851.1 539.5h0M851.1 543.0h0M851.1 504.5h0M852.5 533.4h0M851.8 513.1h0M852.1 527.9h0M852.9 551.3h0M853.0 537.9h0M853.1 532.7h0M853.7 524.6h0M854.0 575.1h0M854.2 503.1h0M855.0 522.8h0M855.2 523.6h0M854.8 516.3h0M855.9 526.3h0M856.4 493.8h0M855.8 526.3h0M857.0 523.1h0M856.5 553.4h0M856.7 515.2h0M858.2 561.5h0M857.6 542.2h0M857.7 508.3h0M859.4 523.2h0M859.1 508.7h0M859.5 539.4h0M860.0 534.7h0M859.6 498.4h0M860.3 565.4h0M859.7 515.6h0M860.6 566.7h0M861.2 535.4h0M861.3 523.4h0M862.1 530.3h0M862.3 510.1h0M861.9 563.4h0M862.0 518.5h0M862.6 500.2h0M863.2 539.1h0M863.1 495.1h0M863.8 530.3h0M864.2 532.3h0M863.8 506.5h0M864.7 540.8h0M865.5 506.2h0M864.7 564.3h0M865.6 528.3h0M865.6 520.5h0M866.1 532.2h0M867.4 527.7h0M867.4 526.3h0M867.2 536.6h0M868.4 553.3h0M867.9 551.2h0M868.5 482.1h0M869.3 563.8h0M869.4 548.1h0M868.8 544.2h0M869.8 515.1h0M870.1 523.9h0M869.6 524.1h0M870.9 495.3h0M871.4 488.1h0M870.6 529.2h0M871.6 521.2h0M872.4 525.1h0M872.1 505.7h0M872.6 483.4h0M872.5 539.4h0M873.2 557.1h0M873.6 544.4h0M873.6 478.0h0M873.6 558.9h0M874.8 521.7h0M874.9 544.0h0M875.5 559.2h0M876.0 564.8h0M876.3 510.3h0M876.3 498.1h0M877.1 482.9h0M877.2 557.2h0M877.3 544.4h0M877.9 552.8h0M877.7 486.7h0M877.7 548.6h0" stroke="#111" stroke-width="2.6" stroke-linecap="round" fill="none"/>
<path d="M489.5 625.4h0M491.2 625.4h0M492.9 625.4h0M494.6 625.4h0M496.3 625.4h0M498.0 625.4h0M499.7 625.4h0M501.4 625.4h0M503.1 625.4h0M504.8 625.4h0M506.5 625.4h0M508.2 625.4h0M509.9 625.4h0M511.6 625.4h0M513.3 625.4h0M515.0 625.4h0M516.7 625.4h0M518.4 625.4h0M520.1 625.4h0M521.8 625.4h0M523.5 625.4h0M525.2 625.4h0M526.9 625.4h0M528.6 625.4h0M530.3 625.4h0M532.0 625.4h0M533.7 625.4h0M535.4 625.4h0M537.1 625.4h0M538.8 625.4h0M540.5 625.4h0M542.2 625.4h0M543.9 625.4h0M545.6 625.4h0M547.3 625.4h0M549.0 625.4h0M550.7 625.4h0M552.4 625.4h0M554.1 625.4h0M555.8 625.4h0M557.5 625.4h0M559.2 625.4h0M560.9 625.4h0M562.6 625.4h0M564.3 625.4h0M566.0 625.4h0M567.7 625.4h0M569.4 625.4h0M571.1 625.4h0M572.8 625.4h0M574.5 625.4h0M576.2 625.4h0M577.9 625.4h0M579.6 625.4h0M581.3 625.4h0M583.0 625.4h0M584.7 625.4h0M586.4 625.4h0M588.1 625.4h0M589.8 625.4h0M591.5 625.4h0M593.2 625.4h0M594.9 625.4h0M596.6 625.4h0M598.3 625.4h0M600.0 625.4h0M601.7 625.4h0M603.4 625.4h0M605.1 625.4h0M606.8 625.4h0M608.5 625.4h0M610.2 625.4h0M611.9 625.4h0M613.6 625.4h0M615.3 625.4h0M617.0 625.4h0M618.7 625.4h0M620.4 625.4h0M622.1 625.4h0M623.8 625.4h0M625.5 625.4h0M627.2 625.4h0M628.9 625.4h0M630.6 625.4h0M632.3 625.4h0M634.0 625.4h0M635.7 625.4h0M637.4 625.4h0M639.1 625.4h0M640.8 625.4h0M642.5 625.4h0M644.2 625.4h0M645.9 625.4h0M647.6 625.4h0M649.3 625.4h0M651.0 625.4h0M652.7 625.4h0M654.4 625.4h0M656.1 625.4h0M657.8 625.4h0M659.5 625.4h0M661.2 625.4h0M662.9 625.4h0M664.6 625.4h0M666.3 625.4h0M668.0 625.4h0M669.7 625.4h0M671.4 625.4h0M673.1 625.4h0M674.8 625.4h0M676.5 625.4h0M678.2 625.4h0M679.9 625.4h0M681.6 625.4h0M683.3 625.4h0M685.0 625.4h0M686.7 625.4h0M688.4 625.4h0M690.1 625.4h0M691.8 625.4h0M693.5 625.4h0M695.2 625.4h0M696.9 625.4h0M698.6 625.4h0M700.3 625.4h0M702.0 625.4h0M703.7 625.4h0M705.4 625.4h0M707.1 625.4h0M708.8 625.4h0M710.5 625.4h0M712.2 625.4h0M713.9 625.4h0M715.6 625.4h0M717.3 625.4h0M719.0 625.4h0M720.7 625.4h0M722.4 625.4h0M724.1 625.4h0M725.8 625.4h0M727.5 625.4h0M729.2 625.4h0M730.9 625.4h0M732.6 625.4h0M734.3 625.4h0M736.0 625.4h0M737.7 625.4h0M739.4 625.4h0M741.1 625.4h0M742.8 625.4h0M744.5 625.4h0M746.2 625.4h0M747.9 625.4h0M749.6 625.4h0M751.3 625.4h0M753.0 625.4h0M754.7 625.4h0M756.4 625.4h0M758.1 625.4h0M759.8 625.4h0M761.5 625.4h0M763.2 625.4h0M764.9 625.4h0M766.6 625.4h0M768.3 625.4h0M770.0 625.4h0M771.7 625.4h0M773.4 625.4h0M775.1 625.4h0M776.8 625.4h0M778.5 625.4h0M780.2 625.4h0M781.9 625.4h0M783.6 625.4h0M785.3 625.4h0M787.0 625.4h0M788.7 625.4h0M790.4 625.4h0M792.1 625.4h0M793.8 625.4h0M795.5 625.4h0M797.2 625.4h0M810.0 625.4h0M812.5 625.4h0M815.5 625.4h0M819.0 625.4h0M822.5 625.4h0M827.0 625.4h0M831.0 625.4h0M835.5 625.4h0M839.0 625.4h0M842.5 625.4h0M846.0 625.4h0M849.5 625.4h0M856.0 625.4h0M861.7 625.4h0" stroke="#111" stroke-width="2.3" stroke-linecap="round" fill="none"/>
<line x1="489.5" y1="528.8" x2="879" y2="536.2" stroke="#2db7ea" stroke-width="5.3" stroke-linecap="butt"/>
<text x="839.0" y="449.6" font-size="4.6" fill="#555" text-anchor="middle"><tspan font-style="italic">y</tspan> = 357 × 0.98<tspan dy="-1.6" font-size="3.2" font-style="italic">x</tspan></text>
<path d="M723.5 580.9 L730.6 587.0 L727.1 587.0 L727.1 594.1 L719.9 594.1 L719.9 587.0 L716.4 587.0Z" fill="#fff" stroke="#cf1322" stroke-width="2.4" stroke-linejoin="round"/>
<text x="704.7" y="611.4" font-size="16.6" fill="#161616" font-weight="bold" textLength="149.5" lengthAdjust="spacingAndGlyphs">6 months: 9.4% &lt;50</text>
<text x="0.0" y="0.0" font-size="12.2" fill="#161616" font-weight="bold" text-anchor="middle" textLength="90.0" lengthAdjust="spacingAndGlyphs" transform="translate(446.8 551.8) rotate(-90)">antibody titer</text>
<text x="609.0" y="663.2" font-size="12.4" fill="#161616" font-weight="bold" textLength="171.5" lengthAdjust="spacingAndGlyphs">months since positive PCR</text>
<rect x="953.6" y="440.0" width="285.4" height="191.29999999999995" fill="#fff" stroke="#bdbdbd" stroke-width="1"/>
<rect x="966.6" y="448.3" width="260.6" height="174.5" fill="#d6f6f8"/>
<rect x="966.6" y="448.3" width="22.4" height="37.2" fill="#f6756c"/>
<rect x="966.6" y="485.5" width="22.4" height="137.3" fill="#05bbc2"/>
<text x="977.8" y="465.9" font-size="5.0" fill="#8c2a26" text-anchor="middle">46</text>
<text x="977.8" y="471.3" font-size="5.0" fill="#8c2a26" text-anchor="middle" textLength="19.0" lengthAdjust="spacingAndGlyphs">(21.8%)</text>
<text x="977.8" y="553.1" font-size="5.0" fill="#0b6a70" text-anchor="middle">211</text>
<text x="977.8" y="558.5" font-size="5.0" fill="#0b6a70" text-anchor="middle" textLength="19.0" lengthAdjust="spacingAndGlyphs">(78.2%)</text>
<line x1="977.8" y1="631.3" x2="977.8" y2="633.6999999999999" stroke="#888" stroke-width="1"/>
<text x="977.8" y="638.5" font-size="4.5" fill="#8a8a8a" text-anchor="middle">0</text>
<rect x="993.1" y="448.3" width="22.4" height="22.2" fill="#f6756c"/>
<rect x="993.1" y="470.5" width="22.4" height="152.3" fill="#05bbc2"/>
<text x="1004.3" y="458.4" font-size="5.0" fill="#8c2a26" text-anchor="middle">50</text>
<text x="1004.3" y="463.8" font-size="5.0" fill="#8c2a26" text-anchor="middle" textLength="19.0" lengthAdjust="spacingAndGlyphs">(13.0%)</text>
<text x="1004.3" y="545.6" font-size="5.0" fill="#0b6a70" text-anchor="middle">335</text>
<text x="1004.3" y="551.0" font-size="5.0" fill="#0b6a70" text-anchor="middle" textLength="19.0" lengthAdjust="spacingAndGlyphs">(87.0%)</text>
<line x1="1004.3" y1="631.3" x2="1004.3" y2="633.6999999999999" stroke="#888" stroke-width="1"/>
<text x="1004.3" y="638.5" font-size="4.5" fill="#8a8a8a" text-anchor="middle">1</text>
<rect x="1019.5" y="448.3" width="22.4" height="11.5" fill="#f6756c"/>
<rect x="1019.5" y="459.8" width="22.4" height="163.0" fill="#05bbc2"/>
<text x="1030.7" y="453.1" font-size="5.0" fill="#8c2a26" text-anchor="middle">36</text>
<text x="1030.7" y="458.5" font-size="5.0" fill="#8c2a26" text-anchor="middle" textLength="19.0" lengthAdjust="spacingAndGlyphs">(7.2%)</text>
<text x="1030.7" y="540.3" font-size="5.0" fill="#0b6a70" text-anchor="middle">470</text>
<text x="1030.7" y="545.7" font-size="5.0" fill="#0b6a70" text-anchor="middle" textLength="19.0" lengthAdjust="spacingAndGlyphs">(92.8%)</text>
<line x1="1030.7" y1="631.3" x2="1030.7" y2="633.6999999999999" stroke="#888" stroke-width="1"/>
<text x="1030.7" y="638.5" font-size="4.5" fill="#8a8a8a" text-anchor="middle">2</text>
<rect x="1046.0" y="448.3" width="22.4" height="10.6" fill="#f6756c"/>
<rect x="1046.0" y="458.9" width="22.4" height="163.9" fill="#05bbc2"/>
<text x="1057.2" y="452.6" font-size="5.0" fill="#8c2a26" text-anchor="middle">33</text>
<text x="1057.2" y="458.0" font-size="5.0" fill="#8c2a26" text-anchor="middle" textLength="19.0" lengthAdjust="spacingAndGlyphs">(6.5%)</text>
<text x="1057.2" y="539.9" font-size="5.0" fill="#0b6a70" text-anchor="middle">472</text>
<text x="1057.2" y="545.3" font-size="5.0" fill="#0b6a70" text-anchor="middle" textLength="19.0" lengthAdjust="spacingAndGlyphs">(93.5%)</text>
<line x1="1057.2" y1="631.3" x2="1057.2" y2="633.6999999999999" stroke="#888" stroke-width="1"/>
<text x="1057.2" y="638.5" font-size="4.5" fill="#8a8a8a" text-anchor="middle">3</text>
<rect x="1072.5" y="448.3" width="22.4" height="15.9" fill="#f6756c"/>
<rect x="1072.5" y="464.2" width="22.4" height="158.6" fill="#05bbc2"/>
<text x="1083.7" y="455.2" font-size="5.0" fill="#8c2a26" text-anchor="middle">47</text>
<text x="1083.7" y="460.6" font-size="5.0" fill="#8c2a26" text-anchor="middle" textLength="19.0" lengthAdjust="spacingAndGlyphs">(9.4%)</text>
<text x="1083.7" y="542.5" font-size="5.0" fill="#0b6a70" text-anchor="middle">455</text>
<text x="1083.7" y="547.9" font-size="5.0" fill="#0b6a70" text-anchor="middle" textLength="19.0" lengthAdjust="spacingAndGlyphs">(90.6%)</text>
<line x1="1083.7" y1="631.3" x2="1083.7" y2="633.6999999999999" stroke="#888" stroke-width="1"/>
<text x="1083.7" y="638.5" font-size="4.5" fill="#8a8a8a" text-anchor="middle">4</text>
<rect x="1099.0" y="448.3" width="22.4" height="16.8" fill="#f6756c"/>
<rect x="1099.0" y="465.1" width="22.4" height="157.7" fill="#05bbc2"/>
<text x="1110.2" y="455.7" font-size="5.0" fill="#8c2a26" text-anchor="middle">53</text>
<text x="1110.2" y="461.1" font-size="5.0" fill="#8c2a26" text-anchor="middle" textLength="19.0" lengthAdjust="spacingAndGlyphs">(9.8%)</text>
<text x="1110.2" y="542.9" font-size="5.0" fill="#0b6a70" text-anchor="middle">486</text>
<text x="1110.2" y="548.3" font-size="5.0" fill="#0b6a70" text-anchor="middle" textLength="19.0" lengthAdjust="spacingAndGlyphs">(90.2%)</text>
<line x1="1110.2" y1="631.3" x2="1110.2" y2="633.6999999999999" stroke="#888" stroke-width="1"/>
<text x="1110.2" y="638.5" font-size="4.5" fill="#8a8a8a" text-anchor="middle">5</text>
<rect x="1125.4" y="448.3" width="22.4" height="16.1" fill="#f6756c"/>
<rect x="1125.4" y="464.4" width="22.4" height="158.4" fill="#05bbc2"/>
<text x="1136.6" y="455.3" font-size="5.0" fill="#8c2a26" text-anchor="middle">48</text>
<text x="1136.6" y="460.7" font-size="5.0" fill="#8c2a26" text-anchor="middle" textLength="19.0" lengthAdjust="spacingAndGlyphs">(9.4%)</text>
<text x="1136.6" y="542.6" font-size="5.0" fill="#0b6a70" text-anchor="middle">464</text>
<text x="1136.6" y="548.0" font-size="5.0" fill="#0b6a70" text-anchor="middle" textLength="19.0" lengthAdjust="spacingAndGlyphs">(90.6%)</text>
<line x1="1136.6" y1="631.3" x2="1136.6" y2="633.6999999999999" stroke="#888" stroke-width="1"/>
<text x="1136.6" y="638.5" font-size="4.5" fill="#8a8a8a" text-anchor="middle">6</text>
<rect x="1151.9" y="448.3" width="22.4" height="18.7" fill="#f6756c"/>
<rect x="1151.9" y="467.0" width="22.4" height="155.8" fill="#05bbc2"/>
<text x="1163.1" y="456.6" font-size="5.0" fill="#8c2a26" text-anchor="middle">41</text>
<text x="1163.1" y="462.0" font-size="5.0" fill="#8c2a26" text-anchor="middle" textLength="19.0" lengthAdjust="spacingAndGlyphs">(11.0%)</text>
<text x="1163.1" y="543.9" font-size="5.0" fill="#0b6a70" text-anchor="middle">333</text>
<text x="1163.1" y="549.3" font-size="5.0" fill="#0b6a70" text-anchor="middle" textLength="19.0" lengthAdjust="spacingAndGlyphs">(89.0%)</text>
<line x1="1163.1" y1="631.3" x2="1163.1" y2="633.6999999999999" stroke="#888" stroke-width="1"/>
<text x="1163.1" y="638.5" font-size="4.5" fill="#8a8a8a" text-anchor="middle">7</text>
<rect x="1178.4" y="448.3" width="22.4" height="17.8" fill="#f6756c"/>
<rect x="1178.4" y="466.1" width="22.4" height="156.7" fill="#05bbc2"/>
<text x="1189.6" y="456.2" font-size="5.0" fill="#8c2a26" text-anchor="middle">27</text>
<text x="1189.6" y="461.6" font-size="5.0" fill="#8c2a26" text-anchor="middle" textLength="19.0" lengthAdjust="spacingAndGlyphs">(10.5%)</text>
<text x="1189.6" y="543.4" font-size="5.0" fill="#0b6a70" text-anchor="middle">231</text>
<text x="1189.6" y="548.8" font-size="5.0" fill="#0b6a70" text-anchor="middle" textLength="19.0" lengthAdjust="spacingAndGlyphs">(89.5%)</text>
<line x1="1189.6" y1="631.3" x2="1189.6" y2="633.6999999999999" stroke="#888" stroke-width="1"/>
<text x="1189.6" y="638.5" font-size="4.5" fill="#8a8a8a" text-anchor="middle">8</text>
<rect x="1204.8" y="448.3" width="22.4" height="18.7" fill="#f6756c"/>
<rect x="1204.8" y="467.0" width="22.4" height="155.8" fill="#05bbc2"/>
<text x="1216.0" y="456.6" font-size="5.0" fill="#8c2a26" text-anchor="middle">12</text>
<text x="1216.0" y="462.0" font-size="5.0" fill="#8c2a26" text-anchor="middle" textLength="19.0" lengthAdjust="spacingAndGlyphs">(10.8%)</text>
<text x="1216.0" y="543.9" font-size="5.0" fill="#0b6a70" text-anchor="middle">99</text>
<text x="1216.0" y="549.3" font-size="5.0" fill="#0b6a70" text-anchor="middle" textLength="19.0" lengthAdjust="spacingAndGlyphs">(89.2%)</text>
<line x1="1216.0" y1="631.3" x2="1216.0" y2="633.6999999999999" stroke="#888" stroke-width="1"/>
<text x="1216.0" y="638.5" font-size="4.5" fill="#8a8a8a" text-anchor="middle">9</text>
<line x1="950.6" y1="448.3" x2="953.6" y2="448.3" stroke="#888" stroke-width="1"/>
<text x="949.1" y="449.9" font-size="4.5" fill="#8a8a8a" text-anchor="end">100%</text>
<line x1="950.6" y1="491.9" x2="953.6" y2="491.9" stroke="#888" stroke-width="1"/>
<text x="949.1" y="493.5" font-size="4.5" fill="#8a8a8a" text-anchor="end">75%</text>
<line x1="950.6" y1="535.5" x2="953.6" y2="535.5" stroke="#888" stroke-width="1"/>
<text x="949.1" y="537.1" font-size="4.5" fill="#8a8a8a" text-anchor="end">50%</text>
<line x1="950.6" y1="579.2" x2="953.6" y2="579.2" stroke="#888" stroke-width="1"/>
<text x="949.1" y="580.8" font-size="4.5" fill="#8a8a8a" text-anchor="end">25%</text>
<line x1="950.6" y1="622.8" x2="953.6" y2="622.8" stroke="#888" stroke-width="1"/>
<text x="949.1" y="624.4" font-size="4.5" fill="#8a8a8a" text-anchor="end">0%</text>
<rect x="978.8" y="566.9" width="120.2" height="51.4" fill="#fff"/>
<text x="982.5" y="575.4" font-size="9.0" fill="#333" textLength="113.0" lengthAdjust="spacingAndGlyphs">antibody titer range</text>
<rect x="982.9" y="582.5" width="19" height="16.4" fill="#f6756c"/>
<rect x="982.9" y="600.5" width="19" height="15.5" fill="#05bbc2"/>
<text x="1010.3" y="594.4" font-size="8.8" fill="#444" textLength="17.0" lengthAdjust="spacingAndGlyphs">&lt;50</text>
<text x="1010.3" y="612.0" font-size="8.8" fill="#444" textLength="17.0" lengthAdjust="spacingAndGlyphs">≥50</text>
<path d="M1137.0 471.8 L1143.6 478.2 L1140.8 478.2 L1140.8 485.2 L1133.2 485.2 L1133.2 478.2 L1130.4 478.2Z" fill="#fff" stroke="#a9112b" stroke-width="2.4" stroke-linejoin="round"/>
<text x="1009.5" y="659.5" font-size="12.4" fill="#161616" font-weight="bold" textLength="171.5" lengthAdjust="spacingAndGlyphs">months since positive PCR</text>
<rect x="37.1" y="647.1" width="100.8" height="56.6" rx="9.5" ry="9.5" fill="#1c4c9f"/>
<path d="M78.8 658.4 A21.9 21.9 0 1 0 68.5 696.8" fill="none" stroke="#8fb6ea" stroke-width="1.2"/>
<g fill="none" stroke="#e3effb" stroke-linecap="round" stroke-linejoin="round" stroke-width="1.9"><path d="M82.1 660.4 C76.0 666.0 70.0 673.0 65.6 680.6 C62.4 682.8 58.6 684.0 55.4 684.8"/><path d="M85.0 663.4 C79.0 669.0 73.6 675.6 69.6 683.0 C69.4 685.6 70.6 687.8 72.4 689.6"/><path d="M85.8 669.4 C81.2 673.8 77.2 679.0 74.4 685.0 C74.6 686.6 75.4 687.8 76.4 688.8"/><path d="M56.6 686.8 C62.0 686.6 67.0 688.4 70.6 691.0 C72.4 692.2 73.8 693.2 75.0 694.4"/><path d="M62.6 690.0 C65.6 691.0 68.0 692.8 69.6 695.0"/><path d="M79.6 684.4 C81.8 685.3 84.0 685.5 86.2 685.1"/></g>
<circle cx="68.4" cy="697.2" r="1.5" fill="#e3effb"/>
<rect x="92.4" y="662.9" width="38.9" height="28.9" fill="#2b69bd" stroke="#7fb2e6" stroke-width="0.8"/>
<text x="112.2" y="680.5" font-size="18.2" fill="#dcf3ff" font-weight="bold" text-anchor="middle" textLength="32.6" lengthAdjust="spacingAndGlyphs">CDC</text>
<rect x="93.4" y="683.4" width="36.9" height="3.1" fill="#6ea6e0" opacity="0.8"/>
<text x="111.9" y="685.9" font-size="2.5" fill="#e6f4ff" text-anchor="middle" textLength="34.0" lengthAdjust="spacingAndGlyphs">CENTERS FOR DISEASE</text>
<text x="111.9" y="690.3" font-size="2.5" fill="#b7d6f4" text-anchor="middle" textLength="34.0" lengthAdjust="spacingAndGlyphs">CONTROL AND PREVENTION</text>
<text x="149.2" y="685.3" font-size="12.6" fill="#333333" textLength="63.0" lengthAdjust="spacingAndGlyphs">Israel 2021,</text>
<text x="221.3" y="685.3" font-size="12.6" fill="#333333" textLength="46.5" lengthAdjust="spacingAndGlyphs" text-decoration="underline">medRxiv</text>
<text x="268.3" y="685.3" font-size="12.6" fill="#333333">:</text>
<text x="277.8" y="685.3" font-size="12.6" fill="#333333" textLength="269.0" lengthAdjust="spacingAndGlyphs" text-decoration="underline">https://doi.org/10.1101/2021.08.19.21262111</text>
<text x="148.3" y="707.4" font-size="9.0" fill="#e5242f" font-weight="bold" textLength="498.0" lengthAdjust="spacingAndGlyphs">Data are Provisional Until Officially Released by CDC – For Internal Use Only – For Official Use Only</text>
<text x="651.5" y="707.4" font-size="9.0" fill="#e5242f" font-weight="bold">.</text>
<text x="661.5" y="707.4" font-size="9.0" fill="#e5242f" font-weight="bold" textLength="126.5" lengthAdjust="spacingAndGlyphs">Sensitive But Unclassified</text>
<text x="794.0" y="707.4" font-size="9.0" fill="#e5242f" font-weight="bold" textLength="141.0" lengthAdjust="spacingAndGlyphs">– Not for Further Distribution</text>
<text x="944.5" y="707.4" font-size="9.0" fill="#e5242f" font-weight="bold" textLength="254.0" lengthAdjust="spacingAndGlyphs">. Predecisional Draft for Internal CDC Briefing Only</text>
</svg>
</body>
</html>
